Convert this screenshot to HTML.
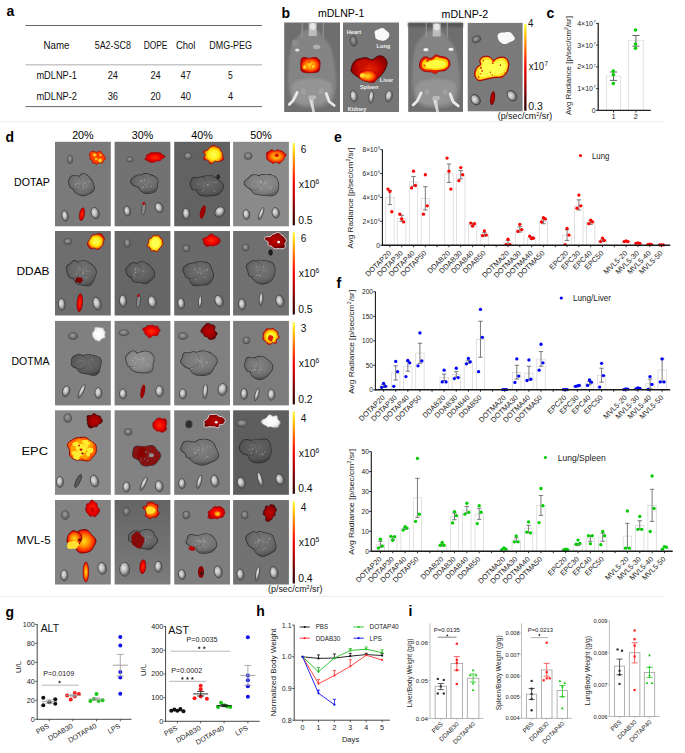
<!DOCTYPE html>
<html><head><meta charset="utf-8"><title>Figure</title>
<style>
html,body{margin:0;padding:0;background:#fff;}
body{width:685px;height:753px;overflow:hidden;}
svg{display:block;font-family:"Liberation Sans", sans-serif;}
</style></head><body>
<svg width="685" height="753" viewBox="0 0 685 753">
<defs>
<linearGradient id="cbar" x1="0" y1="1" x2="0" y2="0">
 <stop offset="0" stop-color="#2a0000"/>
 <stop offset="0.15" stop-color="#600000"/>
 <stop offset="0.35" stop-color="#b80000"/>
 <stop offset="0.5" stop-color="#f00000"/>
 <stop offset="0.62" stop-color="#ff3000"/>
 <stop offset="0.78" stop-color="#ff8c00"/>
 <stop offset="0.9" stop-color="#ffd000"/>
 <stop offset="1" stop-color="#ffff50"/>
</linearGradient>
<radialGradient id="gY"><stop offset="0" stop-color="#ffff60"/><stop offset="0.55" stop-color="#ffee10"/><stop offset="0.8" stop-color="#ff9a00"/><stop offset="1" stop-color="#d81000"/></radialGradient>
<radialGradient id="gO"><stop offset="0" stop-color="#ffe020"/><stop offset="0.45" stop-color="#ff9000"/><stop offset="0.8" stop-color="#ff3000"/><stop offset="1" stop-color="#c00000"/></radialGradient>
<radialGradient id="gR"><stop offset="0" stop-color="#ff3000"/><stop offset="0.6" stop-color="#f00000"/><stop offset="1" stop-color="#b00000"/></radialGradient>
<radialGradient id="gR2"><stop offset="0" stop-color="#e82800"/><stop offset="0.6" stop-color="#c40800"/><stop offset="1" stop-color="#900000"/></radialGradient>
<radialGradient id="gD"><stop offset="0" stop-color="#c00000"/><stop offset="0.7" stop-color="#9a0000"/><stop offset="1" stop-color="#6a0000"/></radialGradient>
<radialGradient id="gW"><stop offset="0" stop-color="#ffffff"/><stop offset="0.75" stop-color="#f4f4f4"/><stop offset="1" stop-color="#d0d0d0"/></radialGradient>
<radialGradient id="gK" cx="0.4" cy="0.4"><stop offset="0" stop-color="#e8e8e8"/><stop offset="0.6" stop-color="#b8b8b8"/><stop offset="1" stop-color="#707070"/></radialGradient>
<radialGradient id="gL" cx="0.5" cy="0.42"><stop offset="0" stop-color="#ffffff" stop-opacity="0.10"/><stop offset="0.55" stop-color="#000000" stop-opacity="0.04"/><stop offset="0.85" stop-color="#000000" stop-opacity="0.14"/><stop offset="1" stop-color="#000000" stop-opacity="0.32"/></radialGradient>
<radialGradient id="gH" cx="0.45" cy="0.4"><stop offset="0" stop-color="#a0a0a0"/><stop offset="1" stop-color="#606060"/></radialGradient>
</defs>
<defs><filter id="soft" x="-20%" y="-20%" width="140%" height="140%"><feGaussianBlur stdDeviation="1.3"/></filter><filter id="soft2" x="-20%" y="-20%" width="140%" height="140%"><feGaussianBlur stdDeviation="0.6"/></filter></defs>
<text x="6.50" y="16.20" font-size="14" font-weight="bold">a</text>
<line x1="25.50" y1="25.50" x2="262.00" y2="25.50" stroke="#555" stroke-width="0.9"/>
<line x1="25.50" y1="64.80" x2="262.00" y2="64.80" stroke="#c8c8c8" stroke-width="1.6"/>
<line x1="25.50" y1="106.60" x2="262.00" y2="106.60" stroke="#555" stroke-width="0.9"/>
<text x="43.50" y="49.10" font-size="10.2" fill="#111" textLength="26.0" lengthAdjust="spacingAndGlyphs">Name</text>
<text x="94.70" y="49.10" font-size="10.2" fill="#111" textLength="36.2" lengthAdjust="spacingAndGlyphs">5A2-SC8</text>
<text x="143.70" y="49.10" font-size="10.2" fill="#111" textLength="23.7" lengthAdjust="spacingAndGlyphs">DOPE</text>
<text x="176.00" y="49.10" font-size="10.2" fill="#111" textLength="19.4" lengthAdjust="spacingAndGlyphs">Chol</text>
<text x="209.30" y="49.10" font-size="10.2" fill="#111" textLength="42.7" lengthAdjust="spacingAndGlyphs">DMG-PEG</text>
<text x="36.40" y="79.20" font-size="10.2" fill="#111" textLength="40.6" lengthAdjust="spacingAndGlyphs">mDLNP-1</text>
<text x="107.70" y="79.20" font-size="10.2" fill="#111" textLength="10.3" lengthAdjust="spacingAndGlyphs">24</text>
<text x="150.40" y="79.20" font-size="10.2" fill="#111" textLength="10.3" lengthAdjust="spacingAndGlyphs">24</text>
<text x="180.50" y="79.20" font-size="10.2" fill="#111" textLength="10.4" lengthAdjust="spacingAndGlyphs">47</text>
<text x="228.10" y="79.20" font-size="10.2" fill="#111" textLength="4.7" lengthAdjust="spacingAndGlyphs">5</text>
<text x="36.40" y="99.80" font-size="10.2" fill="#111" textLength="40.6" lengthAdjust="spacingAndGlyphs">mDLNP-2</text>
<text x="107.70" y="99.80" font-size="10.2" fill="#111" textLength="10.3" lengthAdjust="spacingAndGlyphs">36</text>
<text x="150.40" y="99.80" font-size="10.2" fill="#111" textLength="10.3" lengthAdjust="spacingAndGlyphs">20</text>
<text x="180.50" y="99.80" font-size="10.2" fill="#111" textLength="10.4" lengthAdjust="spacingAndGlyphs">40</text>
<text x="227.90" y="99.80" font-size="10.2" fill="#111" textLength="5.1" lengthAdjust="spacingAndGlyphs">4</text>
<text x="281.50" y="18.30" font-size="14" font-weight="bold">b</text>
<text x="317.90" y="17.40" font-size="10.6" textLength="46.4" lengthAdjust="spacingAndGlyphs">mDLNP-1</text>
<text x="441.60" y="17.50" font-size="10.6" textLength="46.7" lengthAdjust="spacingAndGlyphs">mDLNP-2</text>
<rect x="284.20" y="22.50" width="55.80" height="89.50" fill="#6e6e6e"/>
<g filter="url(#soft)">
<path d="M304.2 30.5C301.0 31.5 300.2 34.2 298.2 36.5C296.2 38.8 293.7 41.2 292.2 44.5C290.7 47.8 289.9 52.2 289.2 56.5C288.5 60.8 288.4 65.8 288.2 70.5C288.0 75.2 287.9 80.2 288.2 84.5C288.5 88.8 288.9 93.2 290.2 96.5C291.5 99.8 293.5 102.7 296.2 104.5C298.9 106.3 302.5 107.0 306.2 107.5C309.9 108.0 314.5 108.0 318.2 107.5C321.9 107.0 325.5 106.3 328.2 104.5C330.9 102.7 332.9 99.8 334.2 96.5C335.5 93.2 336.0 88.8 336.2 84.5C336.4 80.2 335.7 75.2 335.2 70.5C334.7 65.8 334.2 60.8 333.2 56.5C332.2 52.2 331.0 47.8 329.2 44.5C327.4 41.2 324.2 38.8 322.2 36.5C320.2 34.2 320.2 31.5 317.2 30.5C314.2 29.5 307.4 29.5 304.2 30.5Z" fill="#848484"/>
<path d="M294.2 82.5C290.9 85.2 291.5 91.2 292.2 94.5C292.9 97.8 295.0 100.8 298.2 102.5C301.4 104.2 306.9 104.5 311.2 104.5C315.5 104.5 320.9 104.2 324.2 102.5C327.5 100.8 330.2 97.8 331.2 94.5C332.2 91.2 333.4 85.2 330.2 82.5C327.0 79.8 318.2 78.5 312.2 78.5C306.2 78.5 297.5 79.8 294.2 82.5Z" fill="#949494"/>
</g>
<g filter="url(#soft2)">
<line x1="302.20" y1="22.50" x2="302.20" y2="37.50" stroke="#9a9a9a" stroke-width="1.0"/>
<line x1="323.20" y1="22.50" x2="323.20" y2="37.50" stroke="#9a9a9a" stroke-width="1.0"/>
<rect x="308.70" y="23.00" width="8.00" height="13.00" fill="#bdbdbd"/>
<ellipse cx="312.70" cy="26.50" rx="3" ry="3.5" fill="#e6e6e6"/>
<path d="M310.2 98.5 L313.7 112.0" stroke="#e0e0e0" stroke-width="2.4" fill="none"/>
<ellipse cx="295.20" cy="43.00" rx="3.2" ry="3.6" fill="#8c8c8c"/>
<ellipse cx="297.20" cy="50.00" rx="2.2" ry="1.5" fill="#e0e0e0"/>
<ellipse cx="316.70" cy="47.00" rx="3.5" ry="2.2" fill="#b0b0b0"/>
<path d="M297.2 92.5 L293.2 100.5 L289.2 104.5" stroke="#e8e8e8" stroke-width="2.8" fill="none" stroke-linecap="round"/>
<path d="M326.2 93.5 L329.2 101.5 L334.2 105.5" stroke="#e8e8e8" stroke-width="2.8" fill="none" stroke-linecap="round"/>
<path d="M312.2 98.5 L313.7 111.5" stroke="#d0d0d0" stroke-width="1.8" fill="none"/>
<ellipse cx="312.20" cy="97.50" rx="4" ry="2.2" fill="#b8b8b8"/>
<ellipse cx="303.20" cy="91.50" rx="2.5" ry="3" fill="#a0a0a0"/>
<ellipse cx="321.20" cy="91.50" rx="2.5" ry="3" fill="#a0a0a0"/>
</g>
<path d="M301.5 58.5C302.2 57.2 303.8 57.5 305.0 57.5C306.2 57.5 307.7 58.5 309.0 58.5C310.3 58.5 311.7 57.6 313.0 57.5C314.3 57.4 315.9 57.4 317.0 58.0C318.1 58.6 319.3 59.5 319.8 61.0C320.3 62.5 320.0 65.2 319.8 67.0C319.6 68.8 319.6 70.6 318.5 71.5C317.4 72.4 315.1 72.4 313.0 72.6C310.9 72.8 307.9 72.9 306.0 72.6C304.1 72.3 302.4 72.3 301.5 71.0C300.6 69.7 300.8 67.1 300.8 65.0C300.8 62.9 300.8 59.8 301.5 58.5Z" fill="url(#gO)" stroke="#900000" stroke-width="0.8"/>
<ellipse cx="304.80" cy="67.00" rx="2.4" ry="2.6" fill="#ff9000"/>
<ellipse cx="304.80" cy="67.00" rx="1.1" ry="1.2" fill="#ffe040"/>
<ellipse cx="313.20" cy="66.40" rx="2.4" ry="2.6" fill="#ff9000"/>
<ellipse cx="313.20" cy="66.40" rx="1.1" ry="1.2" fill="#ffe040"/>
<ellipse cx="309.00" cy="61.50" rx="1.6" ry="1.4" fill="#ff5000"/>
<rect x="343.00" y="22.50" width="56.00" height="89.50" fill="#767676"/>
<ellipse cx="353.50" cy="41.00" rx="3.5" ry="5.2" fill="url(#gH)" stroke="#3c3c3c" stroke-width="0.6" transform="rotate(-10 353.50 41.00)"/>
<path d="M389.3 34.6C389.4 35.1 389.3 35.6 389.1 36.0C389.0 36.5 388.8 37.0 388.5 37.4C388.3 37.8 387.9 38.2 387.6 38.6C387.2 38.9 386.8 39.3 386.4 39.6C386.0 39.9 385.5 40.1 385.0 40.3C384.5 40.5 384.0 40.7 383.4 40.7C382.9 40.8 382.3 40.7 381.8 40.7C381.3 40.6 380.8 40.4 380.3 40.3C379.8 40.2 379.3 40.0 378.8 39.9C378.3 39.7 377.8 39.6 377.3 39.4C376.9 39.2 376.4 38.9 376.0 38.6C375.7 38.2 375.5 37.7 375.3 37.3C375.2 36.8 375.2 36.4 375.2 35.9C375.1 35.5 375.1 35.1 375.0 34.6C374.9 34.1 374.7 33.7 374.6 33.2C374.6 32.7 374.5 32.1 374.7 31.7C374.9 31.2 375.3 30.7 375.7 30.4C376.2 30.1 376.8 29.9 377.3 29.7C377.8 29.6 378.3 29.5 378.8 29.3C379.3 29.1 379.7 28.8 380.2 28.6C380.7 28.4 381.3 28.1 381.8 28.1C382.3 28.0 383.0 28.1 383.5 28.3C384.0 28.5 384.4 28.9 384.8 29.2C385.2 29.5 385.5 29.9 385.8 30.2C386.2 30.6 386.5 30.8 386.9 31.1C387.3 31.4 387.7 31.7 388.1 32.0C388.4 32.3 388.8 32.8 389.0 33.2C389.2 33.6 389.3 34.1 389.3 34.6Z" fill="#f8f8f8"/>
<path d="M351.2 69.0C351.4 67.3 352.4 64.1 353.5 62.5C354.6 60.9 355.5 60.1 357.6 59.3C359.7 58.5 363.6 57.6 366.0 57.7C368.4 57.8 369.9 60.1 372.0 59.8C374.1 59.5 376.3 56.3 378.4 55.9C380.5 55.5 383.1 56.3 384.5 57.5C385.9 58.7 387.0 60.9 387.1 62.9C387.2 64.9 385.9 67.6 385.0 69.5C384.1 71.4 383.3 72.6 381.9 74.3C380.5 76.0 378.0 78.2 376.5 79.5C375.0 80.8 375.0 82.0 373.1 82.2C371.2 82.5 367.3 81.7 365.0 81.0C362.7 80.3 361.2 79.2 359.1 77.8C357.0 76.4 353.4 74.1 352.1 72.6C350.8 71.1 351.0 70.7 351.2 69.0Z" fill="url(#gR2)" stroke="#400000" stroke-width="0.9"/>
<path d="M356.0 63.0C356.3 61.7 360.0 60.3 362.0 60.0C364.0 59.7 367.3 59.8 368.0 61.0C368.7 62.2 367.3 65.8 366.0 67.0C364.7 68.2 361.7 68.7 360.0 68.0C358.3 67.3 355.7 64.3 356.0 63.0Z" fill="#c81000" opacity="0.8"/>
<path d="M359.0 71.5C360.0 70.1 363.8 70.1 366.0 70.0C368.2 69.9 370.2 70.0 372.0 71.0C373.8 72.0 376.2 74.2 376.6 76.0C377.0 77.8 376.3 80.9 374.5 81.8C372.7 82.7 368.4 81.8 366.0 81.2C363.6 80.7 361.2 80.1 360.0 78.5C358.8 76.9 358.0 72.9 359.0 71.5Z" fill="url(#gO)" stroke="#c02000" stroke-width="0.5"/>
<ellipse cx="362.50" cy="75.50" rx="2.6" ry="2.2" fill="#ffe030"/>
<ellipse cx="353.80" cy="96.20" rx="3.4" ry="5.6" fill="url(#gK)" stroke="#3c3c3c" stroke-width="0.6" transform="rotate(-10 353.80 96.20)"/>
<ellipse cx="371.30" cy="97.10" rx="2.4" ry="6.2" fill="url(#gK)" stroke="#3c3c3c" stroke-width="0.6" transform="rotate(5 371.30 97.10)"/>
<ellipse cx="388.90" cy="96.20" rx="3.4" ry="5.6" fill="url(#gK)" stroke="#3c3c3c" stroke-width="0.6" transform="rotate(10 388.90 96.20)"/>
<text x="346.80" y="34.30" font-size="5.6" font-weight="bold" fill="#f0f0f0">Heart</text>
<text x="376.60" y="48.00" font-size="5.6" font-weight="bold" fill="#f0f0f0">Lung</text>
<text x="379.80" y="82.40" font-size="5.6" font-weight="bold" fill="#f0f0f0">Liver</text>
<text x="360.00" y="88.60" font-size="5.6" font-weight="bold" fill="#f0f0f0">Spleen</text>
<text x="347.70" y="111.30" font-size="5.6" font-weight="bold" fill="#f0f0f0">Kidney</text>
<rect x="408.20" y="22.90" width="54.80" height="89.00" fill="#6e6e6e"/>
<g filter="url(#soft)">
<rect x="408.20" y="22.90" width="54.80" height="4.00" fill="#555555"/>
<path d="M428.2 30.9C425.0 31.9 424.2 34.6 422.2 36.9C420.2 39.2 417.7 41.6 416.2 44.9C414.7 48.2 413.9 52.6 413.2 56.9C412.5 61.2 412.4 66.2 412.2 70.9C412.0 75.6 411.9 80.6 412.2 84.9C412.5 89.2 412.9 93.6 414.2 96.9C415.5 100.2 417.5 103.1 420.2 104.9C422.9 106.7 426.5 107.4 430.2 107.9C433.9 108.4 438.5 108.4 442.2 107.9C445.9 107.4 449.5 106.7 452.2 104.9C454.9 103.1 456.9 100.2 458.2 96.9C459.5 93.6 460.0 89.2 460.2 84.9C460.4 80.6 459.7 75.6 459.2 70.9C458.7 66.2 458.2 61.2 457.2 56.9C456.2 52.6 455.0 48.2 453.2 44.9C451.4 41.6 448.2 39.2 446.2 36.9C444.2 34.6 444.2 31.9 441.2 30.9C438.2 29.9 431.4 29.9 428.2 30.9Z" fill="#848484"/>
<path d="M418.2 82.9C414.9 85.6 415.5 91.6 416.2 94.9C416.9 98.2 419.0 101.2 422.2 102.9C425.4 104.6 430.9 104.9 435.2 104.9C439.5 104.9 444.9 104.6 448.2 102.9C451.5 101.2 454.2 98.2 455.2 94.9C456.2 91.6 457.4 85.6 454.2 82.9C451.0 80.2 442.2 78.9 436.2 78.9C430.2 78.9 421.5 80.2 418.2 82.9Z" fill="#949494"/>
</g>
<g filter="url(#soft2)">
<line x1="426.20" y1="22.90" x2="426.20" y2="37.90" stroke="#9a9a9a" stroke-width="1.0"/>
<line x1="447.20" y1="22.90" x2="447.20" y2="37.90" stroke="#9a9a9a" stroke-width="1.0"/>
<rect x="432.70" y="23.40" width="8.00" height="13.00" fill="#bdbdbd"/>
<ellipse cx="436.70" cy="26.90" rx="3" ry="3.5" fill="#e6e6e6"/>
<path d="M434.2 98.9 L437.7 112.4" stroke="#e0e0e0" stroke-width="2.4" fill="none"/>
<ellipse cx="425.90" cy="49.70" rx="2.6" ry="1.6" fill="#f0f0f0"/>
<ellipse cx="451.00" cy="49.30" rx="2.6" ry="1.6" fill="#f0f0f0"/>
<path d="M421.2 92.9 L417.2 100.9 L413.2 104.9" stroke="#e8e8e8" stroke-width="2.8" fill="none" stroke-linecap="round"/>
<path d="M450.2 93.9 L453.2 101.9 L458.2 105.9" stroke="#e8e8e8" stroke-width="2.8" fill="none" stroke-linecap="round"/>
<path d="M436.2 98.9 L437.7 111.9" stroke="#d0d0d0" stroke-width="1.8" fill="none"/>
<ellipse cx="436.20" cy="97.90" rx="4" ry="2.2" fill="#b8b8b8"/>
<ellipse cx="427.20" cy="91.90" rx="2.5" ry="3" fill="#a0a0a0"/>
<ellipse cx="445.20" cy="91.90" rx="2.5" ry="3" fill="#a0a0a0"/>
</g>
<path d="M420.5 61.0C421.1 59.9 421.9 58.2 423.0 57.5C424.1 56.8 425.8 56.8 427.0 57.0C428.2 57.2 429.0 58.5 430.0 58.5C431.0 58.5 432.0 57.6 433.0 57.0C434.0 56.4 435.0 55.0 436.0 54.8C437.0 54.6 438.0 55.7 439.0 56.0C440.0 56.3 440.8 56.2 442.0 56.5C443.2 56.8 444.8 56.8 446.0 57.5C447.2 58.2 448.9 59.5 449.5 61.0C450.1 62.5 450.1 64.9 449.3 66.5C448.6 68.1 446.7 69.7 445.0 70.5C443.3 71.3 440.6 70.7 439.0 71.2C437.4 71.7 436.8 73.5 435.5 73.6C434.2 73.7 433.4 72.4 431.5 72.0C429.6 71.6 425.9 71.9 424.0 71.2C422.1 70.5 420.7 69.2 420.0 68.0C419.3 66.8 419.5 65.2 419.6 64.0C419.7 62.8 419.9 62.1 420.5 61.0Z" fill="#e82000" stroke="#900000" stroke-width="0.8"/>
<path d="M422.5 62.0C423.1 60.6 424.8 59.5 426.0 59.2C427.2 59.0 428.7 60.5 430.0 60.5C431.3 60.5 432.9 59.6 434.0 59.0C435.1 58.4 435.3 57.1 436.5 57.0C437.7 56.9 439.4 57.9 441.0 58.3C442.6 58.7 444.8 58.8 446.0 59.5C447.2 60.2 447.8 61.3 448.0 62.5C448.2 63.7 448.3 65.4 447.5 66.5C446.7 67.6 444.9 68.7 443.0 69.3C441.1 69.9 438.5 70.0 436.0 70.0C433.5 70.0 430.2 70.0 428.0 69.6C425.8 69.2 423.4 68.8 422.5 67.5C421.6 66.2 421.9 63.4 422.5 62.0Z" fill="#ffd000"/>
<path d="M425.0 63.0C425.8 62.2 428.3 62.0 430.0 61.5C431.7 61.0 433.3 60.2 435.0 60.0C436.7 59.8 438.2 60.1 440.0 60.5C441.8 60.9 444.7 61.6 445.5 62.5C446.3 63.4 446.2 65.0 445.0 66.0C443.8 67.0 440.7 68.0 438.0 68.3C435.3 68.6 431.2 68.4 429.0 68.0C426.8 67.6 425.7 66.8 425.0 66.0C424.3 65.2 424.2 63.8 425.0 63.0Z" fill="#ffff40"/>
<ellipse cx="427.50" cy="60.80" rx="1.4" ry="1.1" fill="#e03000"/>
<ellipse cx="424.50" cy="65.50" rx="1.1" ry="1.0" fill="#f04000"/>
<rect x="467.70" y="22.90" width="54.90" height="88.40" fill="#7a7a7a"/>
<ellipse cx="476.30" cy="39.30" rx="4.5" ry="3.3" fill="url(#gH)" stroke="#3c3c3c" stroke-width="0.6" transform="rotate(-20 476.30 39.30)"/>
<path d="M514.7 37.7C514.8 38.1 514.9 38.7 514.8 39.1C514.6 39.5 514.2 40.0 513.8 40.3C513.4 40.7 512.7 40.9 512.2 41.2C511.7 41.4 511.1 41.6 510.6 41.8C510.1 42.0 509.7 42.2 509.2 42.5C508.7 42.7 508.2 43.1 507.7 43.3C507.1 43.6 506.5 43.8 505.8 43.9C505.1 44.0 504.4 44.0 503.7 43.9C503.1 43.8 502.5 43.5 501.9 43.2C501.4 42.9 500.9 42.6 500.5 42.3C500.1 41.9 499.7 41.6 499.4 41.2C499.0 40.8 498.8 40.5 498.6 40.1C498.3 39.7 498.2 39.3 498.1 38.9C497.9 38.5 497.9 38.1 497.8 37.7C497.7 37.3 497.6 36.9 497.6 36.4C497.6 36.0 497.5 35.5 497.7 35.0C497.8 34.6 498.1 34.1 498.5 33.7C498.9 33.4 499.6 33.1 500.2 32.9C500.8 32.7 501.5 32.6 502.2 32.6C502.8 32.5 503.4 32.5 504.0 32.5C504.6 32.4 505.2 32.3 505.8 32.2C506.4 32.2 507.1 32.0 507.7 32.0C508.3 32.0 509.1 32.1 509.7 32.2C510.2 32.4 510.8 32.7 511.2 33.0C511.7 33.4 512.0 33.8 512.3 34.2C512.6 34.6 512.8 34.9 513.0 35.3C513.3 35.7 513.6 36.0 513.9 36.4C514.2 36.8 514.6 37.3 514.7 37.7Z" fill="#f8f8f8"/>
<path d="M474.6 72.6C474.9 71.0 475.8 68.8 476.8 67.5C477.8 66.2 479.9 65.8 480.4 64.6C480.9 63.4 479.2 61.5 479.7 60.2C480.2 58.9 481.8 57.2 483.4 56.6C485.0 56.0 487.5 56.0 489.2 56.6C490.9 57.2 492.3 60.0 493.6 60.2C494.9 60.4 495.8 58.5 497.2 58.0C498.6 57.5 500.7 56.9 502.3 57.0C503.9 57.1 505.6 57.5 506.7 58.8C507.8 60.1 508.9 62.3 508.9 64.6C508.9 66.9 507.9 70.5 506.7 72.6C505.5 74.7 503.8 76.2 501.6 77.0C499.4 77.8 496.2 77.3 493.6 77.7C491.1 78.1 488.7 78.7 486.3 79.2C483.9 79.7 480.8 81.1 479.0 80.7C477.2 80.3 476.0 78.3 475.3 77.0C474.6 75.7 474.4 74.2 474.6 72.6Z" fill="#ff3000" stroke="#900000" stroke-width="0.9"/>
<path d="M475.8 72.5C476.1 71.0 476.9 69.1 477.8 67.8C478.7 66.5 480.8 66.0 481.3 64.8C481.8 63.6 480.3 61.6 480.7 60.4C481.1 59.2 482.5 58.1 483.9 57.6C485.3 57.1 487.4 57.0 489.0 57.6C490.6 58.2 492.1 61.0 493.5 61.2C494.9 61.4 495.9 59.5 497.3 59.0C498.8 58.5 500.8 57.9 502.2 58.0C503.6 58.1 505.1 58.5 506.0 59.6C506.9 60.7 507.9 62.7 507.9 64.8C507.9 66.9 507.0 70.3 505.9 72.2C504.8 74.1 503.2 75.3 501.2 76.1C499.1 76.9 496.1 76.4 493.6 76.8C491.1 77.2 488.6 77.8 486.2 78.3C483.8 78.8 481.0 79.8 479.3 79.6C477.6 79.3 476.8 78.0 476.2 76.8C475.6 75.6 475.5 74.0 475.8 72.5Z" fill="#ffe020"/>
<path d="M479.0 71.0C479.2 69.2 481.2 67.7 482.0 66.0C482.8 64.3 482.8 62.0 484.0 61.0C485.2 60.0 487.5 59.6 489.0 60.0C490.5 60.4 491.7 63.3 493.0 63.5C494.3 63.7 495.3 61.5 497.0 61.0C498.7 60.5 501.5 59.8 503.0 60.5C504.5 61.2 505.8 63.2 506.0 65.0C506.2 66.8 505.3 69.4 504.0 71.0C502.7 72.6 500.3 73.8 498.0 74.5C495.7 75.2 492.8 75.1 490.0 75.5C487.2 75.9 482.8 77.8 481.0 77.0C479.2 76.2 478.8 72.8 479.0 71.0Z" fill="#ffff50"/>
<ellipse cx="475.60" cy="99.70" rx="4.3" ry="5.6" fill="url(#gK)" stroke="#303030" stroke-width="0.7" transform="rotate(-35 475.60 99.70)"/>
<ellipse cx="492.60" cy="98.20" rx="2.4" ry="7.0" fill="url(#gD)" transform="rotate(8 492.60 98.20)"/>
<ellipse cx="512.00" cy="95.70" rx="4.3" ry="5.6" fill="url(#gK)" stroke="#303030" stroke-width="0.7" transform="rotate(-40 512.00 95.70)"/>
<rect x="524.20" y="24.00" width="2.30" height="86.80" fill="url(#cbar)"/>
<text x="528.00" y="26.80" font-size="10" fill="#111" textLength="5.4" lengthAdjust="spacingAndGlyphs">4</text>
<text x="528.70" y="70.20" font-size="10" fill="#111" textLength="19.2" lengthAdjust="spacingAndGlyphs">x10<tspan dx="0.3" dy="-4" font-size="6.4">7</tspan></text>
<text x="528.20" y="110.10" font-size="10" fill="#111" textLength="14.6" lengthAdjust="spacingAndGlyphs">0.3</text>
<text x="497.70" y="119.30" font-size="8.8" fill="#111" textLength="54.5" lengthAdjust="spacingAndGlyphs">(p/sec/cm<tspan dy="-3.2" font-size="5.4">2</tspan><tspan dy="3.2">/sr)</tspan></text>
<line x1="0.00" y1="121.70" x2="663.00" y2="121.70" stroke="#e6e6e6" stroke-width="0.8"/>
<line x1="0.00" y1="596.40" x2="663.00" y2="596.40" stroke="#e6e6e6" stroke-width="0.8"/>
<ellipse cx="500.38" cy="65.19" rx="0.6442961090496041" ry="0.9112779346840907" fill="#e02000"/>
<ellipse cx="481.22" cy="68.05" rx="0.8347368374453423" ry="0.8056665332533811" fill="#e02000"/>
<ellipse cx="482.07" cy="70.98" rx="0.8003718659390189" ry="0.9255594174561667" fill="#e02000"/>
<ellipse cx="478.79" cy="77.19" rx="0.6036079084535176" ry="0.9066776305110407" fill="#e02000"/>
<ellipse cx="492.20" cy="74.88" rx="0.6097244158304739" ry="0.660741135915027" fill="#e02000"/>
<ellipse cx="480.44" cy="73.80" rx="0.8203809595242034" ry="0.6024881386220393" fill="#e02000"/>
<ellipse cx="483.37" cy="60.54" rx="0.6200791792447735" ry="0.7800520915580975" fill="#e02000"/>
<ellipse cx="490.25" cy="72.38" rx="0.5457792867713178" ry="0.9197434328548777" fill="#e02000"/>
<ellipse cx="505.50" cy="73.05" rx="0.9458801597157545" ry="0.9248721528342578" fill="#e02000"/>
<ellipse cx="480.66" cy="67.76" rx="0.5475986775019508" ry="0.8907841324217147" fill="#e02000"/>
<ellipse cx="493.06" cy="61.02" rx="0.7668549669998994" ry="0.8884208907176903" fill="#e02000"/>
<ellipse cx="493.46" cy="61.31" rx="1.0621116944986109" ry="0.5281968669153282" fill="#e02000"/>
<ellipse cx="501.61" cy="77.51" rx="0.9506349127703173" ry="0.9729334436565342" fill="#e02000"/>
<ellipse cx="492.87" cy="63.16" rx="0.7833733278631148" ry="0.8690747400311489" fill="#e02000"/>
<text x="546.50" y="17.50" font-size="14" font-weight="bold">c</text>
<line x1="596.00" y1="110.40" x2="598.20" y2="110.40" stroke="#222" stroke-width="0.9"/>
<text x="595.60" y="112.90" font-size="7.0" text-anchor="end" fill="#222">0</text>
<line x1="596.00" y1="88.65" x2="598.20" y2="88.65" stroke="#222" stroke-width="0.9"/>
<text x="595.80" y="91.15" font-size="7.0" text-anchor="end" fill="#222">1×10<tspan dx="0.5" dy="-2.8" font-size="4.2">7</tspan></text>
<line x1="596.00" y1="66.90" x2="598.20" y2="66.90" stroke="#222" stroke-width="0.9"/>
<text x="595.80" y="69.40" font-size="7.0" text-anchor="end" fill="#222">2×10<tspan dx="0.5" dy="-2.8" font-size="4.2">7</tspan></text>
<line x1="596.00" y1="45.15" x2="598.20" y2="45.15" stroke="#222" stroke-width="0.9"/>
<text x="595.80" y="47.65" font-size="7.0" text-anchor="end" fill="#222">3×10<tspan dx="0.5" dy="-2.8" font-size="4.2">7</tspan></text>
<line x1="596.00" y1="23.40" x2="598.20" y2="23.40" stroke="#222" stroke-width="0.9"/>
<text x="595.80" y="25.90" font-size="7.0" text-anchor="end" fill="#222">4×10<tspan dx="0.5" dy="-2.8" font-size="4.2">7</tspan></text>
<line x1="613.50" y1="110.40" x2="613.50" y2="112.60" stroke="#222" stroke-width="0.9"/>
<line x1="635.90" y1="110.40" x2="635.90" y2="112.60" stroke="#222" stroke-width="0.9"/>
<text x="613.50" y="119.30" font-size="7.4" text-anchor="middle" fill="#222">1</text>
<text x="635.90" y="119.30" font-size="7.4" text-anchor="middle" fill="#222">2</text>
<rect x="606.40" y="76.10" width="14.20" height="34.30" fill="#fff" stroke="#d8d8d8" stroke-width="0.7"/>
<rect x="628.60" y="40.20" width="14.60" height="70.20" fill="#fff" stroke="#d8d8d8" stroke-width="0.7"/>
<line x1="613.50" y1="80.40" x2="613.50" y2="72.00" stroke="#555" stroke-width="0.9"/>
<line x1="609.90" y1="80.40" x2="617.10" y2="80.40" stroke="#555" stroke-width="0.9"/>
<line x1="609.90" y1="72.00" x2="617.10" y2="72.00" stroke="#555" stroke-width="0.9"/>
<line x1="635.90" y1="46.20" x2="635.90" y2="35.50" stroke="#555" stroke-width="0.9"/>
<line x1="632.30" y1="46.20" x2="639.50" y2="46.20" stroke="#555" stroke-width="0.9"/>
<line x1="632.30" y1="35.50" x2="639.50" y2="35.50" stroke="#555" stroke-width="0.9"/>
<circle cx="613.30" cy="71.00" r="1.75" fill="#00d000"/>
<circle cx="613.30" cy="74.70" r="1.75" fill="#00d000"/>
<circle cx="613.30" cy="83.40" r="1.75" fill="#00d000"/>
<circle cx="635.50" cy="30.00" r="1.75" fill="#00d000"/>
<circle cx="635.50" cy="43.90" r="1.75" fill="#00d000"/>
<circle cx="635.50" cy="48.20" r="1.75" fill="#00d000"/>
<line x1="598.20" y1="23.00" x2="598.20" y2="111.00" stroke="#222" stroke-width="1.3"/>
<line x1="597.60" y1="110.40" x2="650.80" y2="110.40" stroke="#222" stroke-width="1.3"/>
<text x="570.80" y="65.60" font-size="8.0" text-anchor="middle" fill="#222" textLength="99" lengthAdjust="spacingAndGlyphs" transform="rotate(-90 570.80 65.60)">Avg Radiance [p/sec/cm<tspan dy="-3" font-size="5.2">2</tspan><tspan dy="3">/sr]</tspan></text>
<text x="5.50" y="141.60" font-size="14" font-weight="bold">d</text>
<text x="82.90" y="138.70" font-size="10.4" text-anchor="middle" textLength="21.5" lengthAdjust="spacingAndGlyphs">20%</text>
<text x="142.50" y="138.70" font-size="10.4" text-anchor="middle" textLength="21.5" lengthAdjust="spacingAndGlyphs">30%</text>
<text x="202.10" y="138.70" font-size="10.4" text-anchor="middle" textLength="21.5" lengthAdjust="spacingAndGlyphs">40%</text>
<text x="261.00" y="138.70" font-size="10.4" text-anchor="middle" textLength="21.5" lengthAdjust="spacingAndGlyphs">50%</text>
<text x="14.00" y="186.10" font-size="10.4" textLength="35.8" lengthAdjust="spacingAndGlyphs">DOTAP</text>
<rect x="55.00" y="141.80" width="55.80" height="84.50" fill="#7a7a7a"/>
<ellipse cx="70.00" cy="159.40" rx="2.6" ry="4.4" fill="url(#gH)" stroke="#404040" stroke-width="0.5"/>
<defs><path id="a311" d="M93.8 185.4C93.9 186.2 94.1 187.2 94.1 188.0C94.0 188.9 93.7 189.8 93.3 190.6C92.9 191.3 92.1 191.9 91.5 192.4C90.8 192.9 90.0 193.1 89.3 193.5C88.6 193.8 88.0 194.1 87.3 194.4C86.7 194.7 86.1 195.1 85.4 195.3C84.7 195.5 84.0 195.7 83.3 195.7C82.6 195.7 81.9 195.5 81.2 195.3C80.5 195.1 79.9 194.8 79.2 194.5C78.6 194.2 77.9 193.9 77.3 193.5C76.6 193.2 75.9 192.8 75.4 192.2C74.8 191.7 74.2 191.0 73.8 190.3C73.4 189.6 73.1 188.8 72.8 188.0C72.6 187.1 72.4 186.2 72.4 185.4C72.4 184.5 72.5 183.6 72.7 182.8C73.0 182.0 73.5 181.2 74.0 180.6C74.6 180.0 75.4 179.5 76.0 179.1C76.7 178.7 77.3 178.5 77.9 178.1C78.5 177.6 78.9 177.2 79.4 176.6C79.9 176.1 80.4 175.3 81.1 174.9C81.7 174.4 82.5 174.0 83.3 173.9C84.1 173.8 84.9 174.0 85.6 174.3C86.4 174.6 87.0 175.2 87.6 175.7C88.2 176.2 88.7 176.8 89.2 177.4C89.8 177.9 90.2 178.4 90.7 179.0C91.1 179.6 91.6 180.2 91.9 180.9C92.3 181.6 92.6 182.3 92.9 183.0C93.2 183.8 93.6 184.5 93.8 185.4Z"/><path id="b311" d="M81.7 182.5C81.7 183.0 81.7 183.5 81.6 184.1C81.5 184.6 81.3 185.1 81.1 185.6C81.0 186.1 80.7 186.6 80.4 187.0C80.2 187.5 79.9 187.9 79.5 188.3C79.1 188.6 78.6 188.9 78.2 189.1C77.7 189.3 77.2 189.3 76.7 189.3C76.2 189.3 75.7 189.2 75.2 189.2C74.8 189.1 74.3 189.0 73.9 188.9C73.5 188.8 73.0 188.7 72.6 188.5C72.2 188.3 71.7 188.1 71.3 187.8C70.9 187.6 70.6 187.2 70.3 186.8C70.0 186.4 69.7 186.0 69.5 185.5C69.3 185.0 69.1 184.5 69.0 184.0C68.8 183.5 68.8 183.0 68.8 182.5C68.8 181.9 68.9 181.4 69.0 180.9C69.1 180.4 69.2 179.9 69.4 179.4C69.6 178.9 69.8 178.4 70.1 178.0C70.4 177.5 70.7 177.1 71.1 176.7C71.5 176.4 71.9 176.1 72.4 175.9C72.8 175.7 73.3 175.7 73.8 175.6C74.3 175.6 74.8 175.6 75.2 175.6C75.7 175.6 76.2 175.7 76.6 175.8C77.1 175.9 77.6 176.0 78.0 176.2C78.4 176.4 78.8 176.7 79.2 177.1C79.5 177.4 79.8 177.8 80.1 178.3C80.3 178.7 80.5 179.1 80.8 179.5C81.0 180.0 81.2 180.4 81.4 180.9C81.5 181.4 81.7 181.9 81.7 182.5Z"/><clipPath id="lv311"><use href="#a311"/><use href="#b311"/></clipPath></defs>
<g fill="none" stroke="#2a2a2a" stroke-width="1.3"><use href="#a311"/><use href="#b311"/></g>
<g fill="#7a7a7a"><use href="#a311"/><use href="#b311"/></g>
<rect x="66.92" y="171.93" width="29.44" height="25.74" fill="url(#gL)" clip-path="url(#lv311)"/>
<use href="#b311" fill="none" stroke="#000" stroke-opacity="0.18" stroke-width="0.8" clip-path="url(#lv311)"/>
<circle cx="86.15" cy="182.83" r="0.45" fill="#dadada"/>
<circle cx="75.60" cy="184.71" r="0.45" fill="#dadada"/>
<circle cx="88.27" cy="181.75" r="0.45" fill="#dadada"/>
<circle cx="82.38" cy="185.73" r="0.45" fill="#dadada"/>
<circle cx="77.79" cy="183.51" r="0.45" fill="#dadada"/>
<circle cx="78.94" cy="187.94" r="0.45" fill="#dadada"/>
<circle cx="83.30" cy="187.81" r="0.45" fill="#dadada"/>
<circle cx="84.42" cy="183.16" r="0.45" fill="#dadada"/>
<circle cx="86.59" cy="186.16" r="0.45" fill="#dadada"/>
<path d="M105.1 157.4C105.3 157.8 105.5 158.2 105.5 158.6C105.4 159.0 105.1 159.4 104.8 159.7C104.5 160.0 103.8 160.2 103.5 160.4C103.2 160.7 103.1 161.0 103.0 161.4C102.9 161.7 103.0 162.4 102.8 162.7C102.5 163.0 102.1 163.2 101.6 163.2C101.2 163.2 100.4 162.7 100.0 162.6C99.5 162.5 99.2 162.3 98.9 162.4C98.6 162.6 98.4 163.2 98.1 163.5C97.8 163.8 97.5 164.3 97.1 164.3C96.7 164.4 96.3 164.0 96.0 163.8C95.7 163.6 95.4 163.3 95.1 163.2C94.7 163.1 94.3 163.3 93.9 163.3C93.5 163.2 93.0 163.2 92.7 163.0C92.5 162.7 92.5 162.2 92.4 161.8C92.3 161.4 92.5 160.9 92.4 160.6C92.2 160.3 91.8 160.2 91.5 160.1C91.2 159.9 90.5 159.7 90.3 159.5C90.0 159.2 90.0 158.8 90.0 158.4C90.0 158.1 90.3 157.7 90.3 157.4C90.3 157.1 90.2 156.7 90.0 156.4C89.9 156.0 89.5 155.5 89.4 155.1C89.3 154.6 89.3 154.2 89.4 153.8C89.5 153.4 89.8 153.0 90.1 152.7C90.4 152.4 90.7 152.0 91.1 151.8C91.4 151.6 91.8 151.3 92.3 151.3C92.8 151.2 93.3 151.3 93.8 151.4C94.3 151.5 94.8 151.8 95.2 152.0C95.6 152.1 95.9 152.3 96.2 152.3C96.5 152.4 96.8 152.3 97.1 152.2C97.4 152.1 97.7 152.0 98.0 151.8C98.4 151.7 98.8 151.4 99.2 151.4C99.6 151.3 100.1 151.2 100.4 151.3C100.8 151.4 101.0 151.8 101.2 152.1C101.4 152.4 101.5 152.9 101.6 153.2C101.8 153.5 102.0 153.7 102.2 153.9C102.5 154.2 102.9 154.3 103.2 154.5C103.5 154.7 103.8 155.0 104.0 155.3C104.2 155.6 104.3 156.0 104.4 156.3C104.6 156.7 104.9 157.0 105.1 157.4Z" fill="#ff4000" stroke="#b00000" stroke-width="0.8"/>
<ellipse cx="94.60" cy="154.90" rx="2.0" ry="1.8" fill="#ffa000"/>
<ellipse cx="94.60" cy="154.90" rx="1.1" ry="1.0" fill="#ffe040"/>
<ellipse cx="100.10" cy="160.40" rx="2.4" ry="2.16" fill="#ffa000"/>
<ellipse cx="100.10" cy="160.40" rx="1.32" ry="1.2" fill="#ffe040"/>
<ellipse cx="96.10" cy="158.90" rx="1.5" ry="1.35" fill="#ffa000"/>
<ellipse cx="96.10" cy="158.90" rx="0.8250000000000001" ry="0.75" fill="#ffe040"/>
<ellipse cx="100.60" cy="154.90" rx="1.3" ry="1.1700000000000002" fill="#ffa000"/>
<ellipse cx="100.60" cy="154.90" rx="0.7150000000000001" ry="0.65" fill="#ffe040"/>
<ellipse cx="65.10" cy="215.90" rx="3.1" ry="5.4" fill="url(#gK)" stroke="#303030" stroke-width="0.6" transform="rotate(-10 65.10 215.90)"/>
<ellipse cx="95.10" cy="213.10" rx="4.0" ry="5.8" fill="url(#gK)" stroke="#303030" stroke-width="0.6" transform="rotate(-15 95.10 213.10)"/>
<ellipse cx="82.00" cy="214.20" rx="2.5" ry="6.5" fill="url(#gR)" stroke="#800000" stroke-width="0.5" transform="rotate(10 82.00 214.20)"/>
<rect x="114.60" y="141.80" width="55.80" height="84.50" fill="#727272"/>
<ellipse cx="129.90" cy="159.40" rx="3.5" ry="2.5" fill="url(#gH)" stroke="#404040" stroke-width="0.5"/>
<defs><path id="a322" d="M157.5 183.6C157.4 184.2 157.3 184.8 157.2 185.5C157.2 186.1 157.2 186.8 157.0 187.5C156.9 188.1 156.7 188.9 156.3 189.5C155.9 190.1 155.3 190.7 154.7 191.2C154.1 191.7 153.3 192.1 152.5 192.4C151.8 192.7 150.9 192.9 150.1 193.1C149.2 193.2 148.4 193.3 147.5 193.3C146.7 193.3 145.8 193.2 145.0 193.0C144.2 192.8 143.4 192.4 142.7 192.0C142.0 191.6 141.4 191.1 140.9 190.6C140.3 190.1 139.9 189.6 139.5 189.0C139.0 188.5 138.6 187.9 138.3 187.3C137.9 186.8 137.5 186.2 137.3 185.6C137.1 184.9 136.8 184.3 136.8 183.6C136.8 182.9 136.9 182.2 137.1 181.6C137.3 181.0 137.7 180.3 138.0 179.7C138.4 179.1 138.8 178.6 139.2 178.0C139.6 177.4 140.0 176.8 140.6 176.3C141.1 175.7 141.7 175.1 142.4 174.7C143.1 174.2 144.0 173.9 144.8 173.7C145.7 173.6 146.7 173.7 147.5 173.8C148.4 174.0 149.2 174.4 149.9 174.7C150.7 175.0 151.3 175.4 152.1 175.7C152.8 176.0 153.5 176.2 154.2 176.6C154.9 176.9 155.6 177.3 156.2 177.8C156.8 178.3 157.2 178.9 157.5 179.6C157.8 180.2 157.8 181.0 157.8 181.6C157.8 182.3 157.6 183.0 157.5 183.6Z"/><path id="b322" d="M146.2 181.1C146.2 181.6 146.1 182.1 145.9 182.5C145.7 183.0 145.4 183.4 145.1 183.7C144.8 184.1 144.4 184.4 144.0 184.7C143.7 185.1 143.3 185.3 142.9 185.6C142.5 185.9 142.1 186.1 141.6 186.3C141.2 186.5 140.7 186.7 140.2 186.8C139.7 186.9 139.2 186.9 138.7 186.9C138.2 186.9 137.7 186.8 137.2 186.6C136.7 186.5 136.3 186.4 135.8 186.2C135.4 186.0 134.9 185.9 134.5 185.6C134.0 185.4 133.6 185.2 133.1 184.9C132.7 184.6 132.3 184.3 131.9 183.9C131.6 183.5 131.3 183.0 131.1 182.6C131.0 182.1 130.9 181.6 131.0 181.1C131.0 180.6 131.2 180.1 131.5 179.7C131.7 179.3 132.1 178.9 132.5 178.5C132.8 178.2 133.2 177.9 133.6 177.6C134.0 177.3 134.3 177.1 134.7 176.8C135.1 176.5 135.4 176.3 135.8 176.0C136.3 175.8 136.7 175.5 137.2 175.4C137.7 175.2 138.2 175.1 138.7 175.1C139.2 175.1 139.8 175.1 140.3 175.2C140.8 175.4 141.2 175.6 141.7 175.8C142.1 176.0 142.6 176.2 143.0 176.5C143.4 176.8 143.8 177.1 144.1 177.4C144.5 177.7 144.9 178.0 145.2 178.4C145.5 178.8 145.8 179.2 146.0 179.7C146.1 180.1 146.3 180.6 146.2 181.1Z"/><clipPath id="lv322"><use href="#a322"/><use href="#b322"/></clipPath></defs>
<g fill="none" stroke="#2a2a2a" stroke-width="1.3"><use href="#a322"/><use href="#b322"/></g>
<g fill="#727272"><use href="#a322"/><use href="#b322"/></g>
<rect x="129.60" y="172.10" width="32.20" height="22.00" fill="url(#gL)" clip-path="url(#lv322)"/>
<use href="#b322" fill="none" stroke="#000" stroke-opacity="0.18" stroke-width="0.8" clip-path="url(#lv322)"/>
<circle cx="151.45" cy="186.43" r="0.45" fill="#dadada"/>
<circle cx="144.47" cy="179.68" r="0.45" fill="#dadada"/>
<circle cx="142.35" cy="188.02" r="0.45" fill="#dadada"/>
<circle cx="140.39" cy="180.78" r="0.45" fill="#dadada"/>
<circle cx="146.41" cy="186.37" r="0.45" fill="#dadada"/>
<circle cx="141.47" cy="181.19" r="0.45" fill="#dadada"/>
<circle cx="141.15" cy="186.61" r="0.45" fill="#dadada"/>
<circle cx="143.51" cy="186.74" r="0.45" fill="#dadada"/>
<circle cx="145.27" cy="184.81" r="0.45" fill="#dadada"/>
<path d="M164.5 157.2C164.3 157.5 163.7 157.7 163.4 157.9C163.0 158.2 162.6 158.4 162.3 158.6C162.0 158.8 161.8 158.9 161.6 159.1C161.4 159.3 161.3 159.5 161.1 159.8C160.9 160.0 160.8 160.2 160.5 160.4C160.2 160.6 159.9 160.7 159.4 160.8C159.0 160.9 158.5 160.9 158.0 160.9C157.6 160.9 157.1 160.8 156.8 160.9C156.4 161.0 156.1 161.1 155.7 161.3C155.4 161.5 155.0 161.8 154.5 162.0C154.0 162.2 153.5 162.3 153.0 162.4C152.4 162.4 151.9 162.4 151.4 162.3C150.9 162.3 150.3 162.2 149.9 162.0C149.4 161.9 149.0 161.7 148.6 161.5C148.2 161.3 148.0 161.1 147.7 160.8C147.4 160.6 147.1 160.4 146.7 160.2C146.3 160.0 145.7 159.9 145.4 159.7C145.1 159.5 144.7 159.2 144.7 158.9C144.7 158.6 145.2 158.2 145.5 158.0C145.9 157.7 146.6 157.4 146.8 157.2C147.0 157.0 146.9 156.8 146.8 156.6C146.7 156.3 146.2 156.0 146.2 155.8C146.1 155.5 146.3 155.2 146.6 155.0C146.9 154.9 147.5 154.8 147.9 154.6C148.3 154.5 148.6 154.4 148.8 154.2C149.1 154.0 149.1 153.7 149.4 153.4C149.6 153.2 149.9 152.9 150.3 152.8C150.7 152.7 151.3 152.7 151.8 152.7C152.2 152.7 152.7 152.7 153.2 152.7C153.6 152.7 154.0 152.6 154.5 152.6C155.0 152.6 155.4 152.6 155.9 152.6C156.3 152.6 156.8 152.6 157.3 152.7C157.8 152.7 158.3 152.6 158.8 152.7C159.3 152.7 160.0 152.7 160.4 152.9C160.8 153.0 161.1 153.3 161.3 153.5C161.6 153.8 161.5 154.1 161.7 154.4C161.9 154.6 162.2 154.8 162.6 155.0C162.9 155.2 163.6 155.3 164.0 155.5C164.4 155.8 164.9 156.0 165.0 156.3C165.1 156.6 164.8 156.9 164.5 157.2Z" fill="url(#gR)" stroke="#a00000" stroke-width="0.7"/>
<ellipse cx="127.30" cy="211.10" rx="3.2" ry="5" fill="url(#gK)" stroke="#303030" stroke-width="0.6" transform="rotate(-10 127.30 211.10)"/>
<ellipse cx="159.20" cy="207.60" rx="3.8" ry="5.2" fill="url(#gK)" stroke="#303030" stroke-width="0.6" transform="rotate(-25 159.20 207.60)"/>
<ellipse cx="143.70" cy="208.50" rx="1.8" ry="6.5" fill="#8c8c8c" stroke="#2a2a2a" stroke-width="0.5" transform="rotate(8 143.70 208.50)"/>
<ellipse cx="143.70" cy="203.50" rx="1.2" ry="1.6" fill="#c00000"/>
<rect x="174.20" y="141.80" width="55.80" height="84.50" fill="#626262"/>
<ellipse cx="188.10" cy="156.00" rx="4" ry="3.5" fill="url(#gH)" stroke="#404040" stroke-width="0.5"/>
<defs><path id="a333" d="M223.3 186.4C223.3 187.1 223.0 187.9 222.7 188.7C222.4 189.4 221.9 190.1 221.4 190.8C221.0 191.5 220.5 192.2 219.8 192.8C219.2 193.4 218.5 194.0 217.7 194.4C216.9 194.8 215.9 195.1 214.9 195.3C214.0 195.5 212.9 195.4 212.0 195.5C211.0 195.5 210.2 195.5 209.3 195.5C208.3 195.6 207.4 195.8 206.4 195.8C205.4 195.9 204.3 196.0 203.3 195.8C202.3 195.7 201.2 195.3 200.3 194.9C199.5 194.4 198.8 193.7 198.2 193.1C197.7 192.4 197.3 191.6 197.0 190.9C196.6 190.1 196.4 189.4 196.3 188.6C196.1 187.9 196.1 187.1 196.2 186.4C196.2 185.6 196.5 184.9 196.8 184.2C197.1 183.5 197.5 182.8 198.0 182.2C198.4 181.6 198.9 180.9 199.4 180.3C199.9 179.7 200.4 179.1 201.1 178.5C201.8 178.0 202.5 177.4 203.4 177.0C204.2 176.6 205.2 176.2 206.2 176.0C207.1 175.7 208.2 175.6 209.3 175.6C210.3 175.7 211.4 175.8 212.3 176.1C213.3 176.4 214.1 176.9 214.9 177.4C215.7 177.9 216.3 178.5 217.0 179.0C217.6 179.5 218.2 180.0 218.8 180.5C219.4 181.1 220.2 181.5 220.8 182.1C221.5 182.7 222.2 183.3 222.6 184.0C223.0 184.7 223.3 185.6 223.3 186.4Z"/><path id="b333" d="M207.1 183.6C207.1 184.1 206.9 184.6 206.7 185.0C206.5 185.5 206.1 185.9 205.8 186.3C205.6 186.8 205.4 187.2 205.1 187.6C204.8 188.1 204.6 188.7 204.1 189.0C203.7 189.4 203.1 189.7 202.4 189.9C201.8 190.0 201.0 189.9 200.4 189.9C199.7 189.9 199.2 189.7 198.5 189.7C197.9 189.7 197.4 189.8 196.7 189.8C196.1 189.8 195.3 190.0 194.7 189.9C194.0 189.8 193.3 189.5 192.8 189.2C192.3 188.9 191.9 188.3 191.7 187.9C191.4 187.4 191.2 186.9 191.0 186.4C190.8 185.9 190.6 185.5 190.5 185.0C190.4 184.6 190.2 184.1 190.3 183.6C190.3 183.1 190.5 182.7 190.6 182.2C190.8 181.7 191.0 181.3 191.2 180.8C191.4 180.4 191.5 179.9 191.8 179.4C192.1 178.9 192.4 178.4 192.9 178.1C193.4 177.8 194.1 177.6 194.8 177.5C195.4 177.4 196.2 177.6 196.8 177.6C197.4 177.6 197.9 177.7 198.5 177.6C199.2 177.5 199.8 177.3 200.4 177.2C201.1 177.1 202.0 176.9 202.6 177.0C203.3 177.2 203.9 177.5 204.4 177.9C204.8 178.3 205.0 179.0 205.2 179.5C205.5 180.0 205.6 180.4 205.8 180.9C206.0 181.3 206.4 181.7 206.6 182.2C206.8 182.6 207.1 183.1 207.1 183.6Z"/><clipPath id="lv333"><use href="#a333"/><use href="#b333"/></clipPath></defs>
<g fill="none" stroke="#2a2a2a" stroke-width="1.3"><use href="#a333"/><use href="#b333"/></g>
<g fill="#626262"><use href="#a333"/><use href="#b333"/></g>
<rect x="187.50" y="173.70" width="39.10" height="24.20" fill="url(#gL)" clip-path="url(#lv333)"/>
<use href="#b333" fill="none" stroke="#000" stroke-opacity="0.18" stroke-width="0.8" clip-path="url(#lv333)"/>
<circle cx="208.08" cy="184.90" r="0.45" fill="#dadada"/>
<circle cx="216.08" cy="182.21" r="0.45" fill="#dadada"/>
<circle cx="207.76" cy="184.78" r="0.45" fill="#dadada"/>
<circle cx="202.42" cy="190.90" r="0.45" fill="#dadada"/>
<circle cx="203.88" cy="189.28" r="0.45" fill="#dadada"/>
<circle cx="214.20" cy="182.32" r="0.45" fill="#dadada"/>
<circle cx="198.63" cy="183.96" r="0.45" fill="#dadada"/>
<circle cx="204.92" cy="186.17" r="0.45" fill="#dadada"/>
<circle cx="214.57" cy="191.01" r="0.45" fill="#dadada"/>
<path d="M222.3 154.7C222.3 155.1 222.3 155.5 222.5 155.9C222.7 156.4 223.3 156.9 223.5 157.5C223.7 158.0 223.9 158.7 223.7 159.1C223.5 159.6 222.9 159.9 222.4 160.2C221.9 160.5 221.2 160.6 220.7 160.8C220.2 161.0 219.8 161.3 219.3 161.5C218.8 161.6 218.3 161.8 217.8 161.8C217.3 161.8 216.6 161.5 216.1 161.4C215.6 161.2 215.2 160.9 214.8 161.0C214.3 161.2 214.1 161.6 213.6 162.0C213.1 162.5 212.5 163.3 212.0 163.5C211.4 163.8 210.7 163.9 210.2 163.7C209.8 163.5 209.4 162.7 209.2 162.2C208.9 161.7 208.9 161.0 208.6 160.7C208.3 160.3 207.9 160.2 207.4 160.1C206.8 160.0 205.9 160.1 205.3 159.9C204.7 159.7 203.9 159.5 203.7 159.1C203.4 158.7 203.5 158.0 203.7 157.5C204.0 156.9 204.7 156.3 204.9 155.9C205.2 155.4 205.4 155.1 205.3 154.7C205.2 154.3 204.5 153.9 204.2 153.4C203.9 152.9 203.4 152.3 203.5 151.9C203.6 151.4 204.1 151.0 204.6 150.7C205.1 150.5 206.1 150.5 206.6 150.3C207.2 150.2 207.6 150.1 208.0 149.8C208.3 149.6 208.4 149.1 208.6 148.8C208.9 148.4 209.1 148.0 209.4 147.6C209.8 147.3 210.2 147.1 210.6 146.8C211.0 146.5 211.5 146.2 212.0 145.9C212.5 145.7 213.1 145.5 213.6 145.4C214.1 145.4 214.7 145.6 215.2 145.9C215.7 146.1 216.1 146.5 216.6 146.7C217.1 147.0 217.5 147.1 218.0 147.3C218.5 147.4 219.1 147.5 219.4 147.8C219.8 148.0 220.1 148.5 220.3 148.9C220.5 149.3 220.4 150.0 220.5 150.4C220.6 150.8 220.8 151.1 221.1 151.4C221.4 151.7 221.9 152.0 222.2 152.3C222.4 152.6 222.6 153.1 222.6 153.5C222.7 153.9 222.3 154.3 222.3 154.7Z" fill="url(#gY)" stroke="#a00000" stroke-width="0.8"/>
<ellipse cx="186.30" cy="213.70" rx="3.5" ry="5.5" fill="url(#gK)" stroke="#303030" stroke-width="0.6" transform="rotate(-5 186.30 213.70)"/>
<ellipse cx="219.60" cy="212.00" rx="4.5" ry="5.5" fill="url(#gK)" stroke="#303030" stroke-width="0.6" transform="rotate(35 219.60 212.00)"/>
<ellipse cx="202.70" cy="212.00" rx="2.5" ry="7" fill="#9a0000" transform="rotate(15 202.70 212.00)"/>
<rect x="233.10" y="141.80" width="55.80" height="84.50" fill="#8a8a8a"/>
<ellipse cx="248.20" cy="156.00" rx="4" ry="3.5" fill="url(#gH)" stroke="#404040" stroke-width="0.5"/>
<defs><path id="a344" d="M278.5 185.4C278.5 186.1 278.5 186.9 278.4 187.6C278.3 188.4 278.1 189.2 277.9 190.0C277.6 190.8 277.3 191.6 276.8 192.3C276.3 193.1 275.6 193.9 274.8 194.4C274.0 194.9 272.9 195.4 271.8 195.6C270.7 195.8 269.5 195.7 268.4 195.6C267.3 195.6 266.3 195.3 265.3 195.2C264.4 195.0 263.5 194.9 262.5 194.8C261.5 194.8 260.5 194.9 259.4 194.7C258.3 194.6 257.1 194.5 256.1 194.2C255.1 193.8 254.1 193.3 253.4 192.6C252.6 192.0 252.1 191.2 251.8 190.3C251.4 189.5 251.4 188.6 251.4 187.8C251.3 187.0 251.5 186.2 251.7 185.4C251.9 184.6 252.1 183.9 252.4 183.1C252.7 182.4 253.0 181.7 253.4 181.0C253.8 180.3 254.2 179.6 254.8 179.0C255.3 178.3 255.9 177.7 256.7 177.1C257.4 176.6 258.3 176.1 259.2 175.7C260.1 175.4 261.2 175.1 262.2 174.9C263.2 174.8 264.3 174.7 265.3 174.6C266.4 174.6 267.5 174.6 268.6 174.7C269.6 174.8 270.8 174.9 271.8 175.3C272.8 175.6 273.8 176.0 274.6 176.6C275.4 177.1 276.0 177.9 276.6 178.6C277.1 179.3 277.4 180.1 277.7 180.9C278.0 181.6 278.1 182.4 278.3 183.1C278.4 183.9 278.5 184.6 278.5 185.4Z"/><path id="b344" d="M263.0 182.5C262.9 183.0 262.6 183.5 262.4 184.0C262.1 184.4 261.7 184.8 261.4 185.2C261.0 185.6 260.7 186.0 260.3 186.4C260.0 186.8 259.6 187.2 259.2 187.5C258.8 187.9 258.4 188.4 257.9 188.7C257.4 189.1 256.8 189.5 256.1 189.7C255.5 189.9 254.7 190.1 254.0 190.1C253.3 190.1 252.5 189.9 251.9 189.7C251.2 189.5 250.6 189.1 250.1 188.8C249.5 188.5 249.0 188.1 248.5 187.8C248.0 187.4 247.5 187.1 247.0 186.8C246.5 186.4 246.0 186.1 245.6 185.6C245.2 185.2 244.8 184.7 244.6 184.1C244.4 183.6 244.3 183.0 244.5 182.5C244.6 181.9 244.9 181.4 245.3 180.9C245.6 180.5 246.2 180.1 246.6 179.7C247.1 179.4 247.5 179.1 248.0 178.7C248.4 178.4 248.7 178.1 249.1 177.7C249.5 177.3 249.8 176.9 250.3 176.5C250.7 176.1 251.3 175.7 251.9 175.4C252.5 175.1 253.3 174.9 254.0 174.8C254.7 174.8 255.5 174.9 256.2 175.1C256.9 175.3 257.5 175.6 258.1 175.9C258.7 176.2 259.2 176.6 259.7 176.9C260.2 177.3 260.7 177.7 261.1 178.1C261.6 178.5 262.0 178.9 262.3 179.4C262.6 179.8 262.9 180.4 263.0 180.9C263.1 181.4 263.1 182.0 263.0 182.5Z"/><clipPath id="lv344"><use href="#a344"/><use href="#b344"/></clipPath></defs>
<g fill="none" stroke="#2a2a2a" stroke-width="1.3"><use href="#a344"/><use href="#b344"/></g>
<g fill="#8a8a8a"><use href="#a344"/><use href="#b344"/></g>
<rect x="242.30" y="172.04" width="41.40" height="25.52" fill="url(#gL)" clip-path="url(#lv344)"/>
<use href="#b344" fill="none" stroke="#000" stroke-opacity="0.18" stroke-width="0.8" clip-path="url(#lv344)"/>
<circle cx="260.55" cy="181.23" r="0.45" fill="#dadada"/>
<circle cx="270.72" cy="189.61" r="0.45" fill="#dadada"/>
<circle cx="271.38" cy="187.26" r="0.45" fill="#dadada"/>
<circle cx="265.12" cy="183.58" r="0.45" fill="#dadada"/>
<circle cx="261.12" cy="187.12" r="0.45" fill="#dadada"/>
<circle cx="258.28" cy="186.10" r="0.45" fill="#dadada"/>
<circle cx="261.28" cy="182.56" r="0.45" fill="#dadada"/>
<circle cx="260.37" cy="187.99" r="0.45" fill="#dadada"/>
<circle cx="268.11" cy="186.87" r="0.45" fill="#dadada"/>
<path d="M285.4 156.4C285.1 156.8 284.5 157.2 284.2 157.5C283.9 157.9 283.9 158.2 283.8 158.6C283.7 159.0 283.8 159.5 283.6 159.8C283.5 160.2 283.1 160.5 282.7 160.7C282.4 161.0 281.9 161.1 281.5 161.4C281.2 161.6 281.1 162.0 280.8 162.3C280.5 162.7 280.3 163.2 279.9 163.3C279.4 163.5 278.8 163.4 278.3 163.2C277.8 163.0 277.2 162.5 276.8 162.3C276.4 162.1 276.1 162.0 275.7 162.1C275.3 162.2 274.9 162.7 274.5 162.9C274.1 163.1 273.5 163.3 273.1 163.3C272.6 163.3 272.2 163.0 271.9 162.8C271.5 162.6 271.2 162.2 270.9 162.0C270.6 161.8 270.2 161.6 269.8 161.4C269.5 161.2 269.1 161.0 268.7 160.7C268.3 160.5 268.0 160.2 267.6 159.9C267.3 159.6 267.0 159.2 266.8 158.9C266.6 158.5 266.5 158.0 266.5 157.6C266.5 157.2 266.6 156.8 266.6 156.4C266.7 156.0 266.6 155.6 266.6 155.2C266.5 154.7 266.2 154.2 266.3 153.8C266.3 153.4 266.4 152.9 266.8 152.5C267.1 152.2 267.8 152.0 268.3 151.8C268.8 151.6 269.3 151.5 269.6 151.3C270.0 151.0 270.1 150.6 270.5 150.3C270.8 150.0 271.2 149.7 271.7 149.7C272.1 149.7 272.8 150.0 273.4 150.3C273.9 150.5 274.3 151.1 274.7 151.2C275.1 151.3 275.3 151.1 275.7 150.9C276.1 150.7 276.5 150.2 276.9 150.0C277.3 149.9 277.8 149.8 278.2 149.9C278.6 149.9 278.9 150.2 279.3 150.4C279.7 150.5 280.1 150.6 280.6 150.7C281.0 150.8 281.6 150.9 282.0 151.1C282.4 151.3 282.7 151.6 283.0 151.9C283.3 152.2 283.6 152.5 284.0 152.8C284.3 153.1 284.9 153.4 285.3 153.8C285.6 154.1 286.1 154.6 286.1 155.0C286.1 155.4 285.8 156.0 285.4 156.4Z" fill="url(#gO)" stroke="#a00000" stroke-width="0.7"/>
<ellipse cx="276.70" cy="155.40" rx="2.2" ry="1.8" fill="#e01000"/>
<ellipse cx="246.40" cy="214.50" rx="3.3" ry="5" fill="url(#gK)" stroke="#303030" stroke-width="0.6" transform="rotate(-5 246.40 214.50)"/>
<ellipse cx="275.70" cy="212.80" rx="3.6" ry="5.3" fill="url(#gK)" stroke="#303030" stroke-width="0.6" transform="rotate(-10 275.70 212.80)"/>
<ellipse cx="261.10" cy="213.70" rx="1.8" ry="6.5" fill="url(#gK)" stroke="#333" stroke-width="0.5" transform="rotate(20 261.10 213.70)"/>
<rect x="292.70" y="143.00" width="2.20" height="82.30" fill="url(#cbar)"/>
<text x="300.80" y="153.10" font-size="10.6" fill="#111" textLength="5.6" lengthAdjust="spacingAndGlyphs">6</text>
<text x="298.80" y="188.10" font-size="10.2" fill="#111" textLength="20.6" lengthAdjust="spacingAndGlyphs">x10<tspan dy="-4" font-size="6.6">6</tspan></text>
<text x="298.20" y="223.90" font-size="10.6" fill="#111" textLength="14.4" lengthAdjust="spacingAndGlyphs">0.5</text>
<text x="16.50" y="275.30" font-size="10.4" textLength="33.0" lengthAdjust="spacingAndGlyphs">DDAB</text>
<rect x="55.00" y="231.00" width="55.80" height="84.50" fill="#6e6e6e"/>
<ellipse cx="67.80" cy="241.50" rx="4" ry="3" fill="url(#gH)" stroke="#404040" stroke-width="0.5"/>
<defs><path id="a355" d="M95.9 273.2C95.8 274.2 95.4 275.1 95.1 276.0C94.8 276.9 94.4 277.7 94.1 278.6C93.7 279.5 93.5 280.4 93.0 281.3C92.6 282.1 92.1 283.1 91.5 283.8C90.8 284.5 90.0 285.1 89.1 285.4C88.2 285.7 87.2 285.6 86.3 285.6C85.4 285.6 84.5 285.3 83.7 285.1C82.9 285.0 82.1 284.8 81.3 284.7C80.5 284.5 79.6 284.5 78.8 284.2C78.0 283.9 77.2 283.5 76.5 283.0C75.9 282.4 75.3 281.6 74.8 280.9C74.4 280.1 74.1 279.2 73.7 278.4C73.3 277.6 73.0 276.8 72.6 275.9C72.2 275.1 71.8 274.2 71.6 273.2C71.3 272.2 71.1 271.1 71.3 270.1C71.4 269.1 71.7 268.0 72.2 267.2C72.6 266.3 73.4 265.5 74.1 264.9C74.8 264.2 75.6 263.7 76.4 263.2C77.1 262.7 77.9 262.3 78.7 262.0C79.5 261.6 80.3 261.3 81.2 261.1C82.0 260.9 82.9 260.8 83.7 260.8C84.5 260.9 85.4 261.1 86.2 261.3C87.0 261.6 87.7 262.0 88.5 262.5C89.2 262.9 89.8 263.4 90.5 263.9C91.2 264.4 91.9 264.9 92.6 265.5C93.3 266.1 94.0 266.7 94.5 267.5C95.1 268.3 95.6 269.2 95.8 270.2C96.1 271.1 96.1 272.2 95.9 273.2Z"/><path id="b355" d="M81.8 269.7C81.7 270.4 81.4 270.9 81.2 271.5C81.0 272.1 80.8 272.6 80.6 273.1C80.4 273.6 80.1 274.2 79.8 274.6C79.5 275.1 79.1 275.5 78.7 275.9C78.3 276.3 77.8 276.6 77.3 276.8C76.9 277.1 76.4 277.3 75.9 277.5C75.3 277.7 74.8 277.9 74.2 278.1C73.7 278.2 73.1 278.3 72.5 278.3C71.9 278.3 71.2 278.2 70.7 277.9C70.2 277.6 69.6 277.2 69.2 276.7C68.8 276.2 68.5 275.6 68.3 275.0C68.0 274.4 67.9 273.8 67.7 273.2C67.6 272.6 67.4 272.1 67.3 271.5C67.1 270.9 66.9 270.4 66.8 269.7C66.6 269.1 66.5 268.4 66.6 267.8C66.7 267.2 67.0 266.5 67.3 266.0C67.7 265.6 68.2 265.2 68.7 264.9C69.2 264.5 69.7 264.4 70.1 264.0C70.6 263.7 70.9 263.3 71.3 262.9C71.7 262.5 72.1 261.9 72.6 261.5C73.0 261.2 73.7 260.8 74.2 260.7C74.8 260.7 75.5 260.9 76.0 261.2C76.6 261.4 77.0 262.0 77.5 262.4C77.9 262.7 78.3 263.1 78.8 263.5C79.2 263.8 79.8 264.1 80.2 264.5C80.7 264.9 81.2 265.3 81.5 265.9C81.8 266.4 82.1 267.1 82.1 267.8C82.2 268.4 82.0 269.1 81.8 269.7Z"/><clipPath id="lv355"><use href="#a355"/><use href="#b355"/></clipPath></defs>
<g fill="none" stroke="#2a2a2a" stroke-width="1.3"><use href="#a355"/><use href="#b355"/></g>
<g fill="#6e6e6e"><use href="#a355"/><use href="#b355"/></g>
<rect x="64.50" y="257.32" width="34.50" height="30.36" fill="url(#gL)" clip-path="url(#lv355)"/>
<use href="#b355" fill="none" stroke="#000" stroke-opacity="0.18" stroke-width="0.8" clip-path="url(#lv355)"/>
<circle cx="76.13" cy="274.63" r="0.45" fill="#dadada"/>
<circle cx="79.07" cy="267.61" r="0.45" fill="#dadada"/>
<circle cx="82.70" cy="273.62" r="0.45" fill="#dadada"/>
<circle cx="75.22" cy="278.85" r="0.45" fill="#dadada"/>
<circle cx="79.94" cy="275.84" r="0.45" fill="#dadada"/>
<circle cx="83.25" cy="273.07" r="0.45" fill="#dadada"/>
<circle cx="86.42" cy="277.76" r="0.45" fill="#dadada"/>
<circle cx="86.79" cy="270.97" r="0.45" fill="#dadada"/>
<circle cx="89.63" cy="271.39" r="0.45" fill="#dadada"/>
<path d="M82.7 280.1C82.7 280.3 82.7 280.6 82.6 280.8C82.6 281.0 82.4 281.2 82.2 281.4C82.1 281.6 81.8 281.7 81.6 281.9C81.5 282.1 81.3 282.2 81.2 282.4C81.0 282.6 80.8 282.8 80.6 283.0C80.4 283.1 80.1 283.2 79.8 283.2C79.6 283.2 79.2 283.0 79.0 282.9C78.8 282.7 78.6 282.5 78.4 282.4C78.2 282.3 78.0 282.3 77.8 282.3C77.5 282.3 77.2 282.4 76.8 282.4C76.5 282.4 76.1 282.4 75.9 282.2C75.6 282.1 75.5 281.8 75.4 281.6C75.3 281.3 75.4 281.0 75.4 280.8C75.4 280.5 75.5 280.3 75.5 280.1C75.6 279.9 75.5 279.6 75.6 279.4C75.6 279.2 75.6 278.9 75.7 278.7C75.8 278.5 76.0 278.3 76.1 278.1C76.3 278.0 76.6 277.8 76.8 277.7C77.0 277.6 77.3 277.5 77.5 277.5C77.8 277.4 78.0 277.4 78.3 277.4C78.5 277.3 78.8 277.4 79.0 277.4C79.2 277.4 79.5 277.4 79.7 277.4C80.0 277.5 80.2 277.4 80.5 277.5C80.7 277.5 81.0 277.6 81.3 277.7C81.5 277.8 81.7 277.9 81.9 278.1C82.0 278.3 82.1 278.5 82.2 278.8C82.3 279.0 82.4 279.2 82.5 279.4C82.5 279.6 82.7 279.9 82.7 280.1Z" fill="#7a0000"/>
<path d="M103.3 241.6C103.1 242.0 103.0 242.3 103.0 242.7C103.0 243.1 103.2 243.5 103.2 243.9C103.2 244.3 103.1 244.7 102.9 245.0C102.8 245.4 102.4 245.6 102.1 245.9C101.8 246.1 101.5 246.3 101.2 246.6C100.9 246.9 100.7 247.2 100.5 247.5C100.2 247.8 100.0 248.2 99.7 248.4C99.4 248.7 99.0 249.0 98.6 249.1C98.3 249.3 97.8 249.4 97.4 249.4C97.0 249.4 96.6 249.2 96.2 249.0C95.8 248.9 95.5 248.5 95.1 248.3C94.8 248.1 94.5 248.0 94.1 248.0C93.7 248.0 93.3 248.3 92.7 248.4C92.2 248.5 91.6 248.7 91.0 248.7C90.5 248.7 90.0 248.4 89.7 248.1C89.3 247.8 89.1 247.3 88.9 246.9C88.6 246.5 88.4 246.1 88.2 245.7C87.9 245.3 87.6 244.9 87.5 244.4C87.4 244.0 87.4 243.4 87.5 243.0C87.6 242.5 87.9 242.0 88.2 241.6C88.4 241.2 88.7 240.8 89.0 240.5C89.2 240.1 89.4 239.8 89.6 239.5C89.9 239.2 90.1 238.9 90.3 238.6C90.5 238.3 90.7 238.0 90.8 237.7C91.0 237.4 91.0 237.0 91.2 236.6C91.4 236.3 91.5 235.8 91.8 235.6C92.1 235.3 92.5 235.1 92.8 235.0C93.2 234.9 93.7 235.0 94.0 234.9C94.4 234.9 94.8 234.8 95.1 234.7C95.5 234.6 95.8 234.4 96.2 234.3C96.6 234.2 97.0 234.1 97.4 234.0C97.8 233.9 98.3 233.9 98.7 233.8C99.2 233.8 99.7 233.7 100.2 233.8C100.7 233.8 101.2 233.9 101.6 234.2C102.0 234.4 102.3 234.8 102.6 235.2C102.9 235.6 103.0 236.1 103.2 236.5C103.4 236.9 103.7 237.3 103.9 237.7C104.1 238.1 104.3 238.5 104.4 238.9C104.4 239.4 104.3 239.9 104.1 240.4C103.9 240.8 103.5 241.2 103.3 241.6Z" fill="url(#gY)" stroke="#a00000" stroke-width="0.8"/>
<ellipse cx="61.80" cy="304.40" rx="3.5" ry="6" fill="url(#gK)" stroke="#303030" stroke-width="0.6" transform="rotate(-5 61.80 304.40)"/>
<ellipse cx="97.10" cy="303.50" rx="4" ry="6.5" fill="url(#gK)" stroke="#303030" stroke-width="0.6" transform="rotate(-15 97.10 303.50)"/>
<ellipse cx="79.80" cy="302.70" rx="2.8" ry="9" fill="url(#gR)" stroke="#800000" stroke-width="0.5" transform="rotate(5 79.80 302.70)"/>
<rect x="114.60" y="231.00" width="55.80" height="84.50" fill="#666666"/>
<ellipse cx="127.30" cy="243.20" rx="3" ry="4.5" fill="url(#gH)" stroke="#404040" stroke-width="0.5"/>
<defs><path id="a366" d="M154.4 273.1C154.6 274.0 154.6 275.0 154.3 275.9C154.0 276.7 153.4 277.5 152.9 278.2C152.3 278.9 151.5 279.4 150.9 280.0C150.2 280.6 149.6 281.1 149.0 281.6C148.3 282.0 147.7 282.6 147.0 283.0C146.3 283.3 145.5 283.6 144.7 283.6C143.9 283.6 143.1 283.3 142.3 283.0C141.6 282.8 141.0 282.4 140.3 282.2C139.5 282.1 138.9 282.1 138.1 282.1C137.2 282.0 136.2 282.1 135.4 281.9C134.5 281.7 133.6 281.3 132.9 280.7C132.3 280.1 131.9 279.1 131.6 278.3C131.4 277.5 131.4 276.5 131.2 275.7C131.1 274.8 131.1 274.0 131.0 273.1C131.0 272.2 130.9 271.3 131.1 270.5C131.3 269.7 131.6 268.8 132.1 268.1C132.6 267.4 133.4 266.9 134.0 266.4C134.6 265.9 135.3 265.5 135.9 265.0C136.6 264.5 137.1 264.0 137.7 263.5C138.4 263.0 139.1 262.4 139.8 262.1C140.6 261.9 141.5 261.7 142.3 261.8C143.1 261.9 144.0 262.2 144.7 262.6C145.4 262.9 146.1 263.4 146.7 263.8C147.4 264.2 148.0 264.7 148.6 265.1C149.2 265.6 149.8 266.1 150.4 266.6C150.9 267.2 151.5 267.7 152.0 268.4C152.5 269.0 153.0 269.8 153.4 270.5C153.8 271.3 154.3 272.2 154.4 273.1Z"/><path id="b366" d="M141.1 270.1C141.3 270.7 141.4 271.4 141.2 271.9C141.1 272.5 140.7 273.1 140.3 273.5C139.9 273.9 139.2 274.1 138.7 274.3C138.2 274.6 137.6 274.7 137.2 274.9C136.8 275.1 136.4 275.3 136.1 275.6C135.7 275.8 135.3 276.2 134.9 276.4C134.5 276.7 134.0 276.9 133.5 277.0C133.0 277.1 132.5 277.2 131.9 277.1C131.4 277.1 130.9 277.0 130.3 276.8C129.8 276.7 129.3 276.4 128.8 276.1C128.4 275.8 127.9 275.4 127.6 274.9C127.3 274.5 127.0 273.9 126.8 273.4C126.6 272.9 126.4 272.4 126.3 271.8C126.2 271.2 126.0 270.7 126.1 270.1C126.1 269.5 126.2 268.9 126.4 268.4C126.6 267.9 127.0 267.5 127.4 267.1C127.7 266.7 128.2 266.4 128.6 266.0C128.9 265.7 129.2 265.4 129.6 265.1C129.9 264.7 130.2 264.3 130.6 264.0C131.0 263.7 131.5 263.4 132.0 263.2C132.4 263.0 133.0 263.0 133.5 263.0C134.0 263.0 134.5 263.1 135.0 263.2C135.5 263.3 136.1 263.4 136.6 263.6C137.1 263.8 137.6 263.9 138.0 264.3C138.5 264.6 138.9 265.0 139.2 265.4C139.5 265.9 139.7 266.4 139.9 266.9C140.1 267.4 140.3 267.9 140.5 268.5C140.7 269.0 141.0 269.5 141.1 270.1Z"/><clipPath id="lv366"><use href="#a366"/><use href="#b366"/></clipPath></defs>
<g fill="none" stroke="#2a2a2a" stroke-width="1.3"><use href="#a366"/><use href="#b366"/></g>
<g fill="#666666"><use href="#a366"/><use href="#b366"/></g>
<rect x="124.40" y="259.30" width="32.20" height="26.40" fill="url(#gL)" clip-path="url(#lv366)"/>
<use href="#b366" fill="none" stroke="#000" stroke-opacity="0.18" stroke-width="0.8" clip-path="url(#lv366)"/>
<circle cx="133.86" cy="275.51" r="0.45" fill="#dadada"/>
<circle cx="134.66" cy="273.38" r="0.45" fill="#dadada"/>
<circle cx="143.34" cy="271.38" r="0.45" fill="#dadada"/>
<circle cx="135.26" cy="276.58" r="0.45" fill="#dadada"/>
<circle cx="135.15" cy="272.56" r="0.45" fill="#dadada"/>
<circle cx="133.90" cy="277.92" r="0.45" fill="#dadada"/>
<circle cx="135.25" cy="270.46" r="0.45" fill="#dadada"/>
<circle cx="134.97" cy="268.64" r="0.45" fill="#dadada"/>
<circle cx="135.90" cy="268.54" r="0.45" fill="#dadada"/>
<path d="M162.9 243.3C162.9 243.7 163.1 244.2 163.0 244.6C162.8 245.0 162.5 245.4 162.2 245.7C161.8 246.0 161.3 246.2 161.0 246.4C160.7 246.7 160.5 246.9 160.3 247.2C160.1 247.4 160.0 247.8 159.8 248.1C159.6 248.4 159.4 248.7 159.2 249.0C159.0 249.4 158.8 249.7 158.6 250.1C158.3 250.5 158.1 251.1 157.8 251.4C157.4 251.7 157.0 251.9 156.6 251.8C156.2 251.8 155.7 251.4 155.3 251.1C154.9 250.9 154.6 250.6 154.2 250.5C153.9 250.4 153.5 250.7 153.0 250.8C152.6 250.9 152.0 251.1 151.6 251.0C151.3 250.9 150.9 250.4 150.7 250.0C150.5 249.6 150.6 248.9 150.4 248.5C150.3 248.1 150.1 247.8 149.7 247.6C149.4 247.4 148.7 247.4 148.3 247.1C147.9 246.9 147.4 246.5 147.2 246.1C147.1 245.7 147.2 245.1 147.4 244.6C147.5 244.2 148.0 243.7 148.2 243.3C148.4 242.9 148.6 242.6 148.7 242.2C148.8 241.8 148.6 241.4 148.6 241.0C148.6 240.6 148.5 240.1 148.7 239.7C148.8 239.3 149.1 238.9 149.4 238.7C149.8 238.5 150.3 238.5 150.7 238.4C151.1 238.3 151.5 238.3 151.8 238.1C152.0 237.9 152.1 237.5 152.3 237.1C152.5 236.7 152.7 236.0 153.0 235.7C153.3 235.4 153.7 235.3 154.1 235.2C154.5 235.2 154.9 235.6 155.3 235.6C155.7 235.7 156.0 235.8 156.4 235.7C156.8 235.6 157.3 235.2 157.8 235.2C158.2 235.2 158.7 235.2 159.0 235.5C159.4 235.7 159.6 236.3 159.8 236.7C160.0 237.1 160.1 237.6 160.3 237.9C160.6 238.3 161.0 238.4 161.3 238.6C161.7 238.9 162.1 239.1 162.3 239.5C162.5 239.8 162.5 240.3 162.6 240.8C162.6 241.2 162.5 241.7 162.5 242.1C162.6 242.5 162.8 242.9 162.9 243.3Z" fill="#ff9000" stroke="#a00000" stroke-width="0.8"/>
<path d="M161.3 243.3C161.3 243.6 161.3 244.0 161.2 244.3C161.1 244.7 161.0 245.0 160.9 245.3C160.8 245.6 160.6 245.9 160.5 246.2C160.3 246.5 160.1 246.7 159.9 247.0C159.8 247.3 159.6 247.5 159.4 247.8C159.2 248.0 158.9 248.2 158.7 248.4C158.5 248.7 158.2 248.9 158.0 249.1C157.7 249.2 157.4 249.4 157.2 249.5C156.9 249.7 156.6 249.8 156.3 249.9C155.9 249.9 155.6 250.0 155.3 250.0C155.0 250.0 154.7 250.0 154.3 249.9C154.0 249.8 153.7 249.7 153.4 249.6C153.1 249.5 152.8 249.3 152.6 249.2C152.3 249.0 152.0 248.8 151.8 248.6C151.5 248.4 151.3 248.2 151.1 247.9C150.8 247.7 150.6 247.4 150.4 247.2C150.2 246.9 150.0 246.6 149.9 246.3C149.7 246.0 149.6 245.7 149.5 245.4C149.4 245.0 149.3 244.7 149.2 244.4C149.2 244.0 149.2 243.6 149.2 243.3C149.2 243.0 149.3 242.6 149.3 242.3C149.4 241.9 149.5 241.6 149.7 241.3C149.8 241.0 149.9 240.7 150.1 240.4C150.3 240.1 150.5 239.9 150.6 239.6C150.8 239.3 151.0 239.1 151.2 238.9C151.5 238.6 151.7 238.4 151.9 238.2C152.1 238.0 152.4 237.8 152.7 237.6C152.9 237.4 153.2 237.3 153.5 237.1C153.8 237.0 154.1 236.9 154.4 236.8C154.7 236.7 155.0 236.7 155.3 236.7C155.6 236.6 155.9 236.7 156.3 236.7C156.6 236.8 156.9 236.8 157.2 237.0C157.5 237.1 157.8 237.2 158.1 237.4C158.3 237.5 158.6 237.7 158.9 237.9C159.1 238.1 159.4 238.4 159.6 238.6C159.8 238.8 160.0 239.1 160.2 239.4C160.4 239.7 160.6 240.0 160.7 240.3C160.9 240.6 161.0 240.9 161.1 241.2C161.2 241.6 161.3 241.9 161.3 242.3C161.4 242.6 161.4 243.0 161.3 243.3Z" fill="#ffee20"/>
<path d="M159.6 243.3C159.6 243.6 159.5 244.0 159.4 244.3C159.3 244.6 159.2 244.9 159.1 245.3C159.0 245.6 158.9 245.9 158.7 246.2C158.6 246.5 158.4 246.9 158.1 247.1C157.9 247.4 157.6 247.6 157.3 247.7C157.0 247.8 156.6 247.9 156.3 248.0C156.0 248.0 155.6 248.1 155.3 248.0C155.0 248.0 154.6 248.0 154.3 247.8C154.0 247.7 153.7 247.6 153.5 247.4C153.2 247.2 152.9 247.0 152.7 246.8C152.4 246.6 152.1 246.4 151.9 246.2C151.7 246.0 151.4 245.7 151.3 245.4C151.1 245.1 151.0 244.7 150.9 244.4C150.9 244.0 150.9 243.6 151.0 243.3C151.0 243.0 151.0 242.6 151.1 242.3C151.1 241.9 151.1 241.5 151.3 241.2C151.4 240.9 151.5 240.5 151.8 240.3C152.0 240.1 152.4 239.9 152.7 239.8C153.0 239.6 153.3 239.6 153.6 239.5C153.9 239.4 154.1 239.2 154.4 239.1C154.7 238.9 155.0 238.6 155.3 238.4C155.6 238.3 156.1 238.1 156.4 238.1C156.8 238.2 157.1 238.4 157.4 238.7C157.7 238.9 157.8 239.3 158.0 239.7C158.2 240.0 158.3 240.3 158.5 240.6C158.7 240.9 158.9 241.1 159.1 241.4C159.3 241.6 159.5 241.9 159.6 242.3C159.7 242.6 159.7 243.0 159.6 243.3Z" fill="#ffff50"/>
<ellipse cx="123.00" cy="301.00" rx="3.5" ry="6" fill="url(#gK)" stroke="#303030" stroke-width="0.6" transform="rotate(-5 123.00 301.00)"/>
<ellipse cx="152.30" cy="301.80" rx="4" ry="6" fill="url(#gK)" stroke="#303030" stroke-width="0.6" transform="rotate(-15 152.30 301.80)"/>
<ellipse cx="138.50" cy="301.00" rx="1.8" ry="7" fill="#8c8c8c" stroke="#2a2a2a" stroke-width="0.5" transform="rotate(5 138.50 301.00)"/>
<ellipse cx="138.50" cy="295.50" rx="1.2" ry="1.6" fill="#c00000"/>
<rect x="174.20" y="231.00" width="55.80" height="84.50" fill="#6a6a6a"/>
<ellipse cx="186.30" cy="248.40" rx="3.5" ry="3.5" fill="url(#gH)" stroke="#404040" stroke-width="0.5"/>
<defs><path id="a377" d="M213.2 274.0C213.3 274.9 213.4 275.9 213.2 276.8C213.0 277.6 212.6 278.5 212.2 279.3C211.8 280.1 211.3 280.9 210.7 281.5C210.1 282.2 209.5 283.0 208.8 283.5C208.1 284.0 207.2 284.4 206.4 284.7C205.5 284.9 204.6 284.9 203.7 284.9C202.8 284.9 202.0 284.8 201.2 284.9C200.3 285.0 199.5 285.3 198.6 285.4C197.6 285.5 196.5 285.8 195.5 285.7C194.5 285.6 193.4 285.3 192.6 284.7C191.8 284.2 191.1 283.2 190.7 282.3C190.3 281.4 190.1 280.4 189.9 279.4C189.8 278.5 189.7 277.5 189.7 276.6C189.7 275.8 189.7 274.9 189.8 274.0C189.9 273.2 190.2 272.4 190.5 271.6C190.8 270.9 191.1 270.2 191.5 269.4C191.8 268.7 192.0 267.9 192.4 267.1C192.7 266.3 193.0 265.3 193.5 264.6C194.1 263.8 194.8 263.0 195.6 262.6C196.4 262.1 197.4 261.9 198.4 261.8C199.3 261.7 200.3 261.9 201.2 262.0C202.1 262.0 203.0 262.1 203.9 262.2C204.8 262.4 205.8 262.4 206.7 262.7C207.6 263.1 208.4 263.6 209.1 264.2C209.8 264.9 210.2 265.8 210.6 266.6C211.0 267.4 211.2 268.3 211.5 269.1C211.8 270.0 212.1 270.7 212.4 271.5C212.7 272.3 213.1 273.2 213.2 274.0Z"/><path id="b377" d="M198.9 270.8C199.1 271.4 199.4 272.0 199.4 272.6C199.4 273.2 199.1 273.9 198.8 274.4C198.5 274.9 198.0 275.3 197.5 275.7C197.1 276.1 196.6 276.4 196.1 276.7C195.7 277.1 195.2 277.4 194.7 277.7C194.2 278.0 193.7 278.2 193.1 278.3C192.6 278.4 192.0 278.4 191.4 278.4C190.9 278.4 190.3 278.3 189.7 278.2C189.2 278.1 188.6 278.1 188.0 277.9C187.5 277.7 186.9 277.5 186.4 277.1C186.0 276.7 185.6 276.2 185.3 275.7C185.1 275.2 184.9 274.6 184.7 274.1C184.5 273.5 184.2 273.1 184.0 272.5C183.7 272.0 183.3 271.4 183.2 270.8C183.0 270.2 183.0 269.5 183.1 268.9C183.3 268.3 183.7 267.7 184.1 267.2C184.5 266.8 185.1 266.4 185.6 266.1C186.0 265.7 186.5 265.5 187.0 265.2C187.4 264.9 187.8 264.5 188.3 264.3C188.8 264.1 189.3 263.9 189.8 263.7C190.3 263.6 190.9 263.6 191.4 263.5C192.0 263.4 192.5 263.2 193.2 263.2C193.8 263.1 194.5 263.0 195.1 263.1C195.8 263.2 196.5 263.4 196.9 263.9C197.4 264.3 197.7 265.0 197.8 265.6C198.0 266.3 197.9 267.0 198.0 267.6C198.0 268.2 198.0 268.7 198.2 269.2C198.4 269.8 198.7 270.2 198.9 270.8Z"/><clipPath id="lv377"><use href="#a377"/><use href="#b377"/></clipPath></defs>
<g fill="none" stroke="#2a2a2a" stroke-width="1.3"><use href="#a377"/><use href="#b377"/></g>
<g fill="#6a6a6a"><use href="#a377"/><use href="#b377"/></g>
<rect x="181.35" y="259.10" width="35.65" height="28.60" fill="url(#gL)" clip-path="url(#lv377)"/>
<use href="#b377" fill="none" stroke="#000" stroke-opacity="0.18" stroke-width="0.8" clip-path="url(#lv377)"/>
<circle cx="194.75" cy="269.30" r="0.45" fill="#dadada"/>
<circle cx="207.10" cy="269.14" r="0.45" fill="#dadada"/>
<circle cx="204.87" cy="277.02" r="0.45" fill="#dadada"/>
<circle cx="198.83" cy="272.17" r="0.45" fill="#dadada"/>
<circle cx="205.00" cy="270.26" r="0.45" fill="#dadada"/>
<circle cx="199.81" cy="268.64" r="0.45" fill="#dadada"/>
<circle cx="195.52" cy="279.84" r="0.45" fill="#dadada"/>
<circle cx="207.55" cy="269.97" r="0.45" fill="#dadada"/>
<circle cx="200.45" cy="273.67" r="0.45" fill="#dadada"/>
<path d="M220.2 240.7C220.2 241.0 220.2 241.4 220.0 241.8C219.9 242.1 219.7 242.4 219.5 242.7C219.3 243.0 219.0 243.3 218.7 243.6C218.5 243.8 218.2 244.1 217.9 244.3C217.5 244.5 217.2 244.7 216.8 244.9C216.5 245.0 216.1 245.1 215.7 245.3C215.3 245.4 215.0 245.4 214.6 245.5C214.2 245.6 213.9 245.7 213.6 245.8C213.2 245.9 212.8 246.0 212.5 245.9C212.1 245.9 211.7 245.8 211.4 245.7C211.1 245.7 210.8 245.6 210.4 245.6C210.0 245.6 209.6 245.8 209.2 245.9C208.7 246.1 208.1 246.3 207.6 246.4C207.1 246.4 206.6 246.3 206.2 246.2C205.8 246.0 205.6 245.7 205.3 245.4C205.1 245.1 204.9 244.8 204.6 244.5C204.4 244.2 204.1 243.9 203.9 243.6C203.8 243.3 203.6 243.0 203.5 242.7C203.5 242.3 203.5 242.0 203.5 241.7C203.4 241.3 203.3 241.0 203.2 240.7C203.0 240.4 202.7 240.0 202.7 239.6C202.6 239.3 202.7 238.9 203.0 238.6C203.3 238.3 203.9 238.1 204.4 238.0C204.9 237.8 205.5 237.8 205.9 237.6C206.3 237.5 206.6 237.4 206.8 237.2C207.1 237.0 207.2 236.7 207.4 236.5C207.7 236.3 207.9 236.1 208.2 235.9C208.5 235.7 208.8 235.5 209.1 235.3C209.4 235.0 209.7 234.7 210.1 234.5C210.5 234.3 211.0 234.1 211.4 234.0C211.8 234.0 212.3 234.2 212.7 234.4C213.1 234.6 213.4 235.0 213.7 235.2C214.0 235.5 214.3 235.7 214.6 235.9C214.9 236.1 215.3 236.1 215.6 236.3C215.9 236.4 216.3 236.5 216.6 236.7C217.0 236.8 217.3 237.0 217.6 237.3C217.9 237.5 218.2 237.7 218.5 237.9C218.7 238.2 219.1 238.4 219.3 238.7C219.6 239.0 219.8 239.3 220.0 239.7C220.1 240.0 220.2 240.4 220.2 240.7Z" fill="url(#gR)" stroke="#a00000" stroke-width="0.7"/>
<ellipse cx="181.20" cy="303.50" rx="3.3" ry="5.5" fill="url(#gK)" stroke="#303030" stroke-width="0.6" transform="rotate(-5 181.20 303.50)"/>
<ellipse cx="219.10" cy="301.00" rx="4" ry="6" fill="url(#gK)" stroke="#303030" stroke-width="0.6" transform="rotate(-20 219.10 301.00)"/>
<ellipse cx="200.10" cy="301.80" rx="1.6" ry="6" fill="url(#gK)" stroke="#333" stroke-width="0.5" transform="rotate(5 200.10 301.80)"/>
<rect x="233.10" y="231.00" width="55.80" height="84.50" fill="#707070"/>
<ellipse cx="245.60" cy="247.50" rx="3.5" ry="3.5" fill="url(#gH)" stroke="#404040" stroke-width="0.5"/>
<defs><path id="a388" d="M274.7 272.0C274.6 272.9 274.5 273.8 274.2 274.7C274.0 275.6 273.7 276.4 273.3 277.2C272.9 278.0 272.4 278.8 271.9 279.4C271.3 280.1 270.7 280.7 270.0 281.2C269.4 281.7 268.6 282.1 267.9 282.5C267.2 282.9 266.4 283.1 265.6 283.3C264.8 283.6 264.0 283.7 263.2 283.8C262.4 283.9 261.5 283.9 260.7 283.7C259.9 283.6 259.1 283.4 258.3 283.0C257.5 282.7 256.7 282.2 256.0 281.7C255.3 281.2 254.6 280.6 254.0 279.9C253.4 279.2 252.8 278.5 252.4 277.6C251.9 276.8 251.6 275.8 251.5 274.9C251.3 273.9 251.4 272.9 251.6 272.0C251.8 271.0 252.2 270.2 252.5 269.3C252.9 268.5 253.3 267.8 253.6 267.0C253.9 266.2 254.2 265.3 254.6 264.5C255.0 263.7 255.4 262.8 256.0 262.2C256.6 261.5 257.3 260.9 258.1 260.6C258.9 260.3 259.9 260.2 260.7 260.3C261.6 260.3 262.4 260.6 263.2 260.7C264.0 260.9 264.7 261.0 265.5 261.1C266.3 261.2 267.1 261.2 267.9 261.4C268.8 261.5 269.7 261.6 270.5 262.0C271.3 262.4 272.2 263.0 272.8 263.7C273.4 264.4 273.9 265.3 274.2 266.2C274.6 267.1 274.7 268.1 274.8 269.1C274.9 270.1 274.8 271.0 274.7 272.0Z"/><path id="b388" d="M261.2 268.6C261.1 269.2 261.0 269.8 260.9 270.3C260.7 270.9 260.6 271.5 260.3 272.0C260.1 272.5 259.8 273.0 259.5 273.4C259.1 273.8 258.8 274.2 258.4 274.6C258.0 274.9 257.5 275.3 257.1 275.6C256.7 275.9 256.2 276.2 255.7 276.4C255.2 276.6 254.6 276.8 254.1 276.9C253.5 276.9 252.9 277.0 252.4 276.9C251.8 276.9 251.2 276.7 250.7 276.5C250.1 276.2 249.6 275.8 249.2 275.3C248.9 274.8 248.6 274.2 248.5 273.6C248.3 273.0 248.3 272.3 248.2 271.8C248.1 271.2 248.0 270.7 247.8 270.2C247.6 269.7 247.2 269.2 247.0 268.6C246.7 268.1 246.4 267.3 246.4 266.7C246.4 266.1 246.7 265.4 247.0 264.9C247.3 264.4 247.9 264.0 248.4 263.6C248.8 263.3 249.4 263.1 249.8 262.7C250.3 262.4 250.6 262.1 251.1 261.8C251.5 261.4 252.0 261.0 252.5 260.8C253.0 260.6 253.5 260.6 254.1 260.6C254.6 260.7 255.1 261.0 255.6 261.2C256.1 261.4 256.6 261.6 257.1 261.8C257.6 262.0 258.1 262.1 258.7 262.3C259.2 262.6 259.8 262.8 260.2 263.2C260.7 263.7 261.0 264.3 261.2 264.8C261.4 265.4 261.4 266.2 261.4 266.8C261.4 267.4 261.3 268.0 261.2 268.6Z"/><clipPath id="lv388"><use href="#a388"/><use href="#b388"/></clipPath></defs>
<g fill="none" stroke="#2a2a2a" stroke-width="1.3"><use href="#a388"/><use href="#b388"/></g>
<g fill="#707070"><use href="#a388"/><use href="#b388"/></g>
<rect x="244.65" y="256.67" width="33.35" height="29.26" fill="url(#gL)" clip-path="url(#lv388)"/>
<use href="#b388" fill="none" stroke="#000" stroke-opacity="0.18" stroke-width="0.8" clip-path="url(#lv388)"/>
<circle cx="266.16" cy="270.39" r="0.45" fill="#dadada"/>
<circle cx="259.15" cy="275.77" r="0.45" fill="#dadada"/>
<circle cx="256.22" cy="266.97" r="0.45" fill="#dadada"/>
<circle cx="257.13" cy="270.38" r="0.45" fill="#dadada"/>
<circle cx="260.14" cy="275.10" r="0.45" fill="#dadada"/>
<circle cx="263.48" cy="266.84" r="0.45" fill="#dadada"/>
<circle cx="256.47" cy="275.56" r="0.45" fill="#dadada"/>
<circle cx="258.24" cy="274.68" r="0.45" fill="#dadada"/>
<circle cx="254.80" cy="277.37" r="0.45" fill="#dadada"/>
<path d="M286.4 241.1C286.3 241.5 285.8 241.9 285.6 242.3C285.3 242.7 284.9 243.0 284.9 243.4C284.8 243.8 285.0 244.2 285.0 244.7C285.1 245.2 285.4 245.9 285.4 246.5C285.3 247.0 285.1 247.6 284.7 247.9C284.3 248.3 283.7 248.5 283.1 248.7C282.5 248.8 281.8 248.8 281.3 248.8C280.7 248.8 280.1 248.7 279.5 248.7C279.0 248.7 278.5 248.6 278.0 248.6C277.5 248.6 277.1 248.7 276.6 248.7C276.1 248.7 275.6 248.8 275.2 248.8C274.7 248.7 274.2 248.6 273.8 248.4C273.4 248.2 273.1 247.7 272.8 247.4C272.5 247.1 272.4 246.6 272.0 246.4C271.7 246.2 271.3 246.1 270.8 246.0C270.3 245.9 269.6 245.9 269.1 245.7C268.7 245.5 268.2 245.1 268.1 244.8C267.9 244.4 268.2 243.8 268.2 243.4C268.2 243.0 268.4 242.6 268.2 242.2C267.9 241.8 267.3 241.6 266.7 241.1C266.1 240.6 265.0 240.1 264.7 239.5C264.3 239.0 264.1 238.2 264.5 237.8C264.8 237.3 265.8 237.0 266.6 236.8C267.3 236.6 268.5 236.7 269.2 236.6C269.9 236.5 270.4 236.4 270.8 236.2C271.1 236.0 271.3 235.5 271.6 235.3C271.9 235.0 272.2 234.6 272.6 234.4C272.9 234.2 273.4 234.2 273.9 234.0C274.3 233.9 274.7 233.8 275.2 233.6C275.6 233.4 276.1 233.0 276.6 232.8C277.1 232.6 277.7 232.4 278.2 232.4C278.7 232.5 279.3 232.8 279.7 233.1C280.1 233.5 280.3 234.0 280.7 234.3C281.0 234.7 281.3 234.9 281.7 235.2C282.1 235.4 282.6 235.5 283.0 235.7C283.4 236.0 283.7 236.3 284.0 236.6C284.2 236.9 284.3 237.3 284.6 237.7C284.8 238.0 285.0 238.4 285.3 238.7C285.6 239.1 286.0 239.4 286.2 239.8C286.4 240.2 286.5 240.7 286.4 241.1Z" fill="url(#gD)" stroke="#e8e8e8" stroke-width="0.9"/>
<ellipse cx="278.60" cy="242.10" rx="1.5" ry="1.3" fill="#f0f0f0"/>
<ellipse cx="242.10" cy="304.40" rx="3.5" ry="5.5" fill="url(#gK)" stroke="#303030" stroke-width="0.6" transform="rotate(-5 242.10 304.40)"/>
<ellipse cx="280.00" cy="301.00" rx="4" ry="6" fill="url(#gK)" stroke="#303030" stroke-width="0.6" transform="rotate(-15 280.00 301.00)"/>
<ellipse cx="261.10" cy="299.20" rx="1.8" ry="6.5" fill="url(#gK)" stroke="#333" stroke-width="0.5" transform="rotate(5 261.10 299.20)"/>
<rect x="292.70" y="232.20" width="2.20" height="82.30" fill="url(#cbar)"/>
<text x="300.80" y="242.30" font-size="10.6" fill="#111" textLength="5.6" lengthAdjust="spacingAndGlyphs">6</text>
<text x="298.80" y="277.30" font-size="10.2" fill="#111" textLength="20.6" lengthAdjust="spacingAndGlyphs">x10<tspan dy="-4" font-size="6.6">6</tspan></text>
<text x="298.20" y="313.10" font-size="10.6" fill="#111" textLength="14.4" lengthAdjust="spacingAndGlyphs">0.5</text>
<text x="11.50" y="365.20" font-size="10.4" textLength="37.9" lengthAdjust="spacingAndGlyphs">DOTMA</text>
<rect x="55.00" y="320.90" width="55.80" height="84.50" fill="#808080"/>
<ellipse cx="73.00" cy="336.10" rx="4.5" ry="3.5" fill="url(#gH)" stroke="#404040" stroke-width="0.5"/>
<defs><path id="a399" d="M100.6 364.7C100.4 365.5 100.1 366.2 100.0 366.9C99.8 367.7 99.7 368.4 99.5 369.2C99.4 370.1 99.3 371.0 98.9 371.8C98.5 372.6 98.0 373.5 97.2 374.0C96.5 374.6 95.5 375.0 94.5 375.2C93.5 375.3 92.4 375.1 91.4 374.9C90.5 374.7 89.6 374.3 88.8 374.0C88.0 373.8 87.3 373.6 86.5 373.5C85.7 373.3 84.9 373.4 84.1 373.3C83.3 373.1 82.3 373.0 81.5 372.7C80.7 372.4 80.0 371.9 79.3 371.3C78.7 370.8 78.1 370.1 77.6 369.4C77.1 368.7 76.6 368.0 76.2 367.2C75.8 366.4 75.4 365.6 75.2 364.7C75.1 363.8 75.1 362.8 75.4 362.0C75.7 361.2 76.4 360.3 77.1 359.7C77.7 359.1 78.7 358.6 79.5 358.1C80.3 357.7 81.0 357.3 81.8 356.9C82.5 356.5 83.1 356.0 83.9 355.7C84.6 355.3 85.4 354.9 86.2 354.8C87.0 354.6 87.9 354.6 88.8 354.6C89.6 354.7 90.5 354.9 91.3 355.1C92.1 355.2 92.9 355.4 93.7 355.7C94.6 355.9 95.5 356.0 96.3 356.3C97.2 356.6 98.2 357.0 98.9 357.6C99.6 358.1 100.3 358.9 100.7 359.6C101.0 360.4 101.1 361.4 101.1 362.2C101.1 363.0 100.8 363.9 100.6 364.7Z"/><path id="b399" d="M86.6 361.8C86.5 362.3 86.1 362.7 85.9 363.2C85.7 363.7 85.6 364.1 85.5 364.6C85.4 365.1 85.3 365.6 85.1 366.2C84.9 366.7 84.7 367.3 84.3 367.7C83.9 368.1 83.3 368.5 82.7 368.7C82.1 368.9 81.4 368.9 80.8 368.9C80.2 368.9 79.6 368.7 79.0 368.5C78.5 368.4 78.0 368.2 77.4 368.0C76.9 367.9 76.4 367.7 75.9 367.6C75.4 367.5 74.8 367.4 74.3 367.1C73.7 366.9 73.1 366.7 72.7 366.3C72.3 366.0 71.9 365.5 71.7 365.0C71.5 364.5 71.4 363.9 71.4 363.3C71.4 362.8 71.6 362.3 71.6 361.8C71.7 361.3 71.7 360.8 71.8 360.3C71.8 359.8 71.8 359.2 72.0 358.7C72.2 358.2 72.4 357.7 72.8 357.3C73.2 356.9 73.7 356.6 74.2 356.3C74.6 356.0 75.2 355.8 75.7 355.6C76.2 355.3 76.7 355.1 77.3 354.9C77.8 354.7 78.4 354.5 79.0 354.5C79.6 354.5 80.3 354.6 80.8 354.8C81.3 355.0 81.8 355.4 82.3 355.7C82.7 356.1 83.1 356.4 83.5 356.7C84.0 357.0 84.5 357.2 85.0 357.5C85.5 357.8 86.0 358.2 86.4 358.6C86.7 359.0 87.0 359.6 87.0 360.1C87.0 360.7 86.8 361.3 86.6 361.8Z"/><clipPath id="lv399"><use href="#a399"/><use href="#b399"/></clipPath></defs>
<g fill="none" stroke="#2a2a2a" stroke-width="1.3"><use href="#a399"/><use href="#b399"/></g>
<g fill="#808080"><use href="#a399"/><use href="#b399"/></g>
<rect x="68.95" y="351.34" width="35.65" height="25.52" fill="url(#gL)" clip-path="url(#lv399)"/>
<use href="#b399" fill="none" stroke="#000" stroke-opacity="0.18" stroke-width="0.8" clip-path="url(#lv399)"/>
<circle cx="78.85" cy="366.89" r="0.45" fill="#dadada"/>
<circle cx="78.52" cy="361.89" r="0.45" fill="#dadada"/>
<circle cx="80.92" cy="360.40" r="0.45" fill="#dadada"/>
<circle cx="79.20" cy="359.92" r="0.45" fill="#dadada"/>
<circle cx="84.78" cy="365.04" r="0.45" fill="#dadada"/>
<circle cx="92.71" cy="359.97" r="0.45" fill="#dadada"/>
<circle cx="81.18" cy="366.39" r="0.45" fill="#dadada"/>
<circle cx="90.21" cy="366.35" r="0.45" fill="#dadada"/>
<circle cx="91.40" cy="359.64" r="0.45" fill="#dadada"/>
<rect x="67.40" y="350.18" width="37.20" height="27.84" fill="#000" fill-opacity="0.22" clip-path="url(#lv399)"/>
<path d="M105.0 333.9C104.9 334.2 104.8 334.5 104.8 334.8C104.8 335.1 105.0 335.4 105.1 335.8C105.3 336.2 105.5 336.7 105.4 337.0C105.4 337.4 105.2 337.8 104.9 338.0C104.6 338.2 104.0 338.3 103.6 338.3C103.2 338.4 102.7 338.3 102.3 338.4C102.0 338.5 101.8 338.6 101.5 338.9C101.3 339.2 101.2 339.7 100.9 340.0C100.7 340.4 100.4 340.9 100.0 341.1C99.7 341.3 99.2 341.4 98.8 341.4C98.4 341.4 98.0 341.1 97.6 341.0C97.2 340.9 96.8 340.7 96.4 340.6C96.1 340.5 95.7 340.4 95.3 340.2C95.0 340.0 94.7 339.7 94.5 339.4C94.2 339.2 94.1 338.7 93.9 338.4C93.7 338.1 93.6 337.8 93.4 337.6C93.1 337.3 92.8 337.1 92.6 336.8C92.5 336.5 92.3 336.2 92.2 335.9C92.2 335.6 92.2 335.2 92.2 334.9C92.2 334.5 92.2 334.2 92.2 333.9C92.2 333.6 92.0 333.2 92.1 332.9C92.2 332.6 92.3 332.3 92.5 332.0C92.8 331.8 93.2 331.6 93.5 331.4C93.8 331.2 94.1 331.1 94.2 330.8C94.3 330.5 94.3 330.1 94.3 329.7C94.3 329.3 94.2 328.6 94.4 328.2C94.5 327.8 94.8 327.4 95.1 327.2C95.4 327.0 95.9 326.9 96.3 326.9C96.8 326.9 97.2 327.0 97.6 327.0C98.0 327.1 98.4 327.2 98.8 327.3C99.2 327.4 99.5 327.5 99.9 327.5C100.3 327.6 100.6 327.5 101.0 327.5C101.4 327.5 101.9 327.4 102.3 327.5C102.7 327.6 103.1 327.8 103.4 328.1C103.6 328.4 103.7 328.9 103.8 329.2C103.9 329.6 103.9 330.0 104.1 330.3C104.2 330.7 104.5 330.8 104.7 331.1C104.9 331.4 105.3 331.6 105.5 331.9C105.6 332.2 105.6 332.6 105.6 332.9C105.5 333.2 105.2 333.6 105.0 333.9Z" fill="url(#gW)" stroke="#9a9a9a" stroke-width="0.5"/>
<ellipse cx="66.10" cy="391.30" rx="3.5" ry="5.5" fill="url(#gK)" stroke="#303030" stroke-width="0.6" transform="rotate(15 66.10 391.30)"/>
<ellipse cx="98.40" cy="393.00" rx="3.5" ry="5.5" fill="url(#gK)" stroke="#303030" stroke-width="0.6"/>
<ellipse cx="81.60" cy="391.30" rx="2.0" ry="7.5" fill="url(#gK)" stroke="#333" stroke-width="0.5" transform="rotate(25 81.60 391.30)"/>
<rect x="114.60" y="320.90" width="55.80" height="84.50" fill="#7c7c7c"/>
<ellipse cx="123.90" cy="332.70" rx="5" ry="3" fill="url(#gH)" stroke="#404040" stroke-width="0.5"/>
<defs><path id="a410" d="M153.0 362.5C152.8 363.3 152.7 363.9 152.6 364.7C152.6 365.5 152.8 366.3 152.7 367.1C152.6 368.0 152.6 369.1 152.2 369.8C151.9 370.6 151.1 371.4 150.4 371.8C149.6 372.3 148.5 372.4 147.6 372.5C146.7 372.7 145.8 372.6 144.9 372.6C144.1 372.6 143.3 372.6 142.5 372.6C141.7 372.6 140.9 372.7 140.1 372.6C139.2 372.5 138.4 372.3 137.6 372.1C136.8 371.9 135.9 371.6 135.1 371.3C134.2 370.9 133.3 370.6 132.5 370.0C131.8 369.5 130.9 368.8 130.5 368.0C130.0 367.2 129.8 366.1 129.8 365.2C129.9 364.3 130.3 363.3 130.6 362.5C130.9 361.7 131.4 360.9 131.8 360.2C132.1 359.4 132.3 358.7 132.7 358.0C133.0 357.3 133.2 356.5 133.7 355.9C134.2 355.3 134.9 354.7 135.5 354.3C136.2 353.8 137.1 353.6 137.8 353.3C138.6 353.0 139.3 352.8 140.1 352.6C140.9 352.3 141.6 351.9 142.5 351.7C143.4 351.5 144.3 351.3 145.2 351.3C146.1 351.3 147.1 351.5 148.0 351.8C148.8 352.1 149.7 352.6 150.4 353.1C151.2 353.7 151.9 354.3 152.5 355.0C153.0 355.7 153.5 356.5 153.7 357.4C154.0 358.2 153.9 359.2 153.8 360.1C153.7 360.9 153.2 361.7 153.0 362.5Z"/><path id="b410" d="M140.2 359.5C140.2 360.0 140.0 360.5 139.9 361.0C139.8 361.5 139.7 362.0 139.6 362.5C139.5 363.1 139.4 363.6 139.1 364.2C138.9 364.7 138.6 365.2 138.1 365.6C137.7 366.0 137.1 366.3 136.5 366.5C136.0 366.6 135.3 366.6 134.8 366.7C134.2 366.7 133.6 366.7 133.0 366.7C132.5 366.7 131.9 366.8 131.3 366.7C130.8 366.7 130.1 366.6 129.6 366.4C129.0 366.2 128.5 365.9 128.1 365.5C127.7 365.0 127.5 364.4 127.3 363.9C127.1 363.4 127.0 362.8 126.9 362.3C126.8 361.9 126.6 361.4 126.5 360.9C126.3 360.5 126.1 360.0 126.0 359.5C125.9 359.0 125.8 358.4 125.9 357.9C126.0 357.4 126.2 356.9 126.4 356.4C126.7 356.0 127.1 355.6 127.4 355.2C127.8 354.8 128.1 354.4 128.5 354.0C128.9 353.6 129.2 353.2 129.7 352.7C130.1 352.3 130.6 351.8 131.2 351.6C131.7 351.3 132.4 351.1 133.0 351.1C133.7 351.2 134.4 351.4 134.9 351.7C135.4 352.0 135.9 352.6 136.3 353.0C136.7 353.4 137.0 353.9 137.3 354.3C137.7 354.7 138.0 355.1 138.3 355.4C138.7 355.8 139.1 356.2 139.4 356.6C139.7 357.0 139.9 357.5 140.1 358.0C140.2 358.4 140.2 359.0 140.2 359.5Z"/><clipPath id="lv410"><use href="#a410"/><use href="#b410"/></clipPath></defs>
<g fill="none" stroke="#2a2a2a" stroke-width="1.3"><use href="#a410"/><use href="#b410"/></g>
<g fill="#7c7c7c"><use href="#a410"/><use href="#b410"/></g>
<rect x="123.30" y="348.70" width="34.50" height="26.40" fill="url(#gL)" clip-path="url(#lv410)"/>
<use href="#b410" fill="none" stroke="#000" stroke-opacity="0.18" stroke-width="0.8" clip-path="url(#lv410)"/>
<circle cx="134.73" cy="367.43" r="0.45" fill="#dadada"/>
<circle cx="132.59" cy="360.65" r="0.45" fill="#dadada"/>
<circle cx="148.62" cy="364.35" r="0.45" fill="#dadada"/>
<circle cx="139.94" cy="359.21" r="0.45" fill="#dadada"/>
<circle cx="134.94" cy="357.64" r="0.45" fill="#dadada"/>
<circle cx="146.97" cy="366.08" r="0.45" fill="#dadada"/>
<circle cx="143.54" cy="358.19" r="0.45" fill="#dadada"/>
<circle cx="134.87" cy="363.16" r="0.45" fill="#dadada"/>
<circle cx="139.95" cy="364.84" r="0.45" fill="#dadada"/>
<rect x="121.80" y="347.50" width="36.00" height="28.80" fill="#fff" fill-opacity="0.16" clip-path="url(#lv410)"/>
<path d="M160.1 330.9C159.9 331.2 159.4 331.5 159.1 331.8C158.9 332.1 158.6 332.4 158.5 332.7C158.4 333.0 158.5 333.3 158.5 333.7C158.4 334.0 158.4 334.4 158.1 334.7C157.9 334.9 157.6 335.2 157.2 335.3C156.8 335.5 156.4 335.6 156.0 335.7C155.5 335.7 155.1 335.7 154.7 335.7C154.2 335.7 153.8 335.5 153.4 335.5C153.1 335.5 152.8 335.5 152.5 335.6C152.1 335.8 151.9 336.3 151.5 336.7C151.1 337.0 150.6 337.6 150.1 337.7C149.6 337.9 149.1 337.9 148.7 337.7C148.3 337.5 148.0 336.9 147.8 336.6C147.6 336.2 147.5 335.8 147.2 335.5C147.0 335.2 146.6 335.1 146.3 334.9C146.0 334.7 145.6 334.6 145.4 334.4C145.1 334.1 145.0 333.8 144.9 333.5C144.8 333.2 144.9 332.9 144.8 332.6C144.8 332.3 144.7 332.0 144.5 331.8C144.3 331.5 143.9 331.2 143.6 330.9C143.4 330.6 142.9 330.2 142.8 329.8C142.6 329.5 142.5 329.0 142.7 328.7C142.9 328.3 143.4 328.1 143.8 327.9C144.3 327.7 145.0 327.6 145.4 327.4C145.8 327.3 146.1 327.1 146.4 326.9C146.6 326.7 146.7 326.3 147.0 326.0C147.2 325.8 147.6 325.5 147.9 325.5C148.3 325.4 148.8 325.5 149.3 325.5C149.7 325.5 150.0 325.6 150.4 325.5C150.8 325.5 151.1 325.2 151.5 325.2C151.9 325.1 152.3 325.0 152.7 325.1C153.0 325.2 153.3 325.6 153.6 325.8C153.9 326.0 154.1 326.3 154.5 326.3C154.9 326.4 155.4 326.2 155.9 326.2C156.4 326.2 157.1 326.1 157.5 326.2C157.9 326.4 158.1 326.8 158.3 327.1C158.4 327.4 158.3 327.8 158.4 328.2C158.6 328.5 158.8 328.7 159.1 329.0C159.4 329.3 159.9 329.5 160.1 329.8C160.2 330.2 160.2 330.6 160.1 330.9Z" fill="url(#gR)" stroke="#a00000" stroke-width="0.7"/>
<ellipse cx="123.00" cy="393.90" rx="3.5" ry="5" fill="url(#gK)" stroke="#303030" stroke-width="0.6"/>
<ellipse cx="159.50" cy="391.30" rx="3.8" ry="5.5" fill="url(#gK)" stroke="#303030" stroke-width="0.6"/>
<ellipse cx="142.80" cy="391.30" rx="2.2" ry="7" fill="#9a0000" transform="rotate(10 142.80 391.30)"/>
<rect x="174.20" y="320.90" width="55.80" height="84.50" fill="#808080"/>
<ellipse cx="182.90" cy="336.10" rx="5" ry="3.5" fill="url(#gH)" stroke="#404040" stroke-width="0.5"/>
<defs><path id="a421" d="M216.5 363.0C216.2 363.9 215.5 364.7 215.0 365.5C214.5 366.3 214.0 366.9 213.6 367.7C213.2 368.4 213.0 369.2 212.6 370.0C212.2 370.8 211.7 371.7 211.0 372.4C210.4 373.1 209.5 373.8 208.5 374.2C207.6 374.6 206.4 374.9 205.3 375.0C204.3 375.2 203.1 375.3 202.0 375.3C200.9 375.3 199.8 375.3 198.7 375.2C197.6 375.0 196.4 374.8 195.4 374.4C194.4 374.0 193.5 373.4 192.7 372.7C192.0 372.1 191.4 371.2 190.9 370.4C190.5 369.6 190.2 368.7 189.8 367.9C189.5 367.1 189.2 366.4 188.9 365.5C188.5 364.7 188.1 363.9 187.9 363.0C187.7 362.2 187.5 361.2 187.6 360.3C187.7 359.4 188.0 358.4 188.4 357.6C188.9 356.8 189.7 356.0 190.4 355.4C191.2 354.8 192.2 354.3 193.1 353.8C194.1 353.4 195.1 353.0 196.0 352.7C197.0 352.4 197.9 352.0 198.9 351.8C199.9 351.5 201.0 351.3 202.0 351.2C203.1 351.1 204.2 351.1 205.3 351.3C206.3 351.4 207.4 351.8 208.3 352.2C209.3 352.6 210.2 353.1 211.1 353.6C212.0 354.2 212.8 354.7 213.6 355.4C214.4 356.0 215.3 356.7 215.9 357.5C216.4 358.3 216.9 359.3 217.0 360.2C217.1 361.1 216.8 362.2 216.5 363.0Z"/><path id="b421" d="M199.4 359.8C199.3 360.4 199.1 360.9 199.0 361.5C198.8 362.0 198.7 362.6 198.5 363.1C198.2 363.6 198.0 364.2 197.6 364.6C197.2 365.1 196.6 365.5 196.1 365.8C195.5 366.1 194.8 366.3 194.2 366.5C193.5 366.6 193.0 366.8 192.3 367.0C191.7 367.2 191.1 367.5 190.4 367.7C189.7 367.9 188.9 368.1 188.2 368.0C187.4 367.9 186.7 367.7 186.1 367.3C185.5 367.0 185.0 366.4 184.5 366.0C184.0 365.5 183.6 365.1 183.1 364.7C182.7 364.2 182.0 363.9 181.6 363.4C181.2 362.8 180.8 362.2 180.8 361.6C180.7 361.1 181.0 360.4 181.3 359.8C181.6 359.2 182.2 358.8 182.4 358.3C182.7 357.8 182.8 357.3 182.9 356.8C183.0 356.2 182.9 355.5 183.1 354.9C183.3 354.3 183.6 353.6 184.1 353.2C184.7 352.8 185.6 352.7 186.3 352.6C187.0 352.6 187.8 352.8 188.5 352.8C189.2 352.8 189.7 352.8 190.4 352.7C191.0 352.6 191.7 352.2 192.5 352.1C193.2 352.0 194.1 351.9 194.8 352.1C195.5 352.2 196.2 352.7 196.7 353.1C197.2 353.5 197.6 354.2 197.9 354.7C198.2 355.3 198.5 355.8 198.7 356.4C199.0 357.0 199.2 357.5 199.3 358.1C199.4 358.6 199.4 359.2 199.4 359.8Z"/><clipPath id="lv421"><use href="#a421"/><use href="#b421"/></clipPath></defs>
<g fill="none" stroke="#2a2a2a" stroke-width="1.3"><use href="#a421"/><use href="#b421"/></g>
<g fill="#808080"><use href="#a421"/><use href="#b421"/></g>
<rect x="178.35" y="348.10" width="42.55" height="28.60" fill="url(#gL)" clip-path="url(#lv421)"/>
<use href="#b421" fill="none" stroke="#000" stroke-opacity="0.18" stroke-width="0.8" clip-path="url(#lv421)"/>
<circle cx="202.77" cy="364.35" r="0.45" fill="#dadada"/>
<circle cx="207.07" cy="362.98" r="0.45" fill="#dadada"/>
<circle cx="199.39" cy="361.00" r="0.45" fill="#dadada"/>
<circle cx="206.79" cy="362.45" r="0.45" fill="#dadada"/>
<circle cx="201.61" cy="361.61" r="0.45" fill="#dadada"/>
<circle cx="191.98" cy="368.21" r="0.45" fill="#dadada"/>
<circle cx="189.98" cy="366.31" r="0.45" fill="#dadada"/>
<circle cx="202.22" cy="366.49" r="0.45" fill="#dadada"/>
<circle cx="200.17" cy="362.40" r="0.45" fill="#dadada"/>
<path d="M215.5 331.4C215.9 331.7 216.5 332.2 216.8 332.6C217.1 333.0 217.2 333.5 217.2 333.9C217.1 334.3 216.7 334.7 216.5 335.0C216.3 335.4 216.0 335.7 215.8 336.1C215.6 336.4 215.5 337.0 215.3 337.4C215.1 337.8 214.9 338.3 214.6 338.6C214.2 338.9 213.7 339.0 213.3 339.1C212.8 339.2 212.3 339.2 211.8 339.2C211.4 339.3 210.9 339.4 210.5 339.4C210.1 339.4 209.6 339.4 209.2 339.2C208.8 339.1 208.4 338.6 208.1 338.3C207.8 337.9 207.6 337.4 207.3 337.1C207.0 336.8 206.8 336.7 206.4 336.7C206.1 336.6 205.6 336.8 205.3 336.7C204.9 336.6 204.5 336.4 204.3 336.2C204.1 335.9 204.1 335.4 204.0 335.1C203.9 334.8 203.9 334.4 203.7 334.1C203.4 333.9 203.0 333.7 202.6 333.5C202.3 333.2 201.7 333.0 201.4 332.6C201.1 332.3 200.9 331.8 200.8 331.4C200.8 331.0 201.0 330.5 201.2 330.2C201.3 329.8 201.6 329.4 201.8 329.1C202.0 328.7 202.2 328.4 202.4 328.0C202.6 327.7 202.9 327.4 203.1 327.1C203.3 326.8 203.6 326.5 203.9 326.2C204.1 325.9 204.4 325.7 204.7 325.4C205.0 325.1 205.2 324.7 205.5 324.4C205.9 324.1 206.2 323.8 206.6 323.6C207.0 323.5 207.5 323.4 207.9 323.4C208.3 323.4 208.8 323.6 209.2 323.7C209.6 323.9 210.0 324.1 210.4 324.3C210.7 324.5 211.1 324.6 211.4 324.7C211.8 324.8 212.2 324.8 212.6 324.9C213.0 325.0 213.4 325.1 213.8 325.2C214.1 325.4 214.5 325.7 214.7 326.0C214.9 326.4 215.1 326.8 215.1 327.2C215.1 327.7 215.0 328.2 214.8 328.6C214.7 329.0 214.4 329.5 214.3 329.8C214.2 330.1 214.2 330.3 214.3 330.6C214.5 330.9 215.0 331.1 215.5 331.4Z" fill="url(#gD)" stroke="#400000" stroke-width="0.7"/>
<ellipse cx="182.90" cy="393.90" rx="3.5" ry="5" fill="url(#gK)" stroke="#303030" stroke-width="0.6"/>
<ellipse cx="222.50" cy="389.50" rx="4.5" ry="6" fill="url(#gK)" stroke="#303030" stroke-width="0.6" transform="rotate(10 222.50 389.50)"/>
<ellipse cx="205.30" cy="391.30" rx="2.2" ry="7.5" fill="url(#gK)" stroke="#333" stroke-width="0.5" transform="rotate(5 205.30 391.30)"/>
<rect x="233.10" y="320.90" width="55.80" height="84.50" fill="#7c7c7c"/>
<ellipse cx="246.40" cy="340.40" rx="3.5" ry="3.5" fill="url(#gH)" stroke="#404040" stroke-width="0.5"/>
<defs><path id="a432" d="M272.5 367.7C272.4 368.6 272.1 369.4 271.7 370.2C271.3 371.0 270.8 371.7 270.3 372.3C269.8 373.0 269.2 373.5 268.7 374.1C268.2 374.7 267.6 375.2 267.1 375.7C266.5 376.3 266.0 376.8 265.3 377.3C264.6 377.8 263.9 378.3 263.2 378.6C262.4 378.9 261.5 379.1 260.7 379.2C259.8 379.3 258.9 379.2 258.1 379.0C257.2 378.8 256.4 378.5 255.6 378.1C254.9 377.7 254.1 377.2 253.5 376.7C252.8 376.2 252.2 375.5 251.7 374.8C251.3 374.1 251.0 373.2 250.8 372.4C250.6 371.6 250.7 370.8 250.6 370.0C250.6 369.2 250.6 368.5 250.6 367.7C250.5 366.9 250.4 366.2 250.3 365.3C250.3 364.5 250.2 363.6 250.4 362.8C250.6 362.0 251.0 361.1 251.5 360.4C252.0 359.7 252.8 359.2 253.5 358.8C254.2 358.3 255.1 358.0 255.8 357.7C256.6 357.4 257.4 357.1 258.2 356.9C259.0 356.7 259.8 356.4 260.7 356.4C261.5 356.4 262.4 356.5 263.2 356.8C263.9 357.1 264.6 357.6 265.3 358.1C266.0 358.5 266.5 359.1 267.1 359.6C267.7 360.1 268.3 360.6 268.9 361.1C269.6 361.6 270.3 362.1 270.9 362.8C271.4 363.5 272.0 364.2 272.3 365.1C272.5 365.9 272.6 366.8 272.5 367.7Z"/><path id="b432" d="M259.0 364.7C259.0 365.2 258.7 365.8 258.4 366.3C258.2 366.7 257.9 367.1 257.6 367.6C257.4 368.0 257.2 368.5 257.0 369.0C256.8 369.5 256.6 370.1 256.3 370.5C255.9 370.9 255.5 371.3 255.0 371.5C254.5 371.8 253.8 371.8 253.3 371.8C252.8 371.8 252.2 371.8 251.7 371.8C251.2 371.8 250.7 371.8 250.1 371.8C249.6 371.8 249.0 371.7 248.5 371.5C248.0 371.3 247.5 370.9 247.1 370.5C246.8 370.1 246.5 369.6 246.3 369.1C246.0 368.6 245.8 368.2 245.6 367.7C245.3 367.2 245.0 366.8 244.9 366.3C244.8 365.8 244.7 365.2 244.7 364.7C244.8 364.2 245.0 363.7 245.2 363.2C245.4 362.7 245.6 362.3 245.7 361.8C245.9 361.3 245.9 360.7 246.1 360.1C246.2 359.6 246.4 358.9 246.8 358.4C247.1 358.0 247.7 357.6 248.3 357.5C248.8 357.4 249.5 357.5 250.1 357.6C250.7 357.7 251.2 358.0 251.7 358.1C252.2 358.2 252.7 358.1 253.2 358.1C253.7 358.2 254.3 358.1 254.8 358.2C255.3 358.3 255.8 358.6 256.2 359.0C256.6 359.3 256.9 359.8 257.3 360.2C257.6 360.7 257.8 361.1 258.1 361.6C258.4 362.1 258.7 362.5 258.9 363.0C259.0 363.6 259.1 364.2 259.0 364.7Z"/><clipPath id="lv432"><use href="#a432"/><use href="#b432"/></clipPath></defs>
<g fill="none" stroke="#2a2a2a" stroke-width="1.3"><use href="#a432"/><use href="#b432"/></g>
<g fill="#7c7c7c"><use href="#a432"/><use href="#b432"/></g>
<rect x="242.48" y="353.90" width="32.66" height="26.40" fill="url(#gL)" clip-path="url(#lv432)"/>
<use href="#b432" fill="none" stroke="#000" stroke-opacity="0.18" stroke-width="0.8" clip-path="url(#lv432)"/>
<circle cx="260.11" cy="369.47" r="0.45" fill="#dadada"/>
<circle cx="252.00" cy="371.00" r="0.45" fill="#dadada"/>
<circle cx="257.04" cy="369.92" r="0.45" fill="#dadada"/>
<circle cx="253.85" cy="370.93" r="0.45" fill="#dadada"/>
<circle cx="260.92" cy="369.54" r="0.45" fill="#dadada"/>
<circle cx="259.00" cy="372.17" r="0.45" fill="#dadada"/>
<circle cx="254.37" cy="365.96" r="0.45" fill="#dadada"/>
<circle cx="255.48" cy="370.03" r="0.45" fill="#dadada"/>
<circle cx="254.56" cy="369.46" r="0.45" fill="#dadada"/>
<path d="M278.8 336.2C279.0 336.6 279.4 337.2 279.3 337.6C279.1 338.0 278.5 338.4 278.0 338.6C277.5 338.9 276.7 338.9 276.4 339.2C276.1 339.5 276.1 339.8 276.2 340.3C276.2 340.8 276.6 341.7 276.5 342.2C276.5 342.7 276.2 343.3 275.8 343.4C275.4 343.6 274.6 343.2 274.1 343.1C273.5 342.9 273.0 342.5 272.6 342.6C272.2 342.6 272.0 342.9 271.7 343.2C271.4 343.5 271.0 344.0 270.6 344.3C270.2 344.5 269.7 344.5 269.3 344.5C268.9 344.4 268.5 344.2 268.1 344.0C267.7 343.8 267.4 343.5 267.0 343.3C266.7 343.0 266.4 342.7 266.1 342.4C265.9 342.1 265.7 341.8 265.4 341.5C265.1 341.2 264.9 340.9 264.6 340.6C264.3 340.4 263.8 340.2 263.5 339.9C263.2 339.5 262.9 339.2 262.9 338.8C262.8 338.3 262.9 337.8 263.0 337.4C263.1 337.0 263.3 336.6 263.3 336.2C263.4 335.8 263.3 335.4 263.3 335.0C263.2 334.6 263.1 334.2 263.2 333.7C263.2 333.3 263.4 332.9 263.6 332.6C263.9 332.3 264.2 332.0 264.5 331.7C264.8 331.4 265.0 331.1 265.2 330.7C265.4 330.4 265.6 329.9 265.8 329.6C266.1 329.2 266.4 328.9 266.8 328.7C267.2 328.6 267.7 328.6 268.2 328.7C268.6 328.7 269.1 329.0 269.5 329.0C269.9 329.1 270.2 329.1 270.6 329.0C271.0 329.0 271.4 328.7 271.8 328.6C272.2 328.4 272.7 328.3 273.1 328.4C273.5 328.5 273.8 328.9 274.1 329.2C274.4 329.5 274.6 330.0 274.8 330.3C275.1 330.6 275.5 330.7 275.8 330.9C276.2 331.1 276.8 331.1 277.2 331.4C277.5 331.6 277.8 332.0 277.9 332.4C278.0 332.9 277.7 333.4 277.7 333.9C277.7 334.3 277.6 334.7 277.8 335.0C278.0 335.4 278.6 335.8 278.8 336.2Z" fill="url(#gY)" stroke="#a00000" stroke-width="0.8"/>
<path d="M273.4 338.2C273.3 338.4 273.1 338.6 273.0 338.8C272.9 339.0 272.7 339.2 272.6 339.3C272.5 339.5 272.5 339.7 272.5 339.9C272.4 340.2 272.5 340.5 272.4 340.8C272.3 341.0 272.1 341.3 272.0 341.5C271.8 341.6 271.5 341.7 271.3 341.6C271.1 341.6 270.8 341.4 270.6 341.3C270.4 341.2 270.2 341.1 270.0 341.0C269.9 340.9 269.7 340.9 269.5 340.8C269.3 340.7 269.1 340.7 269.0 340.6C268.8 340.5 268.6 340.3 268.5 340.1C268.4 340.0 268.3 339.8 268.2 339.6C268.1 339.4 268.0 339.1 267.9 338.9C267.8 338.7 267.8 338.4 267.8 338.2C267.8 338.0 267.9 337.7 268.0 337.5C268.1 337.3 268.2 337.1 268.3 336.9C268.4 336.7 268.5 336.5 268.6 336.3C268.7 336.1 268.7 335.9 268.9 335.7C269.0 335.5 269.2 335.3 269.3 335.2C269.5 335.1 269.8 335.0 270.0 335.0C270.2 335.1 270.4 335.2 270.6 335.2C270.8 335.3 271.0 335.3 271.2 335.4C271.3 335.4 271.5 335.4 271.7 335.5C271.9 335.6 272.1 335.6 272.3 335.7C272.5 335.8 272.6 336.0 272.8 336.2C272.9 336.4 273.1 336.6 273.2 336.8C273.3 337.0 273.4 337.2 273.4 337.5C273.5 337.7 273.4 338.0 273.4 338.2Z" fill="#e02000"/>
<ellipse cx="244.10" cy="393.90" rx="3.3" ry="5.5" fill="url(#gK)" stroke="#303030" stroke-width="0.6"/>
<ellipse cx="271.40" cy="394.70" rx="3.5" ry="5.5" fill="url(#gK)" stroke="#303030" stroke-width="0.6"/>
<ellipse cx="256.80" cy="394.70" rx="1.8" ry="6.5" fill="url(#gK)" stroke="#333" stroke-width="0.5" transform="rotate(15 256.80 394.70)"/>
<rect x="292.70" y="322.10" width="2.20" height="82.30" fill="url(#cbar)"/>
<text x="300.80" y="332.20" font-size="10.6" fill="#111" textLength="5.6" lengthAdjust="spacingAndGlyphs">3</text>
<text x="298.80" y="367.20" font-size="10.2" fill="#111" textLength="20.6" lengthAdjust="spacingAndGlyphs">x10<tspan dy="-4" font-size="6.6">6</tspan></text>
<text x="298.20" y="403.00" font-size="10.6" fill="#111" textLength="14.4" lengthAdjust="spacingAndGlyphs">0.2</text>
<text x="21.50" y="454.60" font-size="10.4" textLength="26.5" lengthAdjust="spacingAndGlyphs">EPC</text>
<rect x="55.00" y="410.30" width="55.80" height="84.50" fill="#888888"/>
<ellipse cx="67.80" cy="418.10" rx="4" ry="4.5" fill="url(#gH)" stroke="#404040" stroke-width="0.5"/>
<path d="M96.3 449.1C96.3 449.8 96.4 450.5 96.3 451.2C96.2 451.9 96.1 452.7 95.7 453.3C95.4 454.0 94.9 454.6 94.4 455.2C93.9 455.7 93.4 456.2 92.9 456.8C92.4 457.4 92.1 458.1 91.5 458.7C91.0 459.3 90.4 460.0 89.7 460.4C89.0 460.8 88.0 461.0 87.1 461.0C86.3 461.1 85.3 460.7 84.4 460.6C83.5 460.4 82.8 460.2 82.0 460.1C81.2 460.0 80.5 460.1 79.7 460.1C78.9 460.2 78.0 460.3 77.2 460.2C76.4 460.1 75.6 459.9 74.8 459.6C74.0 459.4 73.3 458.9 72.7 458.5C72.0 458.1 71.3 457.6 70.8 457.0C70.3 456.5 69.9 455.8 69.6 455.1C69.4 454.5 69.4 453.7 69.4 453.0C69.4 452.3 69.6 451.6 69.6 450.9C69.5 450.3 69.4 449.8 69.1 449.1C68.8 448.4 68.2 447.7 67.9 447.0C67.6 446.3 67.3 445.4 67.4 444.6C67.5 443.9 68.0 443.1 68.5 442.5C69.0 441.9 69.8 441.4 70.5 440.9C71.2 440.5 71.9 440.0 72.6 439.6C73.3 439.2 73.9 438.7 74.7 438.4C75.4 438.1 76.3 437.8 77.1 437.7C77.9 437.5 78.7 437.5 79.6 437.5C80.4 437.4 81.2 437.3 82.0 437.3C82.8 437.3 83.7 437.1 84.5 437.2C85.3 437.3 86.1 437.5 86.9 437.8C87.6 438.2 88.1 438.8 88.7 439.3C89.3 439.8 89.7 440.4 90.2 440.8C90.8 441.2 91.5 441.5 92.1 441.9C92.8 442.3 93.6 442.6 94.2 443.1C94.8 443.6 95.4 444.2 95.7 444.9C96.0 445.5 96.1 446.3 96.2 447.0C96.3 447.7 96.2 448.4 96.3 449.1Z" fill="#ff5a00" stroke="#800000" stroke-width="0.9"/>
<path d="M93.4 449.1C93.5 449.7 93.9 450.3 93.8 450.9C93.8 451.4 93.5 452.0 93.1 452.5C92.7 453.0 91.9 453.3 91.4 453.7C90.8 454.0 90.3 454.3 90.0 454.7C89.6 455.2 89.5 455.8 89.2 456.3C88.9 456.9 88.7 457.7 88.2 458.1C87.7 458.5 86.9 458.9 86.2 458.9C85.5 459.0 84.7 458.8 84.0 458.6C83.3 458.5 82.6 458.2 82.0 458.1C81.4 458.1 80.8 458.2 80.1 458.3C79.4 458.3 78.7 458.6 77.9 458.5C77.2 458.5 76.4 458.4 75.8 458.2C75.1 458.0 74.5 457.6 74.0 457.2C73.5 456.8 73.0 456.3 72.6 455.8C72.2 455.3 71.8 454.7 71.5 454.2C71.3 453.7 71.0 453.1 70.9 452.5C70.7 452.0 70.6 451.4 70.6 450.8C70.5 450.2 70.5 449.7 70.5 449.1C70.5 448.5 70.6 448.0 70.7 447.4C70.9 446.9 71.1 446.3 71.4 445.8C71.7 445.3 72.1 444.9 72.5 444.5C72.9 444.0 73.3 443.6 73.6 443.2C74.0 442.7 74.3 442.2 74.7 441.7C75.1 441.3 75.5 440.7 76.0 440.4C76.6 440.0 77.2 439.7 77.9 439.5C78.5 439.3 79.3 439.3 80.0 439.4C80.7 439.4 81.3 439.5 82.0 439.6C82.7 439.7 83.3 439.8 83.9 439.9C84.6 440.0 85.2 440.1 85.8 440.2C86.5 440.3 87.2 440.3 87.9 440.4C88.6 440.6 89.4 440.7 90.1 440.9C90.8 441.2 91.5 441.5 92.0 442.0C92.5 442.5 92.7 443.2 92.9 443.8C93.0 444.4 92.8 445.2 92.8 445.8C92.8 446.4 92.6 446.9 92.7 447.5C92.8 448.1 93.2 448.5 93.4 449.1Z" fill="#ffa000"/>
<ellipse cx="81.75" cy="450.18" rx="2.1998196085380304" ry="1.502854851693234" fill="#ffee30"/>
<ellipse cx="78.69" cy="447.48" rx="3.2402887266976084" ry="1.6760075259797655" fill="#ffee30"/>
<ellipse cx="75.72" cy="444.07" rx="3.338707446038642" ry="2.020824968583998" fill="#ffee30"/>
<ellipse cx="81.19" cy="446.01" rx="3.3225914252424333" ry="2.2042371321877408" fill="#ffee30"/>
<ellipse cx="79.89" cy="453.95" rx="3.3499471650050503" ry="2.11274486936372" fill="#ffee30"/>
<ellipse cx="75.86" cy="456.79" rx="2.6052676645627106" ry="2.4107183860365615" fill="#ffee30"/>
<ellipse cx="86.87" cy="443.61" rx="3.3567091989290536" ry="1.5088479737018186" fill="#ffee30"/>
<ellipse cx="80.72" cy="450.52" rx="3.054598039300654" ry="2.526750164269861" fill="#ffee30"/>
<ellipse cx="89.75" cy="449.45" rx="3.195822683414568" ry="1.7651515237899758" fill="#ffee30"/>
<ellipse cx="83.43" cy="448.41" rx="3.369117745089852" ry="2.4539963054680993" fill="#ffee30"/>
<ellipse cx="74.96" cy="453.00" rx="3.3487146635710494" ry="2.0407821996188913" fill="#ffee30"/>
<ellipse cx="82.15" cy="449.12" rx="2.5901311058757948" ry="2.0841199093688094" fill="#ffee30"/>
<ellipse cx="90.19" cy="450.44" rx="2.842066461047997" ry="2.4237282630077113" fill="#ffee30"/>
<ellipse cx="82.42" cy="446.90" rx="1.7703888209732495" ry="2.340312182433078" fill="#ffee30"/>
<ellipse cx="82.77" cy="450.86" rx="3.3265098125407193" ry="2.586769826937831" fill="#ffee30"/>
<ellipse cx="79.31" cy="449.06" rx="2.744047554302518" ry="2.973318163732465" fill="#ffee30"/>
<ellipse cx="86.30" cy="446.22" rx="1.9977656936352213" ry="1.688806496977442" fill="#ffee30"/>
<ellipse cx="77.53" cy="457.10" rx="2.1555205167867273" ry="2.905333873752655" fill="#ffee30"/>
<ellipse cx="88.19" cy="453.85" rx="2.0033240294727293" ry="2.703542855584085" fill="#ffee30"/>
<ellipse cx="81.73" cy="448.98" rx="1.7941852288988565" ry="2.116084855815766" fill="#ffee30"/>
<ellipse cx="80.72" cy="449.13" rx="1.9495310235656405" ry="1.7947457615350695" fill="#ffee30"/>
<ellipse cx="77.83" cy="447.91" rx="2.0307811546749375" ry="2.4610693503766994" fill="#ffee30"/>
<ellipse cx="81.63" cy="453.44" rx="1.875290418361712" ry="2.126441875637197" fill="#ffee30"/>
<ellipse cx="85.28" cy="441.61" rx="3.3305701449201344" ry="1.9154585862810878" fill="#ffee30"/>
<ellipse cx="81.00" cy="449.60" rx="1.4" ry="1.2" fill="#c00000"/>
<ellipse cx="82.50" cy="453.60" rx="1.2" ry="1.0" fill="#a00000"/>
<ellipse cx="79.00" cy="445.60" rx="1.0" ry="0.9" fill="#d01000"/>
<path d="M102.4 420.7C102.4 421.0 102.3 421.3 102.2 421.7C102.1 422.0 101.9 422.3 101.7 422.5C101.5 422.8 101.2 423.1 100.9 423.3C100.6 423.5 100.1 423.6 99.7 423.7C99.4 423.9 98.9 423.9 98.7 424.1C98.4 424.3 98.3 424.5 98.1 424.8C97.9 425.1 97.9 425.6 97.6 425.9C97.4 426.2 97.0 426.5 96.6 426.7C96.3 426.8 95.7 426.7 95.3 426.7C94.9 426.8 94.5 426.7 94.0 426.8C93.5 426.9 93.1 427.2 92.5 427.4C92.0 427.6 91.3 428.0 90.7 428.0C90.2 428.1 89.6 427.9 89.2 427.6C88.8 427.4 88.6 426.8 88.4 426.4C88.2 426.0 88.1 425.5 88.0 425.1C87.8 424.7 87.6 424.5 87.5 424.1C87.4 423.8 87.3 423.5 87.3 423.2C87.3 422.9 87.5 422.5 87.5 422.2C87.6 422.0 87.6 421.7 87.5 421.4C87.5 421.2 87.3 421.0 87.2 420.7C87.1 420.4 87.0 420.2 87.0 419.9C87.1 419.6 87.2 419.4 87.2 419.1C87.3 418.8 87.2 418.5 87.2 418.2C87.1 417.8 86.9 417.3 86.9 416.9C86.9 416.5 87.0 416.0 87.3 415.8C87.6 415.6 88.3 415.5 88.8 415.5C89.4 415.5 90.0 415.7 90.5 415.6C90.9 415.6 91.2 415.5 91.6 415.2C91.9 415.0 92.2 414.4 92.6 414.2C93.0 413.9 93.5 413.6 94.0 413.6C94.5 413.6 95.0 413.9 95.4 414.2C95.8 414.4 96.1 414.9 96.5 415.1C96.8 415.4 97.1 415.5 97.5 415.6C97.9 415.7 98.5 415.6 98.9 415.7C99.3 415.9 99.8 416.0 100.1 416.2C100.4 416.5 100.5 416.9 100.6 417.2C100.8 417.5 100.8 417.8 100.9 418.1C101.1 418.4 101.3 418.6 101.5 418.9C101.7 419.2 102.0 419.5 102.2 419.8C102.3 420.0 102.4 420.4 102.4 420.7Z" fill="url(#gD)" stroke="#400000" stroke-width="0.7"/>
<ellipse cx="60.00" cy="481.90" rx="3.5" ry="5.5" fill="url(#gK)" stroke="#303030" stroke-width="0.6"/>
<ellipse cx="94.50" cy="481.00" rx="4" ry="6" fill="url(#gK)" stroke="#303030" stroke-width="0.6" transform="rotate(-15 94.50 481.00)"/>
<ellipse cx="78.10" cy="481.00" rx="2" ry="7" fill="#5a5a5a" stroke="#202020" stroke-width="0.6" transform="rotate(25 78.10 481.00)"/>
<rect x="114.60" y="410.30" width="55.80" height="84.50" fill="#828282"/>
<ellipse cx="128.20" cy="431.90" rx="4" ry="3.5" fill="url(#gH)" stroke="#404040" stroke-width="0.5"/>
<defs><path id="a454" d="M160.6 455.8C160.6 456.6 160.1 457.4 159.7 458.2C159.3 458.9 158.7 459.5 158.2 460.2C157.7 460.8 157.3 461.4 156.8 462.0C156.3 462.6 155.8 463.3 155.2 463.8C154.6 464.2 153.8 464.6 153.1 464.8C152.3 465.1 151.5 465.1 150.7 465.2C149.9 465.3 149.2 465.4 148.4 465.5C147.6 465.7 146.7 465.9 145.9 465.9C145.0 465.9 144.1 465.9 143.3 465.5C142.5 465.2 141.9 464.6 141.3 464.0C140.8 463.4 140.4 462.6 140.0 462.0C139.6 461.3 139.2 460.7 138.7 460.1C138.3 459.4 137.7 458.8 137.4 458.1C137.1 457.4 136.9 456.5 136.8 455.8C136.8 455.0 137.0 454.2 137.3 453.4C137.5 452.7 137.9 451.9 138.2 451.2C138.6 450.5 138.9 449.8 139.4 449.1C139.9 448.5 140.5 447.8 141.2 447.4C141.9 447.0 142.8 446.8 143.6 446.6C144.4 446.5 145.3 446.6 146.1 446.5C146.9 446.4 147.6 446.3 148.4 446.1C149.1 446.0 150.0 445.7 150.8 445.7C151.7 445.7 152.6 445.8 153.3 446.1C154.1 446.5 154.7 447.2 155.2 447.8C155.7 448.4 156.0 449.1 156.5 449.7C157.0 450.3 157.5 450.8 158.1 451.4C158.6 452.0 159.4 452.6 159.8 453.3C160.3 454.0 160.6 455.0 160.6 455.8Z"/><path id="b454" d="M146.0 453.0C145.9 453.4 145.9 453.9 145.8 454.3C145.7 454.8 145.6 455.3 145.5 455.7C145.3 456.2 145.1 456.7 144.9 457.1C144.7 457.6 144.4 458.1 144.0 458.4C143.7 458.8 143.2 459.2 142.7 459.5C142.2 459.8 141.7 459.9 141.1 460.0C140.5 460.0 139.9 459.9 139.4 459.8C138.9 459.7 138.4 459.5 137.9 459.3C137.4 459.2 136.9 459.0 136.4 458.9C135.9 458.7 135.4 458.6 134.9 458.3C134.4 458.0 134.0 457.7 133.6 457.3C133.3 456.9 133.0 456.4 132.9 455.9C132.7 455.5 132.7 454.9 132.7 454.4C132.7 453.9 132.8 453.4 132.9 453.0C133.0 452.5 133.0 452.1 133.1 451.6C133.2 451.1 133.2 450.7 133.3 450.2C133.4 449.7 133.5 449.2 133.7 448.7C134.0 448.2 134.3 447.7 134.7 447.3C135.1 447.0 135.6 446.6 136.1 446.5C136.6 446.3 137.2 446.2 137.8 446.2C138.3 446.2 138.9 446.3 139.4 446.4C139.9 446.5 140.4 446.5 140.9 446.6C141.4 446.7 142.0 446.8 142.5 446.9C143.0 447.0 143.6 447.2 144.0 447.5C144.5 447.7 145.0 448.1 145.3 448.5C145.6 449.0 145.8 449.5 145.9 450.0C146.0 450.5 146.0 451.0 146.1 451.5C146.1 452.0 146.0 452.5 146.0 453.0Z"/><clipPath id="lv454"><use href="#a454"/><use href="#b454"/></clipPath></defs>
<g fill="none" stroke="#2a2a2a" stroke-width="1.3"><use href="#a454"/><use href="#b454"/></g>
<g fill="#828282"><use href="#a454"/><use href="#b454"/></g>
<rect x="130.18" y="442.88" width="32.66" height="24.64" fill="url(#gL)" clip-path="url(#lv454)"/>
<use href="#b454" fill="none" stroke="#000" stroke-opacity="0.18" stroke-width="0.8" clip-path="url(#lv454)"/>
<circle cx="143.44" cy="458.25" r="0.45" fill="#dadada"/>
<circle cx="148.88" cy="454.01" r="0.45" fill="#dadada"/>
<circle cx="142.81" cy="456.21" r="0.45" fill="#dadada"/>
<circle cx="148.87" cy="453.30" r="0.45" fill="#dadada"/>
<circle cx="153.92" cy="454.03" r="0.45" fill="#dadada"/>
<circle cx="139.42" cy="454.06" r="0.45" fill="#dadada"/>
<circle cx="153.47" cy="457.04" r="0.45" fill="#dadada"/>
<circle cx="153.03" cy="460.70" r="0.45" fill="#dadada"/>
<circle cx="152.54" cy="456.50" r="0.45" fill="#dadada"/>
<path d="M160.6 455.8C160.6 456.6 160.1 457.4 159.7 458.2C159.3 458.9 158.7 459.5 158.2 460.2C157.7 460.8 157.3 461.4 156.8 462.0C156.3 462.6 155.8 463.3 155.2 463.8C154.6 464.2 153.8 464.6 153.1 464.8C152.3 465.1 151.5 465.1 150.7 465.2C149.9 465.3 149.2 465.4 148.4 465.5C147.6 465.7 146.7 465.9 145.9 465.9C145.0 465.9 144.1 465.9 143.3 465.5C142.5 465.2 141.9 464.6 141.3 464.0C140.8 463.4 140.4 462.6 140.0 462.0C139.6 461.3 139.2 460.7 138.7 460.1C138.3 459.4 137.7 458.8 137.4 458.1C137.1 457.4 136.9 456.5 136.8 455.8C136.8 455.0 137.0 454.2 137.3 453.4C137.5 452.7 137.9 451.9 138.2 451.2C138.6 450.5 138.9 449.8 139.4 449.1C139.9 448.5 140.5 447.8 141.2 447.4C141.9 447.0 142.8 446.8 143.6 446.6C144.4 446.5 145.3 446.6 146.1 446.5C146.9 446.4 147.6 446.3 148.4 446.1C149.1 446.0 150.0 445.7 150.8 445.7C151.7 445.7 152.6 445.8 153.3 446.1C154.1 446.5 154.7 447.2 155.2 447.8C155.7 448.4 156.0 449.1 156.5 449.7C157.0 450.3 157.5 450.8 158.1 451.4C158.6 452.0 159.4 452.6 159.8 453.3C160.3 454.0 160.6 455.0 160.6 455.8Z" fill="#8a0000" opacity="0.85"/>
<path d="M146.0 453.0C145.9 453.4 145.9 453.9 145.8 454.3C145.7 454.8 145.6 455.3 145.5 455.7C145.3 456.2 145.1 456.7 144.9 457.1C144.7 457.6 144.4 458.1 144.0 458.4C143.7 458.8 143.2 459.2 142.7 459.5C142.2 459.8 141.7 459.9 141.1 460.0C140.5 460.0 139.9 459.9 139.4 459.8C138.9 459.7 138.4 459.5 137.9 459.3C137.4 459.2 136.9 459.0 136.4 458.9C135.9 458.7 135.4 458.6 134.9 458.3C134.4 458.0 134.0 457.7 133.6 457.3C133.3 456.9 133.0 456.4 132.9 455.9C132.7 455.5 132.7 454.9 132.7 454.4C132.7 453.9 132.8 453.4 132.9 453.0C133.0 452.5 133.0 452.1 133.1 451.6C133.2 451.1 133.2 450.7 133.3 450.2C133.4 449.7 133.5 449.2 133.7 448.7C134.0 448.2 134.3 447.7 134.7 447.3C135.1 447.0 135.6 446.6 136.1 446.5C136.6 446.3 137.2 446.2 137.8 446.2C138.3 446.2 138.9 446.3 139.4 446.4C139.9 446.5 140.4 446.5 140.9 446.6C141.4 446.7 142.0 446.8 142.5 446.9C143.0 447.0 143.6 447.2 144.0 447.5C144.5 447.7 145.0 448.1 145.3 448.5C145.6 449.0 145.8 449.5 145.9 450.0C146.0 450.5 146.0 451.0 146.1 451.5C146.1 452.0 146.0 452.5 146.0 453.0Z" fill="#8a0000" opacity="0.85"/>
<circle cx="140.90" cy="460.43" r="0.7" fill="#707070"/>
<circle cx="145.55" cy="452.30" r="0.7" fill="#707070"/>
<circle cx="145.96" cy="451.80" r="0.7" fill="#707070"/>
<circle cx="147.55" cy="460.47" r="0.7" fill="#707070"/>
<circle cx="144.45" cy="458.49" r="0.7" fill="#707070"/>
<circle cx="148.82" cy="456.78" r="0.7" fill="#707070"/>
<circle cx="140.99" cy="458.31" r="0.7" fill="#707070"/>
<circle cx="149.46" cy="452.93" r="0.7" fill="#707070"/>
<ellipse cx="151.48" cy="455.20" rx="2.5" ry="2" fill="#909090"/>
<path d="M166.2 425.0C166.1 425.3 165.9 425.6 165.8 425.9C165.8 426.2 165.9 426.5 166.0 426.9C166.1 427.3 166.4 427.8 166.5 428.3C166.6 428.7 166.6 429.3 166.5 429.6C166.3 430.0 165.9 430.3 165.6 430.5C165.3 430.8 164.9 430.9 164.5 431.1C164.2 431.3 163.9 431.6 163.6 431.8C163.2 432.0 162.8 432.2 162.5 432.3C162.1 432.3 161.6 432.2 161.2 432.0C160.8 431.9 160.4 431.5 160.1 431.3C159.8 431.2 159.5 431.1 159.1 431.0C158.8 431.0 158.4 431.2 158.1 431.2C157.7 431.2 157.3 431.2 157.0 431.1C156.7 431.0 156.4 430.7 156.1 430.5C155.8 430.3 155.6 430.0 155.4 429.7C155.1 429.5 154.8 429.3 154.5 429.1C154.2 428.8 153.8 428.6 153.6 428.3C153.4 428.0 153.2 427.6 153.1 427.3C153.0 426.9 153.1 426.5 153.0 426.1C153.0 425.7 152.9 425.4 152.9 425.0C152.8 424.6 152.7 424.2 152.8 423.8C152.8 423.5 152.9 423.1 153.1 422.7C153.3 422.4 153.6 422.1 153.9 421.8C154.2 421.6 154.5 421.4 154.7 421.1C155.0 420.8 155.2 420.6 155.4 420.3C155.6 420.0 155.8 419.7 156.1 419.4C156.3 419.2 156.6 419.0 156.9 418.8C157.2 418.6 157.6 418.4 157.9 418.3C158.3 418.2 158.6 418.0 159.0 418.0C159.4 418.0 159.7 418.0 160.1 418.1C160.5 418.2 160.8 418.4 161.1 418.5C161.5 418.7 161.7 418.8 162.1 418.9C162.4 419.0 162.8 418.9 163.2 418.9C163.6 418.8 164.2 418.7 164.6 418.8C165.0 418.9 165.5 419.1 165.8 419.3C166.0 419.6 166.2 420.1 166.3 420.5C166.4 420.9 166.4 421.4 166.4 421.8C166.5 422.2 166.6 422.5 166.6 422.9C166.7 423.2 166.7 423.6 166.6 424.0C166.6 424.3 166.4 424.7 166.2 425.0Z" fill="url(#gR)" stroke="#a00000" stroke-width="0.7"/>
<ellipse cx="126.50" cy="487.00" rx="3.5" ry="5" fill="url(#gK)" stroke="#303030" stroke-width="0.6"/>
<ellipse cx="159.20" cy="486.20" rx="3.8" ry="5.5" fill="url(#gK)" stroke="#303030" stroke-width="0.6" transform="rotate(-10 159.20 486.20)"/>
<ellipse cx="143.70" cy="483.60" rx="2" ry="7.5" fill="url(#gK)" stroke="#333" stroke-width="0.5" transform="rotate(25 143.70 483.60)"/>
<rect x="174.20" y="410.30" width="55.80" height="84.50" fill="#7c7c7c"/>
<ellipse cx="188.90" cy="424.20" rx="3.5" ry="4" fill="url(#gH)" stroke="#404040" stroke-width="0.5"/>
<defs><path id="a465" d="M217.7 452.3C218.0 453.2 218.5 454.2 218.4 455.1C218.4 456.0 218.2 457.0 217.6 457.8C217.1 458.7 216.1 459.4 215.3 460.0C214.4 460.5 213.3 460.9 212.3 461.4C211.3 461.8 210.4 462.2 209.5 462.6C208.5 463.1 207.6 463.6 206.5 464.0C205.5 464.3 204.3 464.7 203.2 464.8C202.0 464.9 200.8 464.9 199.6 464.6C198.5 464.4 197.4 464.0 196.4 463.5C195.4 463.1 194.4 462.5 193.5 461.9C192.7 461.3 191.8 460.7 191.1 459.9C190.5 459.2 189.9 458.4 189.5 457.6C189.1 456.7 188.8 455.8 188.7 455.0C188.6 454.1 188.7 453.2 188.8 452.3C188.9 451.5 189.1 450.7 189.4 449.9C189.6 449.0 190.0 448.2 190.4 447.5C190.8 446.7 191.3 446.0 191.9 445.2C192.5 444.5 193.2 443.8 193.9 443.2C194.7 442.5 195.6 441.9 196.5 441.4C197.5 440.8 198.5 440.3 199.6 440.0C200.7 439.7 202.0 439.4 203.2 439.4C204.4 439.3 205.7 439.4 206.8 439.7C208.0 439.9 209.2 440.4 210.2 440.9C211.2 441.4 212.1 442.1 212.8 442.8C213.5 443.6 214.0 444.4 214.5 445.2C214.9 446.0 215.1 446.9 215.5 447.7C215.8 448.5 216.1 449.2 216.5 450.0C216.9 450.7 217.4 451.5 217.7 452.3Z"/><path id="b465" d="M200.6 449.1C200.6 449.7 200.5 450.3 200.3 450.8C200.2 451.4 200.0 452.0 199.7 452.5C199.5 453.0 199.1 453.6 198.7 454.1C198.3 454.5 197.7 454.9 197.1 455.3C196.5 455.6 195.8 455.8 195.2 456.1C194.5 456.4 193.9 456.6 193.2 456.9C192.5 457.2 191.8 457.6 191.0 457.8C190.2 457.9 189.2 458.1 188.5 457.9C187.7 457.7 187.0 457.1 186.5 456.6C186.0 456.0 185.9 455.1 185.6 454.5C185.4 453.9 185.4 453.3 185.1 452.9C184.8 452.4 184.3 452.3 183.7 451.9C183.2 451.6 182.3 451.2 181.8 450.8C181.4 450.3 181.0 449.7 180.9 449.1C180.8 448.5 181.1 447.9 181.3 447.3C181.4 446.7 181.8 446.2 182.0 445.6C182.2 445.0 182.4 444.4 182.7 443.8C183.0 443.2 183.4 442.5 184.0 442.1C184.6 441.7 185.5 441.4 186.3 441.3C187.1 441.2 188.0 441.4 188.8 441.5C189.6 441.6 190.3 441.9 191.0 442.0C191.7 442.1 192.3 442.1 192.9 442.1C193.6 442.2 194.4 442.2 195.0 442.3C195.7 442.5 196.4 442.8 196.9 443.1C197.5 443.4 198.0 443.9 198.4 444.3C198.8 444.8 199.2 445.3 199.5 445.8C199.9 446.3 200.2 446.8 200.4 447.4C200.5 447.9 200.6 448.5 200.6 449.1Z"/><clipPath id="lv465"><use href="#a465"/><use href="#b465"/></clipPath></defs>
<g fill="none" stroke="#2a2a2a" stroke-width="1.3"><use href="#a465"/><use href="#b465"/></g>
<g fill="#7c7c7c"><use href="#a465"/><use href="#b465"/></g>
<rect x="178.36" y="437.40" width="44.62" height="28.60" fill="url(#gL)" clip-path="url(#lv465)"/>
<use href="#b465" fill="none" stroke="#000" stroke-opacity="0.18" stroke-width="0.8" clip-path="url(#lv465)"/>
<circle cx="194.09" cy="449.09" r="0.45" fill="#dadada"/>
<circle cx="207.77" cy="446.82" r="0.45" fill="#dadada"/>
<circle cx="194.85" cy="452.97" r="0.45" fill="#dadada"/>
<circle cx="205.25" cy="457.89" r="0.45" fill="#dadada"/>
<circle cx="198.40" cy="450.36" r="0.45" fill="#dadada"/>
<circle cx="207.79" cy="456.57" r="0.45" fill="#dadada"/>
<circle cx="195.19" cy="452.53" r="0.45" fill="#dadada"/>
<circle cx="199.25" cy="453.83" r="0.45" fill="#dadada"/>
<circle cx="210.26" cy="447.09" r="0.45" fill="#dadada"/>
<path d="M225.2 421.2C225.1 421.6 224.7 421.9 224.5 422.3C224.3 422.6 224.3 423.0 224.1 423.3C223.9 423.6 223.7 424.0 223.2 424.2C222.8 424.4 221.9 424.4 221.3 424.5C220.7 424.6 219.9 424.5 219.6 424.7C219.3 424.9 219.4 425.3 219.3 425.8C219.2 426.2 219.3 427.0 219.0 427.3C218.7 427.6 218.1 427.8 217.6 427.8C217.0 427.8 216.3 427.4 215.7 427.2C215.2 427.0 214.8 426.9 214.3 426.8C213.8 426.8 213.4 426.9 212.9 426.9C212.5 426.9 212.0 426.8 211.5 426.8C211.1 426.7 210.7 426.6 210.1 426.6C209.5 426.7 208.7 426.9 207.9 427.0C207.0 427.1 205.9 427.3 205.2 427.2C204.5 427.0 204.0 426.6 203.9 426.2C203.7 425.7 204.2 425.0 204.3 424.5C204.4 424.1 204.6 423.7 204.5 423.3C204.5 422.9 204.0 422.6 203.9 422.3C203.8 421.9 203.7 421.5 203.9 421.2C204.1 420.9 204.8 420.5 205.2 420.3C205.6 420.0 206.2 419.8 206.5 419.5C206.9 419.3 207.1 419.1 207.3 418.9C207.5 418.6 207.7 418.4 207.9 418.1C208.0 417.9 208.2 417.6 208.3 417.3C208.4 416.9 208.4 416.4 208.6 416.0C208.8 415.6 209.0 415.1 209.4 414.9C209.8 414.6 210.4 414.5 211.0 414.5C211.5 414.4 212.2 414.6 212.7 414.6C213.3 414.6 213.8 414.5 214.3 414.4C214.8 414.3 215.5 414.2 216.0 414.2C216.5 414.3 217.0 414.6 217.4 414.9C217.8 415.2 218.0 415.7 218.4 416.0C218.7 416.2 219.1 416.3 219.6 416.4C220.1 416.5 220.8 416.5 221.3 416.6C221.8 416.7 222.3 417.0 222.7 417.2C223.0 417.5 223.2 417.8 223.5 418.1C223.8 418.4 224.2 418.7 224.5 419.0C224.9 419.3 225.3 419.7 225.4 420.0C225.5 420.4 225.4 420.8 225.2 421.2Z" fill="url(#gD)" stroke="#e8e8e8" stroke-width="0.9"/>
<ellipse cx="216.30" cy="422.20" rx="1.5" ry="1.3" fill="#f0f0f0"/>
<ellipse cx="182.00" cy="483.60" rx="3.3" ry="5" fill="url(#gK)" stroke="#303030" stroke-width="0.6"/>
<ellipse cx="214.80" cy="481.00" rx="3.8" ry="6" fill="url(#gK)" stroke="#303030" stroke-width="0.6" transform="rotate(-10 214.80 481.00)"/>
<ellipse cx="199.30" cy="481.90" rx="2" ry="7" fill="url(#gK)" stroke="#333" stroke-width="0.5" transform="rotate(15 199.30 481.90)"/>
<rect x="233.10" y="410.30" width="55.80" height="84.50" fill="#5e5e5e"/>
<ellipse cx="242.10" cy="423.30" rx="5.5" ry="3.5" fill="url(#gH)" stroke="#404040" stroke-width="0.5"/>
<defs><path id="a476" d="M270.9 450.6C270.9 451.5 270.9 452.3 270.8 453.2C270.6 454.0 270.4 454.9 270.1 455.7C269.7 456.5 269.3 457.3 268.8 458.1C268.3 458.8 267.7 459.6 266.9 460.2C266.2 460.8 265.3 461.2 264.3 461.6C263.4 462.0 262.4 462.1 261.5 462.3C260.5 462.5 259.5 462.6 258.5 462.6C257.5 462.7 256.5 462.7 255.5 462.6C254.5 462.4 253.5 462.2 252.6 461.7C251.8 461.3 251.1 460.5 250.5 459.8C249.9 459.1 249.5 458.2 249.1 457.5C248.6 456.7 248.2 456.1 247.7 455.4C247.2 454.7 246.5 454.0 246.0 453.2C245.6 452.4 245.0 451.5 244.8 450.6C244.6 449.7 244.7 448.7 244.9 447.8C245.1 446.9 245.6 446.0 246.1 445.2C246.6 444.4 247.2 443.7 247.9 443.0C248.6 442.3 249.3 441.6 250.2 441.2C251.0 440.7 252.0 440.4 253.0 440.2C253.9 440.0 254.9 440.1 255.9 440.1C256.8 440.1 257.6 440.2 258.5 440.1C259.4 440.0 260.3 439.7 261.3 439.5C262.3 439.4 263.5 439.1 264.6 439.2C265.6 439.4 266.8 439.7 267.6 440.3C268.5 440.9 269.1 441.8 269.6 442.7C270.0 443.5 270.1 444.6 270.3 445.5C270.5 446.4 270.6 447.3 270.7 448.1C270.8 449.0 270.9 449.8 270.9 450.6Z"/><path id="b476" d="M256.5 447.4C256.4 448.0 256.0 448.6 255.7 449.0C255.4 449.5 254.9 449.9 254.6 450.4C254.4 450.9 254.2 451.3 254.0 451.9C253.8 452.4 253.7 453.1 253.4 453.7C253.0 454.2 252.6 454.9 252.0 455.2C251.5 455.5 250.7 455.7 250.0 455.7C249.3 455.7 248.6 455.4 247.9 455.2C247.3 455.0 246.8 454.7 246.2 454.5C245.6 454.3 245.0 454.2 244.5 454.0C243.9 453.9 243.3 453.7 242.8 453.4C242.3 453.1 241.8 452.7 241.4 452.2C241.0 451.8 240.7 451.3 240.3 450.8C240.0 450.3 239.7 449.7 239.6 449.2C239.4 448.6 239.3 448.0 239.3 447.4C239.3 446.8 239.5 446.2 239.8 445.7C240.0 445.2 240.4 444.7 240.7 444.2C241.0 443.7 241.3 443.2 241.6 442.7C241.9 442.2 242.2 441.7 242.6 441.2C243.0 440.8 243.5 440.3 244.1 440.0C244.7 439.8 245.4 439.7 246.0 439.7C246.7 439.7 247.3 439.8 247.9 439.9C248.6 440.0 249.1 440.2 249.7 440.3C250.3 440.4 250.9 440.5 251.5 440.6C252.1 440.8 252.7 441.0 253.2 441.3C253.8 441.6 254.3 442.0 254.7 442.5C255.1 442.9 255.5 443.4 255.8 443.9C256.1 444.4 256.4 445.0 256.6 445.6C256.7 446.2 256.7 446.8 256.5 447.4Z"/><clipPath id="lv476"><use href="#a476"/><use href="#b476"/></clipPath></defs>
<g fill="none" stroke="#2a2a2a" stroke-width="1.3"><use href="#a476"/><use href="#b476"/></g>
<g fill="#5e5e5e"><use href="#a476"/><use href="#b476"/></g>
<rect x="237.02" y="435.81" width="38.64" height="28.38" fill="url(#gL)" clip-path="url(#lv476)"/>
<use href="#b476" fill="none" stroke="#000" stroke-opacity="0.18" stroke-width="0.8" clip-path="url(#lv476)"/>
<circle cx="256.30" cy="451.72" r="0.45" fill="#dadada"/>
<circle cx="264.92" cy="451.75" r="0.45" fill="#dadada"/>
<circle cx="262.78" cy="455.01" r="0.45" fill="#dadada"/>
<circle cx="260.16" cy="454.58" r="0.45" fill="#dadada"/>
<circle cx="251.44" cy="453.29" r="0.45" fill="#dadada"/>
<circle cx="262.49" cy="453.46" r="0.45" fill="#dadada"/>
<circle cx="249.50" cy="449.76" r="0.45" fill="#dadada"/>
<circle cx="250.84" cy="445.59" r="0.45" fill="#dadada"/>
<circle cx="252.34" cy="449.06" r="0.45" fill="#dadada"/>
<path d="M280.1 421.6C280.3 422.0 280.3 422.4 280.3 422.8C280.2 423.2 279.9 423.6 279.7 424.0C279.5 424.4 279.3 424.7 279.1 425.1C278.9 425.5 278.9 425.9 278.6 426.3C278.4 426.6 278.2 427.0 277.8 427.2C277.4 427.5 276.9 427.6 276.4 427.6C275.9 427.7 275.3 427.7 274.9 427.7C274.4 427.6 274.0 427.6 273.6 427.6C273.2 427.6 272.8 427.5 272.4 427.4C272.1 427.3 271.7 427.1 271.4 427.0C271.1 426.9 270.8 426.8 270.5 426.8C270.1 426.8 269.8 427.0 269.4 427.1C269.0 427.2 268.5 427.3 268.1 427.2C267.8 427.2 267.4 427.0 267.1 426.8C266.8 426.6 266.6 426.3 266.3 426.1C266.0 425.9 265.8 425.7 265.4 425.5C265.0 425.3 264.6 425.1 264.1 424.9C263.7 424.7 263.2 424.4 262.7 424.1C262.3 423.8 261.9 423.4 261.6 423.0C261.4 422.6 261.2 422.1 261.2 421.6C261.2 421.1 261.5 420.6 261.8 420.3C262.2 419.9 262.9 419.6 263.4 419.3C263.9 419.0 264.5 418.9 264.9 418.7C265.3 418.5 265.7 418.3 265.9 418.1C266.2 417.9 266.4 417.6 266.6 417.4C266.9 417.1 267.1 416.9 267.3 416.6C267.5 416.3 267.7 415.9 268.0 415.6C268.2 415.3 268.5 414.9 268.9 414.7C269.2 414.5 269.7 414.3 270.1 414.4C270.5 414.5 271.0 414.9 271.4 415.2C271.8 415.4 272.1 415.9 272.4 416.1C272.7 416.3 273.0 416.3 273.4 416.2C273.8 416.2 274.3 415.8 274.8 415.7C275.3 415.6 275.9 415.5 276.3 415.6C276.8 415.7 277.2 416.0 277.4 416.3C277.6 416.6 277.7 417.1 277.7 417.5C277.8 417.9 277.7 418.4 277.8 418.7C277.8 419.1 277.9 419.4 278.1 419.7C278.3 420.0 278.7 420.2 279.1 420.5C279.4 420.8 279.9 421.2 280.1 421.6Z" fill="url(#gW)" stroke="#9a9a9a" stroke-width="0.5"/>
<ellipse cx="241.30" cy="482.70" rx="4" ry="5.5" fill="url(#gK)" stroke="#303030" stroke-width="0.6" transform="rotate(-15 241.30 482.70)"/>
<ellipse cx="280.00" cy="479.30" rx="4" ry="5.5" fill="url(#gK)" stroke="#303030" stroke-width="0.6" transform="rotate(-20 280.00 479.30)"/>
<ellipse cx="260.20" cy="479.30" rx="2.2" ry="7.5" fill="url(#gK)" stroke="#333" stroke-width="0.5" transform="rotate(-15 260.20 479.30)"/>
<rect x="292.70" y="411.50" width="2.20" height="82.30" fill="url(#cbar)"/>
<text x="300.80" y="421.60" font-size="10.6" fill="#111" textLength="5.6" lengthAdjust="spacingAndGlyphs">4</text>
<text x="298.80" y="456.60" font-size="10.2" fill="#111" textLength="20.6" lengthAdjust="spacingAndGlyphs">x10<tspan dy="-4" font-size="6.6">6</tspan></text>
<text x="298.20" y="492.40" font-size="10.6" fill="#111" textLength="14.4" lengthAdjust="spacingAndGlyphs">0.4</text>
<text x="16.50" y="544.30" font-size="10.4" textLength="34.1" lengthAdjust="spacingAndGlyphs">MVL-5</text>
<rect x="55.00" y="500.00" width="55.80" height="84.50" fill="#828282"/>
<ellipse cx="65.20" cy="515.00" rx="4" ry="4.5" fill="url(#gH)" stroke="#404040" stroke-width="0.5"/>
<path d="M96.0 541.4C95.9 542.2 95.5 543.1 95.2 543.8C94.9 544.6 94.4 545.3 94.0 546.0C93.6 546.7 93.3 547.5 92.9 548.2C92.4 548.9 92.0 549.6 91.4 550.2C90.7 550.8 89.9 551.3 89.1 551.7C88.3 552.0 87.4 552.2 86.6 552.4C85.7 552.6 84.8 552.8 83.9 552.9C83.0 553.0 82.0 553.2 81.1 553.0C80.2 552.9 79.2 552.6 78.5 552.1C77.7 551.5 77.2 550.7 76.7 549.9C76.3 549.2 76.1 548.3 75.7 547.5C75.4 546.8 75.1 546.3 74.6 545.6C74.2 545.0 73.5 544.4 73.0 543.7C72.6 543.0 72.1 542.2 71.9 541.4C71.8 540.6 71.9 539.7 72.2 538.9C72.4 538.1 73.0 537.3 73.4 536.6C73.9 535.9 74.4 535.3 75.0 534.7C75.5 534.0 76.0 533.4 76.6 532.8C77.2 532.2 77.9 531.6 78.6 531.1C79.4 530.6 80.3 530.2 81.1 530.0C82.0 529.7 83.0 529.5 83.9 529.5C84.8 529.5 85.8 529.6 86.7 529.9C87.5 530.2 88.3 530.8 89.0 531.4C89.7 532.0 90.2 532.8 90.7 533.4C91.2 534.0 91.6 534.7 92.1 535.2C92.6 535.8 93.3 536.3 93.8 536.9C94.4 537.5 95.1 538.2 95.5 538.9C95.8 539.7 96.0 540.6 96.0 541.4Z" fill="url(#gO)" stroke="#700000" stroke-width="0.8"/>
<path d="M81.8 538.4C81.7 538.9 81.6 539.4 81.4 539.9C81.3 540.4 81.0 540.9 80.8 541.3C80.6 541.8 80.3 542.2 80.0 542.7C79.8 543.1 79.5 543.6 79.2 544.1C78.8 544.5 78.5 545.1 78.0 545.4C77.5 545.8 76.9 546.0 76.3 546.1C75.7 546.2 75.0 546.0 74.5 545.8C73.9 545.6 73.4 545.2 72.9 544.9C72.4 544.7 72.0 544.5 71.5 544.3C71.0 544.1 70.4 544.1 69.8 543.9C69.3 543.8 68.6 543.6 68.2 543.2C67.7 542.8 67.3 542.3 67.1 541.8C66.9 541.3 66.9 540.6 66.9 540.0C66.9 539.5 67.1 538.9 67.2 538.4C67.3 537.9 67.4 537.4 67.5 536.9C67.7 536.4 67.9 535.9 68.1 535.5C68.3 535.0 68.6 534.6 68.9 534.2C69.2 533.7 69.5 533.3 69.9 532.9C70.2 532.5 70.6 532.0 71.1 531.7C71.5 531.3 72.1 531.0 72.7 530.8C73.2 530.7 73.9 530.7 74.5 530.8C75.0 530.9 75.6 531.1 76.1 531.4C76.6 531.6 77.1 531.9 77.6 532.1C78.1 532.4 78.6 532.6 79.1 532.9C79.5 533.1 80.0 533.4 80.4 533.8C80.8 534.2 81.2 534.7 81.4 535.2C81.6 535.7 81.8 536.3 81.8 536.8C81.9 537.3 81.8 537.9 81.8 538.4Z" fill="url(#gO)" stroke="#700000" stroke-width="0.8"/>
<path d="M79.1 545.0C79.0 545.3 78.7 545.6 78.5 545.9C78.3 546.2 78.0 546.4 77.8 546.6C77.6 546.9 77.5 547.2 77.3 547.4C77.1 547.7 77.0 548.1 76.7 548.3C76.4 548.5 76.0 548.7 75.6 548.8C75.1 548.9 74.6 548.8 74.2 548.9C73.8 548.9 73.4 548.8 73.0 548.8C72.5 548.8 72.1 548.9 71.7 548.9C71.2 548.9 70.7 549.0 70.2 549.0C69.7 549.0 69.1 548.9 68.7 548.7C68.3 548.6 67.9 548.3 67.6 548.0C67.3 547.7 67.1 547.3 67.0 547.0C66.9 546.7 67.0 546.3 67.0 545.9C67.1 545.6 67.2 545.3 67.3 545.0C67.4 544.7 67.5 544.4 67.6 544.1C67.6 543.8 67.6 543.5 67.7 543.2C67.8 542.9 67.9 542.6 68.2 542.3C68.4 542.1 68.8 541.9 69.2 541.7C69.6 541.6 70.1 541.6 70.6 541.5C71.0 541.5 71.4 541.5 71.8 541.4C72.2 541.3 72.5 541.2 73.0 541.1C73.4 541.0 73.9 540.7 74.4 540.7C74.8 540.6 75.4 540.7 75.8 540.8C76.3 540.9 76.7 541.2 77.0 541.4C77.3 541.7 77.6 542.0 77.8 542.3C78.1 542.5 78.4 542.8 78.6 543.1C78.8 543.4 79.1 543.7 79.2 544.0C79.3 544.3 79.3 544.7 79.1 545.0Z" fill="#ffe030"/>
<ellipse cx="79.70" cy="539.80" rx="1.6" ry="1.4" fill="#700000"/>
<path d="M99.3 509.0C99.5 509.4 99.6 509.9 99.6 510.4C99.6 510.8 99.5 511.3 99.3 511.7C99.2 512.1 99.0 512.5 98.8 512.8C98.5 513.2 98.3 513.5 98.0 513.8C97.7 514.1 97.3 514.3 97.1 514.5C96.8 514.8 96.6 515.1 96.4 515.5C96.1 515.8 95.9 516.3 95.6 516.5C95.3 516.7 94.9 516.9 94.6 516.9C94.2 516.8 93.7 516.5 93.4 516.3C93.0 516.1 92.7 515.9 92.4 515.8C92.1 515.8 91.8 516.0 91.4 516.1C91.1 516.2 90.7 516.5 90.4 516.4C90.0 516.4 89.7 516.1 89.5 515.8C89.2 515.5 89.1 515.1 88.9 514.8C88.7 514.5 88.4 514.2 88.2 514.0C87.9 513.7 87.6 513.6 87.4 513.3C87.1 513.1 86.9 512.8 86.7 512.4C86.5 512.1 86.3 511.8 86.2 511.4C86.0 511.0 85.8 510.7 85.7 510.3C85.6 509.9 85.5 509.4 85.6 509.0C85.6 508.6 85.8 508.2 86.0 507.8C86.1 507.4 86.3 507.1 86.3 506.7C86.4 506.3 86.3 505.8 86.4 505.4C86.5 505.0 86.5 504.4 86.8 504.1C87.0 503.8 87.4 503.7 87.8 503.5C88.2 503.4 88.6 503.5 88.9 503.4C89.3 503.2 89.5 503.0 89.7 502.7C89.9 502.3 90.0 501.7 90.3 501.3C90.5 500.9 90.9 500.4 91.2 500.2C91.6 500.0 92.0 500.0 92.4 500.1C92.8 500.2 93.2 500.6 93.5 500.9C93.8 501.2 94.1 501.6 94.4 501.9C94.6 502.2 94.9 502.4 95.1 502.6C95.4 502.8 95.7 502.9 96.0 503.1C96.3 503.3 96.7 503.4 96.9 503.7C97.1 504.0 97.2 504.4 97.2 504.8C97.3 505.2 97.1 505.8 97.1 506.1C97.2 506.5 97.2 506.8 97.4 507.1C97.6 507.4 98.0 507.6 98.3 507.9C98.6 508.2 99.1 508.6 99.3 509.0Z" fill="url(#gR)" stroke="#a00000" stroke-width="0.7"/>
<ellipse cx="92.40" cy="510.00" rx="2.2" ry="3" fill="#d00000"/>
<ellipse cx="64.30" cy="575.30" rx="3.5" ry="5.5" fill="url(#gK)" stroke="#303030" stroke-width="0.6"/>
<ellipse cx="102.20" cy="568.40" rx="4.2" ry="6" fill="url(#gK)" stroke="#303030" stroke-width="0.6" transform="rotate(-10 102.20 568.40)"/>
<ellipse cx="85.90" cy="571.90" rx="2.8" ry="10" fill="url(#gO)" stroke="#800000" stroke-width="0.5"/>
<defs><linearGradient id="tg41" x1="0" y1="0" x2="0" y2="1"><stop offset="0" stop-color="#646464"/><stop offset="1" stop-color="#7c7c7c"/></linearGradient></defs>
<rect x="114.60" y="500.00" width="55.80" height="84.50" fill="url(#tg41)"/>
<ellipse cx="126.40" cy="511.60" rx="3.5" ry="4" fill="url(#gH)" stroke="#404040" stroke-width="0.5"/>
<defs><path id="a498" d="M157.4 539.6C157.5 540.3 157.4 541.2 157.1 541.8C156.8 542.5 156.1 543.1 155.6 543.7C155.1 544.3 154.5 544.7 154.0 545.3C153.5 545.9 153.2 546.5 152.6 547.1C152.1 547.7 151.5 548.4 150.7 548.7C150.0 549.1 149.0 549.3 148.1 549.3C147.2 549.3 146.3 548.9 145.4 548.7C144.6 548.5 143.9 548.2 143.1 548.1C142.3 547.9 141.5 547.9 140.7 547.8C139.9 547.6 138.9 547.5 138.2 547.2C137.4 546.9 136.7 546.3 136.2 545.8C135.6 545.2 135.4 544.4 135.1 543.8C134.8 543.1 134.6 542.4 134.4 541.7C134.2 541.0 134.0 540.3 133.9 539.6C133.8 538.9 133.8 538.1 134.0 537.4C134.2 536.8 134.6 536.1 135.0 535.4C135.5 534.8 136.1 534.3 136.7 533.8C137.3 533.3 137.9 532.9 138.6 532.5C139.3 532.1 139.9 531.7 140.7 531.4C141.4 531.1 142.2 530.8 143.0 530.6C143.7 530.4 144.6 530.2 145.4 530.0C146.3 529.9 147.2 529.8 148.1 529.8C149.0 529.9 150.0 530.1 150.7 530.4C151.5 530.8 152.2 531.4 152.7 532.0C153.2 532.6 153.4 533.4 153.8 534.1C154.1 534.7 154.4 535.3 154.8 535.9C155.2 536.5 155.8 536.9 156.2 537.6C156.7 538.2 157.2 538.9 157.4 539.6Z"/><path id="b498" d="M144.1 537.0C144.1 537.5 144.2 538.1 144.1 538.6C143.9 539.0 143.6 539.5 143.2 539.9C142.8 540.2 142.1 540.5 141.6 540.7C141.1 540.9 140.5 540.9 140.1 541.2C139.7 541.4 139.4 541.7 139.0 542.0C138.6 542.3 138.3 542.7 137.8 542.9C137.4 543.2 136.8 543.3 136.2 543.3C135.7 543.3 135.1 543.1 134.6 542.9C134.1 542.8 133.7 542.5 133.2 542.3C132.7 542.2 132.2 542.1 131.6 541.9C131.1 541.7 130.4 541.6 130.0 541.3C129.5 540.9 129.2 540.5 129.0 540.0C128.8 539.5 128.8 539.0 128.8 538.5C128.8 538.0 128.9 537.5 128.9 537.0C129.0 536.6 128.9 536.1 129.0 535.6C129.1 535.2 129.3 534.7 129.6 534.3C129.8 533.9 130.3 533.6 130.7 533.3C131.1 533.0 131.6 532.8 132.0 532.5C132.4 532.3 132.8 532.0 133.2 531.7C133.6 531.5 134.1 531.1 134.6 531.0C135.1 530.8 135.7 530.8 136.2 530.8C136.8 530.9 137.3 531.1 137.8 531.3C138.3 531.5 138.7 531.7 139.2 531.9C139.6 532.1 140.2 532.2 140.7 532.3C141.2 532.5 141.8 532.7 142.2 533.0C142.6 533.3 143.0 533.8 143.2 534.2C143.5 534.6 143.6 535.1 143.7 535.6C143.9 536.1 144.0 536.5 144.1 537.0Z"/><clipPath id="lv498"><use href="#a498"/><use href="#b498"/></clipPath></defs>
<g fill="none" stroke="#2a2a2a" stroke-width="1.3"><use href="#a498"/><use href="#b498"/></g>
<g fill="#707070"><use href="#a498"/><use href="#b498"/></g>
<rect x="126.74" y="527.77" width="33.58" height="22.66" fill="url(#gL)" clip-path="url(#lv498)"/>
<use href="#b498" fill="none" stroke="#000" stroke-opacity="0.18" stroke-width="0.8" clip-path="url(#lv498)"/>
<circle cx="143.24" cy="540.64" r="0.45" fill="#dadada"/>
<circle cx="139.48" cy="538.40" r="0.45" fill="#dadada"/>
<circle cx="141.62" cy="540.53" r="0.45" fill="#dadada"/>
<circle cx="150.61" cy="537.42" r="0.45" fill="#dadada"/>
<circle cx="148.85" cy="536.17" r="0.45" fill="#dadada"/>
<circle cx="145.33" cy="540.02" r="0.45" fill="#dadada"/>
<circle cx="142.73" cy="539.38" r="0.45" fill="#dadada"/>
<circle cx="141.29" cy="542.18" r="0.45" fill="#dadada"/>
<circle cx="138.02" cy="543.53" r="0.45" fill="#dadada"/>
<path d="M144.6 540.1C144.6 540.7 144.4 541.3 144.2 541.9C144.0 542.4 143.7 542.9 143.4 543.4C143.2 543.9 143.0 544.4 142.7 544.9C142.5 545.4 142.3 546.0 142.0 546.5C141.7 546.9 141.3 547.5 140.8 547.8C140.4 548.2 139.8 548.4 139.3 548.5C138.8 548.5 138.2 548.3 137.7 548.1C137.2 547.9 136.7 547.6 136.3 547.3C135.9 547.0 135.5 546.8 135.1 546.5C134.7 546.3 134.2 546.1 133.8 545.8C133.4 545.5 133.0 545.2 132.7 544.8C132.4 544.4 132.1 543.9 132.0 543.4C131.8 542.9 131.7 542.3 131.7 541.7C131.6 541.2 131.5 540.7 131.5 540.1C131.4 539.6 131.3 539.0 131.3 538.4C131.3 537.8 131.3 537.2 131.5 536.6C131.6 536.1 131.9 535.5 132.2 535.0C132.6 534.6 133.0 534.2 133.4 533.8C133.8 533.5 134.2 533.1 134.7 532.8C135.1 532.5 135.6 532.2 136.1 532.0C136.6 531.8 137.2 531.7 137.7 531.8C138.2 531.8 138.7 532.1 139.2 532.5C139.6 532.8 140.0 533.3 140.3 533.7C140.6 534.2 140.9 534.6 141.2 535.0C141.5 535.3 141.8 535.6 142.2 535.9C142.6 536.2 143.0 536.5 143.4 536.9C143.8 537.3 144.2 537.8 144.3 538.3C144.5 538.9 144.6 539.5 144.6 540.1Z" fill="#8a0000" opacity="0.9"/>
<path d="M157.3 510.3C157.4 510.6 157.6 510.9 157.8 511.3C158.1 511.6 158.6 512.1 158.8 512.6C159.0 513.0 159.2 513.6 159.1 514.0C159.0 514.4 158.5 514.6 158.2 514.9C158.0 515.3 157.6 515.5 157.3 515.8C157.0 516.1 156.9 516.6 156.6 516.9C156.2 517.2 155.8 517.4 155.3 517.5C154.9 517.5 154.3 517.1 153.8 517.1C153.4 517.0 153.0 516.8 152.6 517.0C152.2 517.1 151.9 517.7 151.5 518.0C151.1 518.3 150.5 518.8 150.1 518.8C149.6 518.8 149.2 518.4 148.8 518.2C148.4 517.9 148.2 517.4 147.8 517.1C147.5 516.8 147.0 516.8 146.6 516.6C146.2 516.5 145.7 516.4 145.5 516.0C145.2 515.7 145.2 515.1 145.3 514.6C145.4 514.1 145.8 513.4 146.0 513.0C146.1 512.5 146.3 512.2 146.3 511.9C146.2 511.6 146.0 511.4 145.8 511.1C145.7 510.9 145.4 510.6 145.1 510.3C144.8 510.0 144.4 509.6 144.1 509.2C143.7 508.8 143.2 508.2 143.1 507.7C143.1 507.3 143.2 506.8 143.6 506.5C144.0 506.2 144.9 506.2 145.4 506.1C146.0 506.0 146.5 506.1 146.8 505.9C147.1 505.6 147.0 505.1 147.1 504.6C147.3 504.1 147.3 503.3 147.5 502.9C147.8 502.5 148.3 502.3 148.7 502.2C149.2 502.1 149.7 502.3 150.2 502.3C150.6 502.3 151.1 502.2 151.5 502.2C151.9 502.2 152.4 502.2 152.8 502.4C153.2 502.5 153.6 502.9 153.9 503.2C154.3 503.5 154.5 503.9 154.9 504.1C155.2 504.2 155.7 504.2 156.1 504.3C156.5 504.4 157.1 504.4 157.5 504.7C157.8 504.9 158.0 505.4 158.0 505.8C158.1 506.2 157.9 506.8 157.8 507.2C157.8 507.7 157.7 508.1 157.6 508.4C157.5 508.8 157.5 509.1 157.4 509.4C157.4 509.7 157.2 510.0 157.3 510.3Z" fill="url(#gO)" stroke="#a00000" stroke-width="0.8"/>
<path d="M155.6 510.3C155.6 510.6 155.5 511.0 155.4 511.4C155.2 511.7 154.9 512.0 154.7 512.2C154.4 512.4 154.1 512.6 153.8 512.8C153.6 513.0 153.3 513.2 153.1 513.3C152.8 513.5 152.5 513.6 152.2 513.7C151.9 513.7 151.6 513.7 151.3 513.7C151.0 513.7 150.8 513.7 150.5 513.7C150.2 513.7 150.0 513.7 149.7 513.8C149.4 513.8 149.0 513.9 148.7 513.9C148.4 513.8 148.0 513.8 147.7 513.6C147.4 513.5 147.2 513.2 147.0 512.9C146.8 512.7 146.7 512.4 146.6 512.1C146.5 511.8 146.4 511.5 146.3 511.2C146.2 510.9 146.1 510.6 146.1 510.3C146.1 510.0 146.1 509.7 146.1 509.4C146.2 509.0 146.3 508.7 146.5 508.5C146.6 508.2 146.8 507.9 147.0 507.7C147.2 507.4 147.4 507.2 147.7 507.0C148.0 506.8 148.3 506.6 148.6 506.5C148.9 506.5 149.3 506.4 149.6 506.5C149.9 506.5 150.2 506.6 150.5 506.7C150.8 506.7 151.1 506.8 151.3 506.9C151.6 507.0 151.8 507.1 152.1 507.2C152.4 507.3 152.6 507.4 152.8 507.5C153.1 507.6 153.3 507.8 153.6 508.0C153.8 508.2 154.1 508.3 154.3 508.5C154.6 508.8 154.9 509.0 155.1 509.3C155.3 509.6 155.6 510.0 155.6 510.3Z" fill="#ffe030"/>
<ellipse cx="124.70" cy="569.30" rx="5" ry="7" fill="url(#gK)" stroke="#303030" stroke-width="0.6"/>
<ellipse cx="158.30" cy="566.70" rx="3.5" ry="5.5" fill="url(#gK)" stroke="#303030" stroke-width="0.6"/>
<ellipse cx="142.80" cy="566.70" rx="3" ry="7" fill="url(#gR)" stroke="#800000" stroke-width="0.5" transform="rotate(5 142.80 566.70)"/>
<rect x="174.20" y="500.00" width="55.80" height="84.50" fill="#7e7e7e"/>
<ellipse cx="186.30" cy="515.00" rx="3.5" ry="4" fill="url(#gH)" stroke="#404040" stroke-width="0.5"/>
<defs><path id="a509" d="M216.5 543.5C216.6 544.2 216.5 544.9 216.4 545.5C216.2 546.2 215.9 546.9 215.6 547.5C215.2 548.1 214.8 548.8 214.2 549.3C213.7 549.9 213.0 550.5 212.3 550.9C211.6 551.4 210.7 551.8 209.9 552.1C209.0 552.4 208.1 552.6 207.1 552.8C206.2 552.9 205.2 553.0 204.3 553.1C203.3 553.1 202.3 553.0 201.4 552.9C200.5 552.7 199.5 552.3 198.8 551.9C198.1 551.5 197.5 550.8 196.9 550.3C196.4 549.7 196.1 549.1 195.6 548.6C195.1 548.1 194.6 547.6 194.1 547.1C193.6 546.6 192.8 546.1 192.3 545.5C191.9 544.9 191.3 544.2 191.1 543.5C190.9 542.8 191.0 542.0 191.2 541.3C191.4 540.6 191.9 539.9 192.5 539.3C193.0 538.7 193.7 538.2 194.4 537.7C195.1 537.2 195.8 536.8 196.6 536.4C197.4 536.0 198.2 535.7 199.0 535.5C199.9 535.2 200.7 535.0 201.6 534.8C202.4 534.6 203.3 534.4 204.3 534.2C205.2 534.1 206.2 534.0 207.2 534.1C208.1 534.2 209.1 534.4 210.0 534.8C210.8 535.1 211.6 535.7 212.2 536.2C212.8 536.7 213.2 537.4 213.7 538.0C214.1 538.6 214.5 539.2 214.8 539.8C215.2 540.3 215.6 540.9 215.9 541.5C216.2 542.2 216.4 542.8 216.5 543.5Z"/><path id="b509" d="M201.3 541.0C201.3 541.4 201.3 541.8 201.4 542.2C201.4 542.7 201.5 543.1 201.4 543.6C201.4 544.1 201.2 544.6 201.0 545.0C200.7 545.5 200.2 545.9 199.7 546.1C199.2 546.4 198.5 546.6 197.9 546.7C197.3 546.8 196.6 546.9 196.0 547.0C195.4 547.0 194.8 547.1 194.2 547.1C193.6 547.1 192.9 547.2 192.4 547.0C191.8 546.9 191.2 546.7 190.7 546.4C190.2 546.2 189.9 545.8 189.5 545.5C189.1 545.1 188.7 544.8 188.3 544.5C187.9 544.2 187.5 543.9 187.1 543.6C186.8 543.2 186.4 542.8 186.2 542.4C186.1 541.9 186.2 541.4 186.4 541.0C186.5 540.6 186.9 540.2 187.2 539.8C187.4 539.4 187.6 539.1 187.7 538.7C187.9 538.2 187.8 537.7 187.9 537.2C188.0 536.7 188.2 536.1 188.5 535.7C188.9 535.3 189.6 534.9 190.2 534.8C190.8 534.6 191.6 534.7 192.3 534.8C193.0 534.9 193.6 535.2 194.2 535.3C194.8 535.4 195.3 535.5 195.9 535.5C196.4 535.6 197.1 535.5 197.6 535.6C198.2 535.7 198.9 535.8 199.4 536.1C199.9 536.3 200.4 536.7 200.7 537.1C201.0 537.5 201.1 538.0 201.3 538.5C201.4 538.9 201.3 539.4 201.3 539.8C201.3 540.2 201.3 540.6 201.3 541.0Z"/><clipPath id="lv509"><use href="#a509"/><use href="#b509"/></clipPath></defs>
<g fill="none" stroke="#2a2a2a" stroke-width="1.3"><use href="#a509"/><use href="#b509"/></g>
<g fill="#7e7e7e"><use href="#a509"/><use href="#b509"/></g>
<rect x="183.80" y="532.00" width="36.80" height="22.00" fill="url(#gL)" clip-path="url(#lv509)"/>
<use href="#b509" fill="none" stroke="#000" stroke-opacity="0.18" stroke-width="0.8" clip-path="url(#lv509)"/>
<circle cx="205.80" cy="547.25" r="0.45" fill="#dadada"/>
<circle cx="197.10" cy="540.48" r="0.45" fill="#dadada"/>
<circle cx="195.76" cy="544.24" r="0.45" fill="#dadada"/>
<circle cx="203.26" cy="545.23" r="0.45" fill="#dadada"/>
<circle cx="205.02" cy="541.78" r="0.45" fill="#dadada"/>
<circle cx="198.83" cy="547.06" r="0.45" fill="#dadada"/>
<circle cx="203.84" cy="539.19" r="0.45" fill="#dadada"/>
<circle cx="198.94" cy="541.00" r="0.45" fill="#dadada"/>
<circle cx="200.87" cy="541.46" r="0.45" fill="#dadada"/>
<path d="M195.0 548.5C195.0 548.7 194.9 548.8 194.9 549.0C194.8 549.1 194.7 549.3 194.6 549.4C194.6 549.6 194.6 549.8 194.5 550.0C194.4 550.2 194.4 550.4 194.2 550.6C194.0 550.7 193.7 550.8 193.5 550.9C193.2 550.9 192.9 550.9 192.6 550.8C192.3 550.8 192.0 550.7 191.8 550.7C191.6 550.6 191.3 550.6 191.1 550.6C190.9 550.5 190.7 550.5 190.5 550.4C190.3 550.3 190.2 550.1 190.1 550.0C190.0 549.9 189.9 549.7 189.8 549.6C189.7 549.5 189.5 549.4 189.3 549.3C189.1 549.2 188.7 549.2 188.5 549.0C188.3 548.9 188.1 548.7 188.1 548.5C188.2 548.3 188.4 548.1 188.6 548.0C188.8 547.9 189.1 547.8 189.3 547.7C189.5 547.5 189.5 547.4 189.5 547.3C189.6 547.1 189.5 546.8 189.6 546.6C189.7 546.4 189.8 546.1 190.1 546.0C190.3 545.9 190.6 545.9 190.9 545.9C191.2 545.9 191.5 546.1 191.8 546.2C192.1 546.3 192.3 546.4 192.5 546.5C192.7 546.6 192.9 546.6 193.1 546.7C193.3 546.8 193.4 546.9 193.6 547.0C193.7 547.1 193.8 547.2 193.9 547.3C194.1 547.4 194.2 547.5 194.3 547.7C194.5 547.8 194.7 547.9 194.8 548.0C194.9 548.2 195.0 548.3 195.0 548.5Z" fill="#c00000"/>
<path d="M224.9 512.9C224.9 513.3 224.8 513.6 224.6 514.0C224.5 514.3 224.0 514.6 223.8 514.9C223.6 515.2 223.4 515.5 223.3 515.8C223.2 516.1 223.2 516.5 223.0 516.8C222.8 517.1 222.5 517.5 222.1 517.6C221.7 517.7 221.1 517.6 220.6 517.6C220.2 517.6 219.7 517.5 219.4 517.6C219.1 517.7 218.9 518.0 218.6 518.2C218.3 518.4 218.0 518.7 217.6 518.8C217.3 518.9 216.9 518.8 216.5 518.7C216.1 518.7 215.8 518.5 215.5 518.4C215.1 518.3 214.8 518.3 214.4 518.4C214.0 518.4 213.5 518.5 213.0 518.6C212.6 518.6 212.0 518.7 211.5 518.7C210.9 518.7 210.3 518.6 209.8 518.5C209.3 518.3 208.7 518.1 208.4 517.8C208.1 517.5 208.0 516.9 208.0 516.5C208.0 516.0 208.4 515.5 208.5 515.1C208.5 514.7 208.6 514.3 208.6 513.9C208.5 513.6 208.2 513.3 208.1 512.9C208.1 512.5 208.0 512.1 208.2 511.8C208.3 511.5 208.8 511.2 209.2 510.9C209.6 510.7 210.2 510.6 210.5 510.4C210.9 510.2 211.1 510.0 211.3 509.8C211.6 509.5 211.7 509.3 211.9 509.0C212.1 508.8 212.2 508.5 212.5 508.3C212.7 508.0 212.9 507.7 213.2 507.5C213.5 507.3 213.8 507.0 214.1 506.8C214.5 506.7 214.9 506.7 215.3 506.7C215.7 506.7 216.1 506.8 216.5 506.8C216.9 506.9 217.2 506.8 217.7 506.8C218.1 506.7 218.5 506.5 219.0 506.5C219.4 506.5 219.9 506.5 220.3 506.7C220.7 506.8 221.0 507.1 221.4 507.3C221.7 507.5 222.0 507.8 222.4 508.0C222.7 508.3 223.1 508.5 223.4 508.7C223.7 509.0 223.9 509.3 224.1 509.7C224.2 510.0 224.2 510.4 224.3 510.8C224.4 511.2 224.5 511.5 224.6 511.8C224.7 512.2 224.9 512.5 224.9 512.9Z" fill="url(#gR)" stroke="#a00000" stroke-width="0.7"/>
<ellipse cx="217.50" cy="513.90" rx="2.8" ry="2.4" fill="#ff9000"/>
<ellipse cx="217.50" cy="513.90" rx="1.3" ry="1.1" fill="#ffd020"/>
<ellipse cx="182.00" cy="574.50" rx="3.5" ry="5" fill="url(#gK)" stroke="#303030" stroke-width="0.6" transform="rotate(-10 182.00 574.50)"/>
<ellipse cx="218.20" cy="571.90" rx="4" ry="6" fill="url(#gK)" stroke="#303030" stroke-width="0.6" transform="rotate(-10 218.20 571.90)"/>
<ellipse cx="201.00" cy="571.90" rx="3" ry="6" fill="#8a0000"/>
<ellipse cx="202.00" cy="573.40" rx="1.4" ry="1.4" fill="#202020"/>
<rect x="233.10" y="500.00" width="55.80" height="84.50" fill="#727272"/>
<ellipse cx="244.70" cy="515.00" rx="3.5" ry="4" fill="url(#gH)" stroke="#404040" stroke-width="0.5"/>
<defs><path id="a520" d="M275.1 543.7C275.4 544.6 275.8 545.7 275.8 546.6C275.8 547.6 275.6 548.8 275.1 549.6C274.6 550.5 273.8 551.2 273.0 551.8C272.2 552.3 271.3 552.6 270.5 553.1C269.7 553.5 268.9 553.8 268.2 554.3C267.4 554.7 266.7 555.2 265.9 555.5C265.1 555.8 264.2 556.2 263.3 556.2C262.4 556.3 261.5 556.1 260.6 555.8C259.8 555.5 259.0 555.1 258.3 554.5C257.6 554.0 256.9 553.4 256.4 552.8C255.8 552.1 255.3 551.4 254.9 550.7C254.5 549.9 254.2 549.2 253.9 548.4C253.5 547.7 253.2 547.0 252.9 546.2C252.5 545.4 252.0 544.6 251.7 543.7C251.4 542.8 251.0 541.7 251.0 540.7C250.9 539.7 251.0 538.6 251.4 537.7C251.7 536.7 252.3 535.8 253.0 535.1C253.7 534.3 254.5 533.7 255.3 533.2C256.2 532.7 257.1 532.4 258.0 532.2C258.9 531.9 259.9 531.9 260.7 532.0C261.6 532.0 262.5 532.3 263.3 532.5C264.1 532.7 264.8 533.0 265.6 533.2C266.4 533.3 267.1 533.4 268.0 533.6C268.8 533.7 269.7 533.9 270.5 534.3C271.2 534.7 272.0 535.3 272.5 536.0C273.0 536.7 273.3 537.7 273.5 538.5C273.8 539.3 273.9 540.2 274.2 541.1C274.5 541.9 274.9 542.7 275.1 543.7Z"/><path id="b520" d="M261.2 540.3C261.3 540.9 261.3 541.6 261.2 542.1C261.1 542.7 260.9 543.3 260.6 543.8C260.4 544.3 260.0 544.8 259.8 545.4C259.5 545.9 259.2 546.5 258.9 547.0C258.5 547.6 258.1 548.2 257.6 548.6C257.1 549.0 256.4 549.3 255.8 549.3C255.1 549.3 254.4 549.0 253.9 548.8C253.3 548.5 252.8 548.1 252.3 547.8C251.8 547.5 251.3 547.2 250.9 546.9C250.4 546.6 249.9 546.4 249.6 546.1C249.2 545.7 248.8 545.3 248.5 544.9C248.2 544.4 248.1 543.9 247.8 543.4C247.6 542.9 247.5 542.5 247.2 542.0C247.0 541.4 246.6 540.9 246.4 540.3C246.2 539.7 245.9 539.0 245.9 538.4C245.9 537.8 246.1 537.1 246.4 536.5C246.7 536.0 247.2 535.5 247.6 535.1C248.1 534.7 248.6 534.4 249.1 534.0C249.6 533.7 250.1 533.4 250.6 533.1C251.1 532.8 251.6 532.5 252.1 532.3C252.7 532.1 253.3 532.0 253.9 532.0C254.4 532.0 255.0 532.1 255.6 532.3C256.1 532.5 256.7 532.8 257.1 533.1C257.6 533.4 258.0 533.9 258.4 534.3C258.7 534.7 259.0 535.3 259.2 535.8C259.5 536.3 259.7 536.8 259.9 537.3C260.1 537.7 260.3 538.2 260.6 538.7C260.8 539.2 261.1 539.8 261.2 540.3Z"/><clipPath id="lv520"><use href="#a520"/><use href="#b520"/></clipPath></defs>
<g fill="none" stroke="#2a2a2a" stroke-width="1.3"><use href="#a520"/><use href="#b520"/></g>
<g fill="#727272"><use href="#a520"/><use href="#b520"/></g>
<rect x="244.10" y="528.37" width="34.50" height="29.26" fill="url(#gL)" clip-path="url(#lv520)"/>
<use href="#b520" fill="none" stroke="#000" stroke-opacity="0.18" stroke-width="0.8" clip-path="url(#lv520)"/>
<circle cx="269.31" cy="538.40" r="0.45" fill="#dadada"/>
<circle cx="267.34" cy="542.50" r="0.45" fill="#dadada"/>
<circle cx="255.36" cy="542.89" r="0.45" fill="#dadada"/>
<circle cx="265.61" cy="548.28" r="0.45" fill="#dadada"/>
<circle cx="257.17" cy="542.67" r="0.45" fill="#dadada"/>
<circle cx="263.04" cy="549.43" r="0.45" fill="#dadada"/>
<circle cx="269.33" cy="539.07" r="0.45" fill="#dadada"/>
<circle cx="258.48" cy="540.24" r="0.45" fill="#dadada"/>
<circle cx="259.38" cy="539.91" r="0.45" fill="#dadada"/>
<path d="M275.1 512.5C275.0 512.9 274.9 513.2 274.9 513.6C275.0 513.9 275.2 514.4 275.2 514.8C275.2 515.2 275.0 515.6 274.8 515.8C274.5 516.1 274.0 516.1 273.7 516.2C273.4 516.3 273.1 516.4 272.9 516.6C272.7 516.8 272.7 517.2 272.6 517.6C272.5 518.0 272.4 518.5 272.2 518.8C272.0 519.1 271.7 519.3 271.5 519.6C271.2 519.8 270.9 520.0 270.6 520.2C270.3 520.4 270.0 520.6 269.7 520.8C269.4 521.0 269.0 521.2 268.6 521.3C268.2 521.4 267.8 521.5 267.4 521.5C267.0 521.4 266.6 521.4 266.3 521.1C266.0 520.8 265.8 520.2 265.7 519.6C265.6 519.0 265.7 518.1 265.8 517.6C265.8 517.0 265.9 516.5 265.8 516.2C265.6 515.8 265.2 515.8 264.9 515.6C264.5 515.4 264.0 515.3 263.7 515.0C263.4 514.7 263.3 514.2 263.2 513.8C263.2 513.4 263.4 512.9 263.5 512.5C263.5 512.1 263.6 511.7 263.7 511.3C263.8 510.9 263.9 510.5 264.0 510.1C264.2 509.8 264.6 509.6 264.8 509.3C265.0 509.0 265.2 508.8 265.3 508.4C265.4 508.0 265.3 507.4 265.4 506.9C265.5 506.5 265.6 505.9 265.9 505.8C266.2 505.6 266.8 505.9 267.2 506.1C267.6 506.3 268.0 506.9 268.3 507.0C268.6 507.1 268.7 506.9 269.0 506.6C269.2 506.3 269.4 505.6 269.7 505.3C270.0 504.9 270.3 504.7 270.7 504.6C271.0 504.5 271.3 504.8 271.6 504.8C272.0 504.9 272.3 504.9 272.7 505.0C273.1 505.0 273.5 505.0 273.8 505.2C274.2 505.4 274.4 505.8 274.6 506.2C274.8 506.6 274.9 507.1 275.1 507.5C275.3 507.9 275.6 508.2 275.8 508.5C276.0 508.9 276.3 509.3 276.4 509.7C276.4 510.2 276.2 510.8 276.0 511.2C275.8 511.7 275.3 512.1 275.1 512.5Z" fill="url(#gD)" stroke="#400000" stroke-width="0.7"/>
<ellipse cx="240.40" cy="574.50" rx="3.5" ry="5.5" fill="url(#gK)" stroke="#303030" stroke-width="0.6" transform="rotate(-5 240.40 574.50)"/>
<ellipse cx="274.00" cy="572.70" rx="4" ry="6" fill="url(#gK)" stroke="#303030" stroke-width="0.6" transform="rotate(-10 274.00 572.70)"/>
<ellipse cx="257.60" cy="573.60" rx="1.8" ry="7.5" fill="url(#gK)" stroke="#333" stroke-width="0.5" transform="rotate(10 257.60 573.60)"/>
<rect x="292.70" y="501.20" width="2.20" height="82.30" fill="url(#cbar)"/>
<text x="300.80" y="511.30" font-size="10.6" fill="#111" textLength="5.6" lengthAdjust="spacingAndGlyphs">4</text>
<text x="298.80" y="546.30" font-size="10.2" fill="#111" textLength="20.6" lengthAdjust="spacingAndGlyphs">x10<tspan dy="-4" font-size="6.6">5</tspan></text>
<text x="298.20" y="582.10" font-size="10.6" fill="#111" textLength="14.4" lengthAdjust="spacingAndGlyphs">0.4</text>
<text x="268.00" y="592.30" font-size="8.8" fill="#111" textLength="54.5" lengthAdjust="spacingAndGlyphs">(p/sec/cm<tspan dy="-3.2" font-size="5.4">2</tspan><tspan dy="3.2">/sr)</tspan></text>
<path d="M272.9 252.5C272.9 252.7 272.9 253.0 272.9 253.2C272.8 253.4 272.7 253.6 272.6 253.8C272.4 254.0 272.3 254.1 272.2 254.2C272.1 254.4 272.0 254.5 271.9 254.7C271.8 254.8 271.7 255.0 271.6 255.2C271.4 255.4 271.3 255.5 271.1 255.6C271.0 255.7 270.8 255.8 270.6 255.8C270.4 255.8 270.2 255.7 270.1 255.6C269.9 255.5 269.8 255.3 269.6 255.2C269.5 255.1 269.4 254.9 269.3 254.7C269.2 254.6 269.1 254.4 269.0 254.2C268.9 254.1 268.8 253.9 268.7 253.8C268.6 253.6 268.5 253.4 268.4 253.2C268.3 253.0 268.3 252.7 268.3 252.5C268.3 252.3 268.4 252.0 268.4 251.8C268.5 251.6 268.6 251.5 268.7 251.3C268.8 251.1 268.9 250.9 269.0 250.7C269.0 250.5 269.1 250.3 269.2 250.1C269.3 249.9 269.4 249.7 269.6 249.6C269.7 249.5 269.9 249.4 270.1 249.4C270.3 249.4 270.4 249.5 270.6 249.5C270.8 249.5 270.9 249.6 271.1 249.6C271.2 249.7 271.4 249.7 271.6 249.8C271.7 249.9 271.9 250.0 272.0 250.1C272.1 250.3 272.2 250.5 272.3 250.7C272.4 250.9 272.4 251.1 272.5 251.3C272.6 251.5 272.6 251.6 272.7 251.8C272.8 252.0 272.9 252.3 272.9 252.5Z" fill="#1a1a1a"/>
<ellipse cx="218.20" cy="176.80" rx="2.0" ry="2.6" fill="#2a2a2a"/>
<ellipse cx="188.90" cy="424.20" rx="3.0" ry="3.6" fill="#2e2e2e"/>
<text x="334.00" y="141.70" font-size="14" font-weight="bold">e</text>
<rect x="385.70" y="197.44" width="8.40" height="47.76" fill="#fff" stroke="#d4d4d4" stroke-width="0.7"/>
<line x1="389.90" y1="204.60" x2="389.90" y2="190.28" stroke="#5a5a5a" stroke-width="0.8"/>
<line x1="387.70" y1="204.60" x2="392.10" y2="204.60" stroke="#5a5a5a" stroke-width="0.8"/>
<line x1="387.70" y1="190.28" x2="392.10" y2="190.28" stroke="#5a5a5a" stroke-width="0.8"/>
<circle cx="388.00" cy="189.08" r="1.65" fill="#ff0000"/>
<circle cx="389.90" cy="191.47" r="1.65" fill="#ff0000"/>
<circle cx="391.80" cy="211.77" r="1.65" fill="#ff0000"/>
<rect x="397.51" y="218.33" width="8.40" height="26.87" fill="#fff" stroke="#d4d4d4" stroke-width="0.7"/>
<line x1="401.71" y1="221.32" x2="401.71" y2="215.35" stroke="#5a5a5a" stroke-width="0.8"/>
<line x1="399.51" y1="221.32" x2="403.91" y2="221.32" stroke="#5a5a5a" stroke-width="0.8"/>
<line x1="399.51" y1="215.35" x2="403.91" y2="215.35" stroke="#5a5a5a" stroke-width="0.8"/>
<circle cx="399.81" cy="214.16" r="1.65" fill="#ff0000"/>
<circle cx="401.71" cy="218.93" r="1.65" fill="#ff0000"/>
<circle cx="403.61" cy="221.92" r="1.65" fill="#ff0000"/>
<rect x="409.32" y="181.92" width="8.40" height="63.28" fill="#fff" stroke="#d4d4d4" stroke-width="0.7"/>
<line x1="413.52" y1="186.10" x2="413.52" y2="176.54" stroke="#5a5a5a" stroke-width="0.8"/>
<line x1="411.32" y1="186.10" x2="415.72" y2="186.10" stroke="#5a5a5a" stroke-width="0.8"/>
<line x1="411.32" y1="176.54" x2="415.72" y2="176.54" stroke="#5a5a5a" stroke-width="0.8"/>
<circle cx="411.62" cy="187.89" r="1.65" fill="#ff0000"/>
<circle cx="413.52" cy="171.17" r="1.65" fill="#ff0000"/>
<circle cx="415.42" cy="185.50" r="1.65" fill="#ff0000"/>
<rect x="421.13" y="198.63" width="8.40" height="46.57" fill="#fff" stroke="#d4d4d4" stroke-width="0.7"/>
<line x1="425.33" y1="209.98" x2="425.33" y2="186.69" stroke="#5a5a5a" stroke-width="0.8"/>
<line x1="423.13" y1="209.98" x2="427.53" y2="209.98" stroke="#5a5a5a" stroke-width="0.8"/>
<line x1="423.13" y1="186.69" x2="427.53" y2="186.69" stroke="#5a5a5a" stroke-width="0.8"/>
<circle cx="423.43" cy="214.16" r="1.65" fill="#ff0000"/>
<circle cx="425.33" cy="174.75" r="1.65" fill="#ff0000"/>
<circle cx="427.23" cy="205.80" r="1.65" fill="#ff0000"/>
<rect x="444.75" y="173.56" width="8.40" height="71.64" fill="#fff" stroke="#d4d4d4" stroke-width="0.7"/>
<line x1="448.95" y1="182.51" x2="448.95" y2="164.01" stroke="#5a5a5a" stroke-width="0.8"/>
<line x1="446.75" y1="182.51" x2="451.15" y2="182.51" stroke="#5a5a5a" stroke-width="0.8"/>
<line x1="446.75" y1="164.01" x2="451.15" y2="164.01" stroke="#5a5a5a" stroke-width="0.8"/>
<circle cx="447.05" cy="158.04" r="1.65" fill="#ff0000"/>
<circle cx="448.95" cy="171.17" r="1.65" fill="#ff0000"/>
<circle cx="450.85" cy="189.08" r="1.65" fill="#ff0000"/>
<rect x="456.56" y="174.75" width="8.40" height="70.45" fill="#fff" stroke="#d4d4d4" stroke-width="0.7"/>
<line x1="460.76" y1="178.93" x2="460.76" y2="170.57" stroke="#5a5a5a" stroke-width="0.8"/>
<line x1="458.56" y1="178.93" x2="462.96" y2="178.93" stroke="#5a5a5a" stroke-width="0.8"/>
<line x1="458.56" y1="170.57" x2="462.96" y2="170.57" stroke="#5a5a5a" stroke-width="0.8"/>
<circle cx="458.86" cy="180.72" r="1.65" fill="#ff0000"/>
<circle cx="460.76" cy="167.59" r="1.65" fill="#ff0000"/>
<circle cx="462.66" cy="174.75" r="1.65" fill="#ff0000"/>
<rect x="468.37" y="224.90" width="8.40" height="20.30" fill="#fff" stroke="#d4d4d4" stroke-width="0.7"/>
<line x1="472.57" y1="226.10" x2="472.57" y2="223.11" stroke="#5a5a5a" stroke-width="0.8"/>
<line x1="470.37" y1="226.10" x2="474.77" y2="226.10" stroke="#5a5a5a" stroke-width="0.8"/>
<line x1="470.37" y1="223.11" x2="474.77" y2="223.11" stroke="#5a5a5a" stroke-width="0.8"/>
<circle cx="470.67" cy="223.11" r="1.65" fill="#ff0000"/>
<circle cx="472.57" cy="226.10" r="1.65" fill="#ff0000"/>
<circle cx="474.47" cy="223.71" r="1.65" fill="#ff0000"/>
<rect x="480.18" y="234.45" width="8.40" height="10.75" fill="#fff" stroke="#d4d4d4" stroke-width="0.7"/>
<line x1="484.38" y1="236.24" x2="484.38" y2="232.66" stroke="#5a5a5a" stroke-width="0.8"/>
<line x1="482.18" y1="236.24" x2="486.58" y2="236.24" stroke="#5a5a5a" stroke-width="0.8"/>
<line x1="482.18" y1="232.66" x2="486.58" y2="232.66" stroke="#5a5a5a" stroke-width="0.8"/>
<circle cx="482.48" cy="235.65" r="1.65" fill="#ff0000"/>
<circle cx="484.38" cy="230.87" r="1.65" fill="#ff0000"/>
<circle cx="486.28" cy="235.05" r="1.65" fill="#ff0000"/>
<rect x="503.80" y="242.81" width="8.40" height="2.39" fill="#fff" stroke="#d4d4d4" stroke-width="0.7"/>
<line x1="508.00" y1="245.20" x2="508.00" y2="240.42" stroke="#5a5a5a" stroke-width="0.8"/>
<line x1="505.80" y1="245.20" x2="510.20" y2="245.20" stroke="#5a5a5a" stroke-width="0.8"/>
<line x1="505.80" y1="240.42" x2="510.20" y2="240.42" stroke="#5a5a5a" stroke-width="0.8"/>
<circle cx="506.10" cy="244.60" r="1.65" fill="#ff0000"/>
<circle cx="508.00" cy="239.23" r="1.65" fill="#ff0000"/>
<circle cx="509.90" cy="244.60" r="1.65" fill="#ff0000"/>
<rect x="515.61" y="229.68" width="8.40" height="15.52" fill="#fff" stroke="#d4d4d4" stroke-width="0.7"/>
<line x1="519.81" y1="232.07" x2="519.81" y2="226.69" stroke="#5a5a5a" stroke-width="0.8"/>
<line x1="517.61" y1="232.07" x2="522.01" y2="232.07" stroke="#5a5a5a" stroke-width="0.8"/>
<line x1="517.61" y1="226.69" x2="522.01" y2="226.69" stroke="#5a5a5a" stroke-width="0.8"/>
<circle cx="517.91" cy="231.47" r="1.65" fill="#ff0000"/>
<circle cx="519.81" cy="224.30" r="1.65" fill="#ff0000"/>
<circle cx="521.71" cy="229.68" r="1.65" fill="#ff0000"/>
<rect x="527.42" y="238.04" width="8.40" height="7.16" fill="#fff" stroke="#d4d4d4" stroke-width="0.7"/>
<line x1="531.62" y1="239.23" x2="531.62" y2="236.84" stroke="#5a5a5a" stroke-width="0.8"/>
<line x1="529.42" y1="239.23" x2="533.82" y2="239.23" stroke="#5a5a5a" stroke-width="0.8"/>
<line x1="529.42" y1="236.84" x2="533.82" y2="236.84" stroke="#5a5a5a" stroke-width="0.8"/>
<circle cx="529.72" cy="236.24" r="1.65" fill="#ff0000"/>
<circle cx="531.62" cy="238.63" r="1.65" fill="#ff0000"/>
<circle cx="533.52" cy="238.04" r="1.65" fill="#ff0000"/>
<rect x="539.23" y="221.32" width="8.40" height="23.88" fill="#fff" stroke="#d4d4d4" stroke-width="0.7"/>
<line x1="543.43" y1="223.71" x2="543.43" y2="218.93" stroke="#5a5a5a" stroke-width="0.8"/>
<line x1="541.23" y1="223.71" x2="545.63" y2="223.71" stroke="#5a5a5a" stroke-width="0.8"/>
<line x1="541.23" y1="218.93" x2="545.63" y2="218.93" stroke="#5a5a5a" stroke-width="0.8"/>
<circle cx="541.53" cy="221.92" r="1.65" fill="#ff0000"/>
<circle cx="543.43" cy="217.74" r="1.65" fill="#ff0000"/>
<circle cx="545.33" cy="218.93" r="1.65" fill="#ff0000"/>
<rect x="562.85" y="235.05" width="8.40" height="10.15" fill="#fff" stroke="#d4d4d4" stroke-width="0.7"/>
<line x1="567.05" y1="240.42" x2="567.05" y2="229.68" stroke="#5a5a5a" stroke-width="0.8"/>
<line x1="564.85" y1="240.42" x2="569.25" y2="240.42" stroke="#5a5a5a" stroke-width="0.8"/>
<line x1="564.85" y1="229.68" x2="569.25" y2="229.68" stroke="#5a5a5a" stroke-width="0.8"/>
<circle cx="565.15" cy="244.60" r="1.65" fill="#ff0000"/>
<circle cx="567.05" cy="228.48" r="1.65" fill="#ff0000"/>
<circle cx="568.95" cy="235.05" r="1.65" fill="#ff0000"/>
<rect x="574.66" y="205.80" width="8.40" height="39.40" fill="#fff" stroke="#d4d4d4" stroke-width="0.7"/>
<line x1="578.86" y1="209.98" x2="578.86" y2="199.83" stroke="#5a5a5a" stroke-width="0.8"/>
<line x1="576.66" y1="209.98" x2="581.06" y2="209.98" stroke="#5a5a5a" stroke-width="0.8"/>
<line x1="576.66" y1="199.83" x2="581.06" y2="199.83" stroke="#5a5a5a" stroke-width="0.8"/>
<circle cx="576.96" cy="208.19" r="1.65" fill="#ff0000"/>
<circle cx="578.86" cy="195.05" r="1.65" fill="#ff0000"/>
<circle cx="580.76" cy="205.80" r="1.65" fill="#ff0000"/>
<rect x="586.47" y="222.51" width="8.40" height="22.69" fill="#fff" stroke="#d4d4d4" stroke-width="0.7"/>
<line x1="590.67" y1="224.30" x2="590.67" y2="220.72" stroke="#5a5a5a" stroke-width="0.8"/>
<line x1="588.47" y1="224.30" x2="592.87" y2="224.30" stroke="#5a5a5a" stroke-width="0.8"/>
<line x1="588.47" y1="220.72" x2="592.87" y2="220.72" stroke="#5a5a5a" stroke-width="0.8"/>
<circle cx="588.77" cy="223.71" r="1.65" fill="#ff0000"/>
<circle cx="590.67" cy="220.13" r="1.65" fill="#ff0000"/>
<circle cx="592.57" cy="221.92" r="1.65" fill="#ff0000"/>
<rect x="598.28" y="240.42" width="8.40" height="4.78" fill="#fff" stroke="#d4d4d4" stroke-width="0.7"/>
<line x1="602.48" y1="241.62" x2="602.48" y2="239.23" stroke="#5a5a5a" stroke-width="0.8"/>
<line x1="600.28" y1="241.62" x2="604.68" y2="241.62" stroke="#5a5a5a" stroke-width="0.8"/>
<line x1="600.28" y1="239.23" x2="604.68" y2="239.23" stroke="#5a5a5a" stroke-width="0.8"/>
<circle cx="600.58" cy="241.62" r="1.65" fill="#ff0000"/>
<circle cx="602.48" cy="238.04" r="1.65" fill="#ff0000"/>
<circle cx="604.38" cy="240.42" r="1.65" fill="#ff0000"/>
<rect x="621.90" y="241.62" width="8.40" height="3.58" fill="#fff" stroke="#d4d4d4" stroke-width="0.7"/>
<circle cx="624.20" cy="241.62" r="1.65" fill="#ff0000"/>
<circle cx="626.10" cy="241.02" r="1.65" fill="#ff0000"/>
<circle cx="628.00" cy="241.62" r="1.65" fill="#ff0000"/>
<rect x="633.71" y="243.41" width="8.40" height="1.79" fill="#fff" stroke="#d4d4d4" stroke-width="0.7"/>
<circle cx="636.01" cy="243.41" r="1.65" fill="#ff0000"/>
<circle cx="637.91" cy="242.81" r="1.65" fill="#ff0000"/>
<circle cx="639.81" cy="243.41" r="1.65" fill="#ff0000"/>
<circle cx="647.82" cy="244.60" r="1.65" fill="#ff0000"/>
<circle cx="649.72" cy="244.24" r="1.65" fill="#ff0000"/>
<circle cx="651.62" cy="244.60" r="1.65" fill="#ff0000"/>
<circle cx="659.63" cy="244.96" r="1.65" fill="#ff0000"/>
<circle cx="661.53" cy="244.84" r="1.65" fill="#ff0000"/>
<circle cx="663.43" cy="244.96" r="1.65" fill="#ff0000"/>
<line x1="382.40" y1="149.40" x2="382.40" y2="245.80" stroke="#1a1a1a" stroke-width="1.1"/>
<line x1="381.90" y1="245.20" x2="670.30" y2="245.20" stroke="#1a1a1a" stroke-width="1.4"/>
<line x1="380.20" y1="245.20" x2="382.40" y2="245.20" stroke="#1a1a1a" stroke-width="0.9"/>
<text x="380.00" y="247.50" font-size="6.6" text-anchor="end" fill="#222">0</text>
<line x1="380.20" y1="221.32" x2="382.40" y2="221.32" stroke="#1a1a1a" stroke-width="0.9"/>
<text x="380.00" y="223.62" font-size="6.6" text-anchor="end" fill="#222">2×10<tspan dx="0.6" dy="-2.6" font-size="3.63">6</tspan></text>
<line x1="380.20" y1="197.44" x2="382.40" y2="197.44" stroke="#1a1a1a" stroke-width="0.9"/>
<text x="380.00" y="199.74" font-size="6.6" text-anchor="end" fill="#222">4×10<tspan dx="0.6" dy="-2.6" font-size="3.63">6</tspan></text>
<line x1="380.20" y1="173.56" x2="382.40" y2="173.56" stroke="#1a1a1a" stroke-width="0.9"/>
<text x="380.00" y="175.86" font-size="6.6" text-anchor="end" fill="#222">6×10<tspan dx="0.6" dy="-2.6" font-size="3.63">6</tspan></text>
<line x1="380.20" y1="149.68" x2="382.40" y2="149.68" stroke="#1a1a1a" stroke-width="0.9"/>
<text x="380.00" y="151.98" font-size="6.6" text-anchor="end" fill="#222">8×10<tspan dx="0.6" dy="-2.6" font-size="3.63">6</tspan></text>
<line x1="389.90" y1="245.20" x2="389.90" y2="247.20" stroke="#1a1a1a" stroke-width="0.9"/>
<text x="391.60" y="253.60" font-size="7.4" text-anchor="end" fill="#222" transform="rotate(-45 391.60 253.60)">DOTAP20</text>
<line x1="401.71" y1="245.20" x2="401.71" y2="247.20" stroke="#1a1a1a" stroke-width="0.9"/>
<text x="403.41" y="253.60" font-size="7.4" text-anchor="end" fill="#222" transform="rotate(-45 403.41 253.60)">DOTAP30</text>
<line x1="413.52" y1="245.20" x2="413.52" y2="247.20" stroke="#1a1a1a" stroke-width="0.9"/>
<text x="415.22" y="253.60" font-size="7.4" text-anchor="end" fill="#222" transform="rotate(-45 415.22 253.60)">DOTAP40</text>
<line x1="425.33" y1="245.20" x2="425.33" y2="247.20" stroke="#1a1a1a" stroke-width="0.9"/>
<text x="427.03" y="253.60" font-size="7.4" text-anchor="end" fill="#222" transform="rotate(-45 427.03 253.60)">DOTAP50</text>
<line x1="448.95" y1="245.20" x2="448.95" y2="247.20" stroke="#1a1a1a" stroke-width="0.9"/>
<text x="450.65" y="253.60" font-size="7.4" text-anchor="end" fill="#222" transform="rotate(-45 450.65 253.60)">DDAB20</text>
<line x1="460.76" y1="245.20" x2="460.76" y2="247.20" stroke="#1a1a1a" stroke-width="0.9"/>
<text x="462.46" y="253.60" font-size="7.4" text-anchor="end" fill="#222" transform="rotate(-45 462.46 253.60)">DDAB30</text>
<line x1="472.57" y1="245.20" x2="472.57" y2="247.20" stroke="#1a1a1a" stroke-width="0.9"/>
<text x="474.27" y="253.60" font-size="7.4" text-anchor="end" fill="#222" transform="rotate(-45 474.27 253.60)">DDAB40</text>
<line x1="484.38" y1="245.20" x2="484.38" y2="247.20" stroke="#1a1a1a" stroke-width="0.9"/>
<text x="486.08" y="253.60" font-size="7.4" text-anchor="end" fill="#222" transform="rotate(-45 486.08 253.60)">DDAB50</text>
<line x1="508.00" y1="245.20" x2="508.00" y2="247.20" stroke="#1a1a1a" stroke-width="0.9"/>
<text x="509.70" y="253.60" font-size="7.4" text-anchor="end" fill="#222" transform="rotate(-45 509.70 253.60)">DOTMA20</text>
<line x1="519.81" y1="245.20" x2="519.81" y2="247.20" stroke="#1a1a1a" stroke-width="0.9"/>
<text x="521.51" y="253.60" font-size="7.4" text-anchor="end" fill="#222" transform="rotate(-45 521.51 253.60)">DOTMA30</text>
<line x1="531.62" y1="245.20" x2="531.62" y2="247.20" stroke="#1a1a1a" stroke-width="0.9"/>
<text x="533.32" y="253.60" font-size="7.4" text-anchor="end" fill="#222" transform="rotate(-45 533.32 253.60)">DOTMA40</text>
<line x1="543.43" y1="245.20" x2="543.43" y2="247.20" stroke="#1a1a1a" stroke-width="0.9"/>
<text x="545.13" y="253.60" font-size="7.4" text-anchor="end" fill="#222" transform="rotate(-45 545.13 253.60)">DOTMA50</text>
<line x1="567.05" y1="245.20" x2="567.05" y2="247.20" stroke="#1a1a1a" stroke-width="0.9"/>
<text x="568.75" y="253.60" font-size="7.4" text-anchor="end" fill="#222" transform="rotate(-45 568.75 253.60)">EPC20</text>
<line x1="578.86" y1="245.20" x2="578.86" y2="247.20" stroke="#1a1a1a" stroke-width="0.9"/>
<text x="580.56" y="253.60" font-size="7.4" text-anchor="end" fill="#222" transform="rotate(-45 580.56 253.60)">EPC30</text>
<line x1="590.67" y1="245.20" x2="590.67" y2="247.20" stroke="#1a1a1a" stroke-width="0.9"/>
<text x="592.37" y="253.60" font-size="7.4" text-anchor="end" fill="#222" transform="rotate(-45 592.37 253.60)">EPC40</text>
<line x1="602.48" y1="245.20" x2="602.48" y2="247.20" stroke="#1a1a1a" stroke-width="0.9"/>
<text x="604.18" y="253.60" font-size="7.4" text-anchor="end" fill="#222" transform="rotate(-45 604.18 253.60)">EPC50</text>
<line x1="626.10" y1="245.20" x2="626.10" y2="247.20" stroke="#1a1a1a" stroke-width="0.9"/>
<text x="627.80" y="253.60" font-size="7.4" text-anchor="end" fill="#222" transform="rotate(-45 627.80 253.60)">MVL5-20</text>
<line x1="637.91" y1="245.20" x2="637.91" y2="247.20" stroke="#1a1a1a" stroke-width="0.9"/>
<text x="639.61" y="253.60" font-size="7.4" text-anchor="end" fill="#222" transform="rotate(-45 639.61 253.60)">MVL5-30</text>
<line x1="649.72" y1="245.20" x2="649.72" y2="247.20" stroke="#1a1a1a" stroke-width="0.9"/>
<text x="651.42" y="253.60" font-size="7.4" text-anchor="end" fill="#222" transform="rotate(-45 651.42 253.60)">MVL5-40</text>
<line x1="661.53" y1="245.20" x2="661.53" y2="247.20" stroke="#1a1a1a" stroke-width="0.9"/>
<text x="663.23" y="253.60" font-size="7.4" text-anchor="end" fill="#222" transform="rotate(-45 663.23 253.60)">MVL5-50</text>
<line x1="437.14" y1="245.20" x2="437.14" y2="247.20" stroke="#1a1a1a" stroke-width="0.9"/>
<line x1="496.19" y1="245.20" x2="496.19" y2="247.20" stroke="#1a1a1a" stroke-width="0.9"/>
<line x1="555.24" y1="245.20" x2="555.24" y2="247.20" stroke="#1a1a1a" stroke-width="0.9"/>
<line x1="614.29" y1="245.20" x2="614.29" y2="247.20" stroke="#1a1a1a" stroke-width="0.9"/>
<circle cx="580.50" cy="155.50" r="1.6" fill="#ff0000"/>
<text x="592.00" y="158.60" font-size="8.6" fill="#222" textLength="17.5" lengthAdjust="spacingAndGlyphs">Lung</text>
<text x="353.20" y="197.90" font-size="8.1" text-anchor="middle" fill="#222" textLength="101" lengthAdjust="spacingAndGlyphs" transform="rotate(-90 353.20 197.90)">Avg Radiance [p/sec/cm<tspan dy="-3" font-size="5.2">2</tspan><tspan dy="3">/sr]</tspan></text>
<text x="336.50" y="288.00" font-size="14" font-weight="bold">f</text>
<rect x="379.40" y="385.88" width="8.40" height="3.92" fill="#fff" stroke="#d4d4d4" stroke-width="0.7"/>
<line x1="383.60" y1="387.35" x2="383.60" y2="384.41" stroke="#5a5a5a" stroke-width="0.8"/>
<line x1="381.40" y1="387.35" x2="385.80" y2="387.35" stroke="#5a5a5a" stroke-width="0.8"/>
<line x1="381.40" y1="384.41" x2="385.80" y2="384.41" stroke="#5a5a5a" stroke-width="0.8"/>
<circle cx="381.70" cy="387.35" r="1.65" fill="#0000ff"/>
<circle cx="383.60" cy="383.43" r="1.65" fill="#0000ff"/>
<circle cx="385.50" cy="386.37" r="1.65" fill="#0000ff"/>
<rect x="391.51" y="373.14" width="8.40" height="16.66" fill="#fff" stroke="#d4d4d4" stroke-width="0.7"/>
<line x1="395.71" y1="380.00" x2="395.71" y2="365.79" stroke="#5a5a5a" stroke-width="0.8"/>
<line x1="393.51" y1="380.00" x2="397.91" y2="380.00" stroke="#5a5a5a" stroke-width="0.8"/>
<line x1="393.51" y1="365.79" x2="397.91" y2="365.79" stroke="#5a5a5a" stroke-width="0.8"/>
<circle cx="393.81" cy="386.37" r="1.65" fill="#0000ff"/>
<circle cx="395.71" cy="361.38" r="1.65" fill="#0000ff"/>
<circle cx="397.61" cy="371.67" r="1.65" fill="#0000ff"/>
<rect x="403.62" y="366.28" width="8.40" height="23.52" fill="#fff" stroke="#d4d4d4" stroke-width="0.7"/>
<line x1="407.82" y1="371.18" x2="407.82" y2="361.38" stroke="#5a5a5a" stroke-width="0.8"/>
<line x1="405.62" y1="371.18" x2="410.02" y2="371.18" stroke="#5a5a5a" stroke-width="0.8"/>
<line x1="405.62" y1="361.38" x2="410.02" y2="361.38" stroke="#5a5a5a" stroke-width="0.8"/>
<circle cx="405.92" cy="376.57" r="1.65" fill="#0000ff"/>
<circle cx="407.82" cy="360.40" r="1.65" fill="#0000ff"/>
<circle cx="409.72" cy="362.85" r="1.65" fill="#0000ff"/>
<rect x="415.73" y="353.05" width="8.40" height="36.75" fill="#fff" stroke="#d4d4d4" stroke-width="0.7"/>
<line x1="419.93" y1="363.34" x2="419.93" y2="343.25" stroke="#5a5a5a" stroke-width="0.8"/>
<line x1="417.73" y1="363.34" x2="422.13" y2="363.34" stroke="#5a5a5a" stroke-width="0.8"/>
<line x1="417.73" y1="343.25" x2="422.13" y2="343.25" stroke="#5a5a5a" stroke-width="0.8"/>
<circle cx="418.03" cy="365.79" r="1.65" fill="#0000ff"/>
<circle cx="419.93" cy="332.96" r="1.65" fill="#0000ff"/>
<circle cx="421.83" cy="360.89" r="1.65" fill="#0000ff"/>
<rect x="439.95" y="377.40" width="8.40" height="12.40" fill="#fff" stroke="#d4d4d4" stroke-width="0.7"/>
<line x1="444.15" y1="380.49" x2="444.15" y2="374.12" stroke="#5a5a5a" stroke-width="0.8"/>
<line x1="441.95" y1="380.49" x2="446.35" y2="380.49" stroke="#5a5a5a" stroke-width="0.8"/>
<line x1="441.95" y1="374.12" x2="446.35" y2="374.12" stroke="#5a5a5a" stroke-width="0.8"/>
<circle cx="442.25" cy="381.96" r="1.65" fill="#0000ff"/>
<circle cx="444.15" cy="370.20" r="1.65" fill="#0000ff"/>
<circle cx="446.05" cy="381.96" r="1.65" fill="#0000ff"/>
<rect x="452.06" y="374.32" width="8.40" height="15.48" fill="#fff" stroke="#d4d4d4" stroke-width="0.7"/>
<line x1="456.26" y1="377.06" x2="456.26" y2="371.67" stroke="#5a5a5a" stroke-width="0.8"/>
<line x1="454.06" y1="377.06" x2="458.46" y2="377.06" stroke="#5a5a5a" stroke-width="0.8"/>
<line x1="454.06" y1="371.67" x2="458.46" y2="371.67" stroke="#5a5a5a" stroke-width="0.8"/>
<circle cx="454.36" cy="378.53" r="1.65" fill="#0000ff"/>
<circle cx="456.26" cy="368.24" r="1.65" fill="#0000ff"/>
<circle cx="458.16" cy="377.55" r="1.65" fill="#0000ff"/>
<rect x="464.17" y="362.02" width="8.40" height="27.78" fill="#fff" stroke="#d4d4d4" stroke-width="0.7"/>
<line x1="468.37" y1="363.34" x2="468.37" y2="360.40" stroke="#5a5a5a" stroke-width="0.8"/>
<line x1="466.17" y1="363.34" x2="470.57" y2="363.34" stroke="#5a5a5a" stroke-width="0.8"/>
<line x1="466.17" y1="360.40" x2="470.57" y2="360.40" stroke="#5a5a5a" stroke-width="0.8"/>
<circle cx="466.47" cy="363.83" r="1.65" fill="#0000ff"/>
<circle cx="468.37" cy="358.44" r="1.65" fill="#0000ff"/>
<circle cx="470.27" cy="361.87" r="1.65" fill="#0000ff"/>
<rect x="476.28" y="339.33" width="8.40" height="50.47" fill="#fff" stroke="#d4d4d4" stroke-width="0.7"/>
<line x1="480.48" y1="357.22" x2="480.48" y2="321.20" stroke="#5a5a5a" stroke-width="0.8"/>
<line x1="478.28" y1="357.22" x2="482.68" y2="357.22" stroke="#5a5a5a" stroke-width="0.8"/>
<line x1="478.28" y1="321.20" x2="482.68" y2="321.20" stroke="#5a5a5a" stroke-width="0.8"/>
<circle cx="478.58" cy="371.67" r="1.65" fill="#0000ff"/>
<circle cx="480.48" cy="309.44" r="1.65" fill="#0000ff"/>
<circle cx="482.38" cy="337.37" r="1.65" fill="#0000ff"/>
<circle cx="502.80" cy="389.56" r="1.65" fill="#0000ff"/>
<circle cx="504.70" cy="389.56" r="1.65" fill="#0000ff"/>
<circle cx="506.60" cy="389.56" r="1.65" fill="#0000ff"/>
<rect x="512.61" y="372.41" width="8.40" height="17.39" fill="#fff" stroke="#d4d4d4" stroke-width="0.7"/>
<line x1="516.81" y1="379.02" x2="516.81" y2="365.30" stroke="#5a5a5a" stroke-width="0.8"/>
<line x1="514.61" y1="379.02" x2="519.01" y2="379.02" stroke="#5a5a5a" stroke-width="0.8"/>
<line x1="514.61" y1="365.30" x2="519.01" y2="365.30" stroke="#5a5a5a" stroke-width="0.8"/>
<circle cx="514.91" cy="382.45" r="1.65" fill="#0000ff"/>
<circle cx="516.81" cy="358.93" r="1.65" fill="#0000ff"/>
<circle cx="518.71" cy="376.08" r="1.65" fill="#0000ff"/>
<rect x="524.72" y="373.14" width="8.40" height="16.66" fill="#fff" stroke="#d4d4d4" stroke-width="0.7"/>
<line x1="528.92" y1="380.00" x2="528.92" y2="366.28" stroke="#5a5a5a" stroke-width="0.8"/>
<line x1="526.72" y1="380.00" x2="531.12" y2="380.00" stroke="#5a5a5a" stroke-width="0.8"/>
<line x1="526.72" y1="366.28" x2="531.12" y2="366.28" stroke="#5a5a5a" stroke-width="0.8"/>
<circle cx="527.02" cy="380.49" r="1.65" fill="#0000ff"/>
<circle cx="528.92" cy="359.91" r="1.65" fill="#0000ff"/>
<circle cx="530.82" cy="379.26" r="1.65" fill="#0000ff"/>
<rect x="536.83" y="359.13" width="8.40" height="30.67" fill="#fff" stroke="#d4d4d4" stroke-width="0.7"/>
<line x1="541.03" y1="366.28" x2="541.03" y2="351.58" stroke="#5a5a5a" stroke-width="0.8"/>
<line x1="538.83" y1="366.28" x2="543.23" y2="366.28" stroke="#5a5a5a" stroke-width="0.8"/>
<line x1="538.83" y1="351.58" x2="543.23" y2="351.58" stroke="#5a5a5a" stroke-width="0.8"/>
<circle cx="539.13" cy="370.20" r="1.65" fill="#0000ff"/>
<circle cx="541.03" cy="344.23" r="1.65" fill="#0000ff"/>
<circle cx="542.93" cy="362.85" r="1.65" fill="#0000ff"/>
<circle cx="563.35" cy="389.56" r="1.65" fill="#0000ff"/>
<circle cx="565.25" cy="389.56" r="1.65" fill="#0000ff"/>
<circle cx="567.15" cy="389.56" r="1.65" fill="#0000ff"/>
<rect x="573.16" y="386.12" width="8.40" height="3.68" fill="#fff" stroke="#d4d4d4" stroke-width="0.7"/>
<line x1="577.36" y1="386.62" x2="577.36" y2="385.63" stroke="#5a5a5a" stroke-width="0.8"/>
<line x1="575.16" y1="386.62" x2="579.56" y2="386.62" stroke="#5a5a5a" stroke-width="0.8"/>
<line x1="575.16" y1="385.63" x2="579.56" y2="385.63" stroke="#5a5a5a" stroke-width="0.8"/>
<circle cx="575.46" cy="386.37" r="1.65" fill="#0000ff"/>
<circle cx="577.36" cy="385.88" r="1.65" fill="#0000ff"/>
<circle cx="579.26" cy="385.39" r="1.65" fill="#0000ff"/>
<rect x="585.27" y="383.19" width="8.40" height="6.62" fill="#fff" stroke="#d4d4d4" stroke-width="0.7"/>
<line x1="589.47" y1="384.90" x2="589.47" y2="381.47" stroke="#5a5a5a" stroke-width="0.8"/>
<line x1="587.27" y1="384.90" x2="591.67" y2="384.90" stroke="#5a5a5a" stroke-width="0.8"/>
<line x1="587.27" y1="381.47" x2="591.67" y2="381.47" stroke="#5a5a5a" stroke-width="0.8"/>
<circle cx="587.57" cy="385.39" r="1.65" fill="#0000ff"/>
<circle cx="589.47" cy="380.00" r="1.65" fill="#0000ff"/>
<circle cx="591.37" cy="382.20" r="1.65" fill="#0000ff"/>
<rect x="597.38" y="375.39" width="8.40" height="14.41" fill="#fff" stroke="#d4d4d4" stroke-width="0.7"/>
<line x1="601.58" y1="382.20" x2="601.58" y2="368.24" stroke="#5a5a5a" stroke-width="0.8"/>
<line x1="599.38" y1="382.20" x2="603.78" y2="382.20" stroke="#5a5a5a" stroke-width="0.8"/>
<line x1="599.38" y1="368.24" x2="603.78" y2="368.24" stroke="#5a5a5a" stroke-width="0.8"/>
<circle cx="599.68" cy="387.11" r="1.65" fill="#0000ff"/>
<circle cx="601.58" cy="363.34" r="1.65" fill="#0000ff"/>
<circle cx="603.48" cy="375.59" r="1.65" fill="#0000ff"/>
<rect x="621.60" y="389.06" width="8.40" height="0.74" fill="#fff" stroke="#d4d4d4" stroke-width="0.7"/>
<line x1="625.80" y1="389.56" x2="625.80" y2="388.57" stroke="#5a5a5a" stroke-width="0.8"/>
<line x1="623.60" y1="389.56" x2="628.00" y2="389.56" stroke="#5a5a5a" stroke-width="0.8"/>
<line x1="623.60" y1="388.57" x2="628.00" y2="388.57" stroke="#5a5a5a" stroke-width="0.8"/>
<circle cx="623.90" cy="389.56" r="1.65" fill="#0000ff"/>
<circle cx="625.80" cy="388.82" r="1.65" fill="#0000ff"/>
<circle cx="627.70" cy="389.06" r="1.65" fill="#0000ff"/>
<rect x="633.71" y="388.33" width="8.40" height="1.47" fill="#fff" stroke="#d4d4d4" stroke-width="0.7"/>
<line x1="637.91" y1="388.82" x2="637.91" y2="387.84" stroke="#5a5a5a" stroke-width="0.8"/>
<line x1="635.71" y1="388.82" x2="640.11" y2="388.82" stroke="#5a5a5a" stroke-width="0.8"/>
<line x1="635.71" y1="387.84" x2="640.11" y2="387.84" stroke="#5a5a5a" stroke-width="0.8"/>
<circle cx="636.01" cy="388.82" r="1.65" fill="#0000ff"/>
<circle cx="637.91" cy="387.84" r="1.65" fill="#0000ff"/>
<circle cx="639.81" cy="388.33" r="1.65" fill="#0000ff"/>
<rect x="645.82" y="383.63" width="8.40" height="6.17" fill="#fff" stroke="#d4d4d4" stroke-width="0.7"/>
<line x1="650.02" y1="388.33" x2="650.02" y2="379.02" stroke="#5a5a5a" stroke-width="0.8"/>
<line x1="647.82" y1="388.33" x2="652.22" y2="388.33" stroke="#5a5a5a" stroke-width="0.8"/>
<line x1="647.82" y1="379.02" x2="652.22" y2="379.02" stroke="#5a5a5a" stroke-width="0.8"/>
<circle cx="648.12" cy="389.31" r="1.65" fill="#0000ff"/>
<circle cx="650.02" cy="376.57" r="1.65" fill="#0000ff"/>
<circle cx="651.92" cy="384.41" r="1.65" fill="#0000ff"/>
<rect x="657.93" y="370.00" width="8.40" height="19.80" fill="#fff" stroke="#d4d4d4" stroke-width="0.7"/>
<line x1="662.13" y1="381.96" x2="662.13" y2="358.93" stroke="#5a5a5a" stroke-width="0.8"/>
<line x1="659.93" y1="381.96" x2="664.33" y2="381.96" stroke="#5a5a5a" stroke-width="0.8"/>
<line x1="659.93" y1="358.93" x2="664.33" y2="358.93" stroke="#5a5a5a" stroke-width="0.8"/>
<circle cx="660.23" cy="381.96" r="1.65" fill="#0000ff"/>
<circle cx="662.13" cy="358.93" r="1.65" fill="#0000ff"/>
<circle cx="664.03" cy="381.96" r="1.65" fill="#0000ff"/>
<line x1="375.40" y1="291.60" x2="375.40" y2="390.40" stroke="#1a1a1a" stroke-width="1.1"/>
<line x1="374.90" y1="389.80" x2="670.10" y2="389.80" stroke="#1a1a1a" stroke-width="1.4"/>
<line x1="373.20" y1="389.80" x2="375.40" y2="389.80" stroke="#1a1a1a" stroke-width="0.9"/>
<text x="373.00" y="392.10" font-size="6.6" text-anchor="end" fill="#222">0</text>
<line x1="373.20" y1="365.30" x2="375.40" y2="365.30" stroke="#1a1a1a" stroke-width="0.9"/>
<text x="373.00" y="367.60" font-size="6.6" text-anchor="end" fill="#222">50</text>
<line x1="373.20" y1="340.80" x2="375.40" y2="340.80" stroke="#1a1a1a" stroke-width="0.9"/>
<text x="373.00" y="343.10" font-size="6.6" text-anchor="end" fill="#222">100</text>
<line x1="373.20" y1="316.30" x2="375.40" y2="316.30" stroke="#1a1a1a" stroke-width="0.9"/>
<text x="373.00" y="318.60" font-size="6.6" text-anchor="end" fill="#222">150</text>
<line x1="373.20" y1="291.80" x2="375.40" y2="291.80" stroke="#1a1a1a" stroke-width="0.9"/>
<text x="373.00" y="294.10" font-size="6.6" text-anchor="end" fill="#222">200</text>
<line x1="383.60" y1="389.80" x2="383.60" y2="391.80" stroke="#1a1a1a" stroke-width="0.9"/>
<text x="385.30" y="398.20" font-size="7.4" text-anchor="end" fill="#222" transform="rotate(-45 385.30 398.20)">DOTAP20</text>
<line x1="395.71" y1="389.80" x2="395.71" y2="391.80" stroke="#1a1a1a" stroke-width="0.9"/>
<text x="397.41" y="398.20" font-size="7.4" text-anchor="end" fill="#222" transform="rotate(-45 397.41 398.20)">DOTAP30</text>
<line x1="407.82" y1="389.80" x2="407.82" y2="391.80" stroke="#1a1a1a" stroke-width="0.9"/>
<text x="409.52" y="398.20" font-size="7.4" text-anchor="end" fill="#222" transform="rotate(-45 409.52 398.20)">DOTAP40</text>
<line x1="419.93" y1="389.80" x2="419.93" y2="391.80" stroke="#1a1a1a" stroke-width="0.9"/>
<text x="421.63" y="398.20" font-size="7.4" text-anchor="end" fill="#222" transform="rotate(-45 421.63 398.20)">DOTAP50</text>
<line x1="444.15" y1="389.80" x2="444.15" y2="391.80" stroke="#1a1a1a" stroke-width="0.9"/>
<text x="445.85" y="398.20" font-size="7.4" text-anchor="end" fill="#222" transform="rotate(-45 445.85 398.20)">DDAB20</text>
<line x1="456.26" y1="389.80" x2="456.26" y2="391.80" stroke="#1a1a1a" stroke-width="0.9"/>
<text x="457.96" y="398.20" font-size="7.4" text-anchor="end" fill="#222" transform="rotate(-45 457.96 398.20)">DDAB30</text>
<line x1="468.37" y1="389.80" x2="468.37" y2="391.80" stroke="#1a1a1a" stroke-width="0.9"/>
<text x="470.07" y="398.20" font-size="7.4" text-anchor="end" fill="#222" transform="rotate(-45 470.07 398.20)">DDAB40</text>
<line x1="480.48" y1="389.80" x2="480.48" y2="391.80" stroke="#1a1a1a" stroke-width="0.9"/>
<text x="482.18" y="398.20" font-size="7.4" text-anchor="end" fill="#222" transform="rotate(-45 482.18 398.20)">DDAB50</text>
<line x1="504.70" y1="389.80" x2="504.70" y2="391.80" stroke="#1a1a1a" stroke-width="0.9"/>
<text x="506.40" y="398.20" font-size="7.4" text-anchor="end" fill="#222" transform="rotate(-45 506.40 398.20)">DOTMA20</text>
<line x1="516.81" y1="389.80" x2="516.81" y2="391.80" stroke="#1a1a1a" stroke-width="0.9"/>
<text x="518.51" y="398.20" font-size="7.4" text-anchor="end" fill="#222" transform="rotate(-45 518.51 398.20)">DOTMA30</text>
<line x1="528.92" y1="389.80" x2="528.92" y2="391.80" stroke="#1a1a1a" stroke-width="0.9"/>
<text x="530.62" y="398.20" font-size="7.4" text-anchor="end" fill="#222" transform="rotate(-45 530.62 398.20)">DOTMA40</text>
<line x1="541.03" y1="389.80" x2="541.03" y2="391.80" stroke="#1a1a1a" stroke-width="0.9"/>
<text x="542.73" y="398.20" font-size="7.4" text-anchor="end" fill="#222" transform="rotate(-45 542.73 398.20)">DOTMA50</text>
<line x1="565.25" y1="389.80" x2="565.25" y2="391.80" stroke="#1a1a1a" stroke-width="0.9"/>
<text x="566.95" y="398.20" font-size="7.4" text-anchor="end" fill="#222" transform="rotate(-45 566.95 398.20)">EPC20</text>
<line x1="577.36" y1="389.80" x2="577.36" y2="391.80" stroke="#1a1a1a" stroke-width="0.9"/>
<text x="579.06" y="398.20" font-size="7.4" text-anchor="end" fill="#222" transform="rotate(-45 579.06 398.20)">EPC30</text>
<line x1="589.47" y1="389.80" x2="589.47" y2="391.80" stroke="#1a1a1a" stroke-width="0.9"/>
<text x="591.17" y="398.20" font-size="7.4" text-anchor="end" fill="#222" transform="rotate(-45 591.17 398.20)">EPC40</text>
<line x1="601.58" y1="389.80" x2="601.58" y2="391.80" stroke="#1a1a1a" stroke-width="0.9"/>
<text x="603.28" y="398.20" font-size="7.4" text-anchor="end" fill="#222" transform="rotate(-45 603.28 398.20)">EPC50</text>
<line x1="625.80" y1="389.80" x2="625.80" y2="391.80" stroke="#1a1a1a" stroke-width="0.9"/>
<text x="627.50" y="398.20" font-size="7.4" text-anchor="end" fill="#222" transform="rotate(-45 627.50 398.20)">MVL5-20</text>
<line x1="637.91" y1="389.80" x2="637.91" y2="391.80" stroke="#1a1a1a" stroke-width="0.9"/>
<text x="639.61" y="398.20" font-size="7.4" text-anchor="end" fill="#222" transform="rotate(-45 639.61 398.20)">MVL5-30</text>
<line x1="650.02" y1="389.80" x2="650.02" y2="391.80" stroke="#1a1a1a" stroke-width="0.9"/>
<text x="651.72" y="398.20" font-size="7.4" text-anchor="end" fill="#222" transform="rotate(-45 651.72 398.20)">MVL5-40</text>
<line x1="662.13" y1="389.80" x2="662.13" y2="391.80" stroke="#1a1a1a" stroke-width="0.9"/>
<text x="663.83" y="398.20" font-size="7.4" text-anchor="end" fill="#222" transform="rotate(-45 663.83 398.20)">MVL5-50</text>
<line x1="432.04" y1="389.80" x2="432.04" y2="391.80" stroke="#1a1a1a" stroke-width="0.9"/>
<line x1="492.59" y1="389.80" x2="492.59" y2="391.80" stroke="#1a1a1a" stroke-width="0.9"/>
<line x1="553.14" y1="389.80" x2="553.14" y2="391.80" stroke="#1a1a1a" stroke-width="0.9"/>
<line x1="613.69" y1="389.80" x2="613.69" y2="391.80" stroke="#1a1a1a" stroke-width="0.9"/>
<circle cx="561.30" cy="298.00" r="1.6" fill="#0000ff"/>
<text x="573.00" y="301.10" font-size="8.6" fill="#222" textLength="38" lengthAdjust="spacingAndGlyphs">Lung/Liver</text>
<text x="353.60" y="341.80" font-size="8.1" text-anchor="middle" fill="#222" textLength="104" lengthAdjust="spacingAndGlyphs" transform="rotate(-90 353.60 341.80)">Avg Radiance [p/sec/cm<tspan dy="-3" font-size="5.2">2</tspan><tspan dy="3">/sr]</tspan></text>
<rect x="376.20" y="544.24" width="8.40" height="6.97" fill="#fff" stroke="#d4d4d4" stroke-width="0.7"/>
<line x1="380.40" y1="547.22" x2="380.40" y2="541.25" stroke="#5a5a5a" stroke-width="0.8"/>
<line x1="378.20" y1="547.22" x2="382.60" y2="547.22" stroke="#5a5a5a" stroke-width="0.8"/>
<line x1="378.20" y1="541.25" x2="382.60" y2="541.25" stroke="#5a5a5a" stroke-width="0.8"/>
<circle cx="378.50" cy="548.02" r="1.65" fill="#00cc00"/>
<circle cx="380.40" cy="539.26" r="1.65" fill="#00cc00"/>
<circle cx="382.30" cy="546.03" r="1.65" fill="#00cc00"/>
<rect x="388.55" y="538.07" width="8.40" height="13.13" fill="#fff" stroke="#d4d4d4" stroke-width="0.7"/>
<line x1="392.75" y1="539.66" x2="392.75" y2="536.47" stroke="#5a5a5a" stroke-width="0.8"/>
<line x1="390.55" y1="539.66" x2="394.95" y2="539.66" stroke="#5a5a5a" stroke-width="0.8"/>
<line x1="390.55" y1="536.47" x2="394.95" y2="536.47" stroke="#5a5a5a" stroke-width="0.8"/>
<circle cx="390.85" cy="536.28" r="1.65" fill="#00cc00"/>
<circle cx="392.75" cy="540.25" r="1.65" fill="#00cc00"/>
<circle cx="394.65" cy="536.67" r="1.65" fill="#00cc00"/>
<rect x="400.90" y="528.51" width="8.40" height="22.69" fill="#fff" stroke="#d4d4d4" stroke-width="0.7"/>
<line x1="405.10" y1="529.31" x2="405.10" y2="527.72" stroke="#5a5a5a" stroke-width="0.8"/>
<line x1="402.90" y1="529.31" x2="407.30" y2="529.31" stroke="#5a5a5a" stroke-width="0.8"/>
<line x1="402.90" y1="527.72" x2="407.30" y2="527.72" stroke="#5a5a5a" stroke-width="0.8"/>
<circle cx="403.20" cy="530.11" r="1.65" fill="#00cc00"/>
<circle cx="405.10" cy="526.72" r="1.65" fill="#00cc00"/>
<circle cx="407.00" cy="528.12" r="1.65" fill="#00cc00"/>
<rect x="413.25" y="497.87" width="8.40" height="53.33" fill="#fff" stroke="#d4d4d4" stroke-width="0.7"/>
<line x1="417.45" y1="517.37" x2="417.45" y2="478.37" stroke="#5a5a5a" stroke-width="0.8"/>
<line x1="415.25" y1="517.37" x2="419.65" y2="517.37" stroke="#5a5a5a" stroke-width="0.8"/>
<line x1="415.25" y1="478.37" x2="419.65" y2="478.37" stroke="#5a5a5a" stroke-width="0.8"/>
<circle cx="415.55" cy="521.35" r="1.65" fill="#00cc00"/>
<circle cx="417.45" cy="458.47" r="1.65" fill="#00cc00"/>
<circle cx="419.35" cy="514.19" r="1.65" fill="#00cc00"/>
<rect x="437.95" y="545.23" width="8.40" height="5.97" fill="#fff" stroke="#d4d4d4" stroke-width="0.7"/>
<line x1="442.15" y1="546.03" x2="442.15" y2="544.43" stroke="#5a5a5a" stroke-width="0.8"/>
<line x1="439.95" y1="546.03" x2="444.35" y2="546.03" stroke="#5a5a5a" stroke-width="0.8"/>
<line x1="439.95" y1="544.43" x2="444.35" y2="544.43" stroke="#5a5a5a" stroke-width="0.8"/>
<circle cx="440.25" cy="545.23" r="1.65" fill="#00cc00"/>
<circle cx="442.15" cy="542.44" r="1.65" fill="#00cc00"/>
<circle cx="444.05" cy="545.23" r="1.65" fill="#00cc00"/>
<rect x="450.30" y="516.57" width="8.40" height="34.63" fill="#fff" stroke="#d4d4d4" stroke-width="0.7"/>
<line x1="454.50" y1="519.76" x2="454.50" y2="512.99" stroke="#5a5a5a" stroke-width="0.8"/>
<line x1="452.30" y1="519.76" x2="456.70" y2="519.76" stroke="#5a5a5a" stroke-width="0.8"/>
<line x1="452.30" y1="512.99" x2="456.70" y2="512.99" stroke="#5a5a5a" stroke-width="0.8"/>
<circle cx="452.60" cy="522.94" r="1.65" fill="#00cc00"/>
<circle cx="454.50" cy="511.60" r="1.65" fill="#00cc00"/>
<circle cx="456.40" cy="515.58" r="1.65" fill="#00cc00"/>
<rect x="462.65" y="510.21" width="8.40" height="40.99" fill="#fff" stroke="#d4d4d4" stroke-width="0.7"/>
<line x1="466.85" y1="512.99" x2="466.85" y2="506.43" stroke="#5a5a5a" stroke-width="0.8"/>
<line x1="464.65" y1="512.99" x2="469.05" y2="512.99" stroke="#5a5a5a" stroke-width="0.8"/>
<line x1="464.65" y1="506.43" x2="469.05" y2="506.43" stroke="#5a5a5a" stroke-width="0.8"/>
<circle cx="464.95" cy="514.19" r="1.65" fill="#00cc00"/>
<circle cx="466.85" cy="503.24" r="1.65" fill="#00cc00"/>
<circle cx="468.75" cy="512.40" r="1.65" fill="#00cc00"/>
<rect x="475.00" y="513.99" width="8.40" height="37.21" fill="#fff" stroke="#d4d4d4" stroke-width="0.7"/>
<line x1="479.20" y1="519.36" x2="479.20" y2="508.22" stroke="#5a5a5a" stroke-width="0.8"/>
<line x1="477.00" y1="519.36" x2="481.40" y2="519.36" stroke="#5a5a5a" stroke-width="0.8"/>
<line x1="477.00" y1="508.22" x2="481.40" y2="508.22" stroke="#5a5a5a" stroke-width="0.8"/>
<circle cx="477.30" cy="523.54" r="1.65" fill="#00cc00"/>
<circle cx="479.20" cy="505.63" r="1.65" fill="#00cc00"/>
<circle cx="481.10" cy="512.20" r="1.65" fill="#00cc00"/>
<rect x="499.70" y="548.81" width="8.40" height="2.39" fill="#fff" stroke="#d4d4d4" stroke-width="0.7"/>
<circle cx="502.00" cy="549.61" r="1.65" fill="#00cc00"/>
<circle cx="503.90" cy="547.82" r="1.65" fill="#00cc00"/>
<circle cx="505.80" cy="549.21" r="1.65" fill="#00cc00"/>
<rect x="512.05" y="540.06" width="8.40" height="11.14" fill="#fff" stroke="#d4d4d4" stroke-width="0.7"/>
<line x1="516.25" y1="542.25" x2="516.25" y2="537.87" stroke="#5a5a5a" stroke-width="0.8"/>
<line x1="514.05" y1="542.25" x2="518.45" y2="542.25" stroke="#5a5a5a" stroke-width="0.8"/>
<line x1="514.05" y1="537.87" x2="518.45" y2="537.87" stroke="#5a5a5a" stroke-width="0.8"/>
<circle cx="514.35" cy="541.85" r="1.65" fill="#00cc00"/>
<circle cx="516.25" cy="535.88" r="1.65" fill="#00cc00"/>
<circle cx="518.15" cy="541.85" r="1.65" fill="#00cc00"/>
<rect x="524.40" y="528.71" width="8.40" height="22.49" fill="#fff" stroke="#d4d4d4" stroke-width="0.7"/>
<line x1="528.60" y1="532.89" x2="528.60" y2="525.33" stroke="#5a5a5a" stroke-width="0.8"/>
<line x1="526.40" y1="532.89" x2="530.80" y2="532.89" stroke="#5a5a5a" stroke-width="0.8"/>
<line x1="526.40" y1="525.33" x2="530.80" y2="525.33" stroke="#5a5a5a" stroke-width="0.8"/>
<circle cx="526.70" cy="532.10" r="1.65" fill="#00cc00"/>
<circle cx="528.60" cy="521.95" r="1.65" fill="#00cc00"/>
<circle cx="530.50" cy="532.89" r="1.65" fill="#00cc00"/>
<rect x="536.75" y="505.43" width="8.40" height="45.77" fill="#fff" stroke="#d4d4d4" stroke-width="0.7"/>
<line x1="540.95" y1="515.38" x2="540.95" y2="495.48" stroke="#5a5a5a" stroke-width="0.8"/>
<line x1="538.75" y1="515.38" x2="543.15" y2="515.38" stroke="#5a5a5a" stroke-width="0.8"/>
<line x1="538.75" y1="495.48" x2="543.15" y2="495.48" stroke="#5a5a5a" stroke-width="0.8"/>
<circle cx="539.05" cy="522.54" r="1.65" fill="#00cc00"/>
<circle cx="540.95" cy="488.52" r="1.65" fill="#00cc00"/>
<circle cx="542.85" cy="505.63" r="1.65" fill="#00cc00"/>
<rect x="561.45" y="549.61" width="8.40" height="1.59" fill="#fff" stroke="#d4d4d4" stroke-width="0.7"/>
<circle cx="563.75" cy="550.01" r="1.65" fill="#00cc00"/>
<circle cx="565.65" cy="549.21" r="1.65" fill="#00cc00"/>
<circle cx="567.55" cy="549.61" r="1.65" fill="#00cc00"/>
<rect x="573.80" y="544.63" width="8.40" height="6.57" fill="#fff" stroke="#d4d4d4" stroke-width="0.7"/>
<line x1="578.00" y1="545.63" x2="578.00" y2="543.44" stroke="#5a5a5a" stroke-width="0.8"/>
<line x1="575.80" y1="545.63" x2="580.20" y2="545.63" stroke="#5a5a5a" stroke-width="0.8"/>
<line x1="575.80" y1="543.44" x2="580.20" y2="543.44" stroke="#5a5a5a" stroke-width="0.8"/>
<circle cx="576.10" cy="544.24" r="1.65" fill="#00cc00"/>
<circle cx="578.00" cy="540.06" r="1.65" fill="#00cc00"/>
<circle cx="579.90" cy="543.44" r="1.65" fill="#00cc00"/>
<rect x="586.15" y="538.07" width="8.40" height="13.13" fill="#fff" stroke="#d4d4d4" stroke-width="0.7"/>
<line x1="590.35" y1="541.25" x2="590.35" y2="535.68" stroke="#5a5a5a" stroke-width="0.8"/>
<line x1="588.15" y1="541.25" x2="592.55" y2="541.25" stroke="#5a5a5a" stroke-width="0.8"/>
<line x1="588.15" y1="535.68" x2="592.55" y2="535.68" stroke="#5a5a5a" stroke-width="0.8"/>
<circle cx="588.45" cy="535.68" r="1.65" fill="#00cc00"/>
<circle cx="590.35" cy="543.64" r="1.65" fill="#00cc00"/>
<circle cx="592.25" cy="535.68" r="1.65" fill="#00cc00"/>
<rect x="598.50" y="537.07" width="8.40" height="14.13" fill="#fff" stroke="#d4d4d4" stroke-width="0.7"/>
<line x1="602.70" y1="541.25" x2="602.70" y2="533.09" stroke="#5a5a5a" stroke-width="0.8"/>
<line x1="600.50" y1="541.25" x2="604.90" y2="541.25" stroke="#5a5a5a" stroke-width="0.8"/>
<line x1="600.50" y1="533.09" x2="604.90" y2="533.09" stroke="#5a5a5a" stroke-width="0.8"/>
<circle cx="600.80" cy="544.63" r="1.65" fill="#00cc00"/>
<circle cx="602.70" cy="531.50" r="1.65" fill="#00cc00"/>
<circle cx="604.60" cy="535.68" r="1.65" fill="#00cc00"/>
<rect x="623.20" y="536.08" width="8.40" height="15.12" fill="#fff" stroke="#d4d4d4" stroke-width="0.7"/>
<line x1="627.40" y1="548.22" x2="627.40" y2="523.34" stroke="#5a5a5a" stroke-width="0.8"/>
<line x1="625.20" y1="548.22" x2="629.60" y2="548.22" stroke="#5a5a5a" stroke-width="0.8"/>
<line x1="625.20" y1="523.34" x2="629.60" y2="523.34" stroke="#5a5a5a" stroke-width="0.8"/>
<circle cx="625.50" cy="548.22" r="1.65" fill="#00cc00"/>
<circle cx="627.40" cy="511.00" r="1.65" fill="#00cc00"/>
<circle cx="629.30" cy="548.22" r="1.65" fill="#00cc00"/>
<rect x="635.55" y="525.33" width="8.40" height="25.87" fill="#fff" stroke="#d4d4d4" stroke-width="0.7"/>
<line x1="639.75" y1="529.31" x2="639.75" y2="520.75" stroke="#5a5a5a" stroke-width="0.8"/>
<line x1="637.55" y1="529.31" x2="641.95" y2="529.31" stroke="#5a5a5a" stroke-width="0.8"/>
<line x1="637.55" y1="520.75" x2="641.95" y2="520.75" stroke="#5a5a5a" stroke-width="0.8"/>
<circle cx="637.85" cy="529.31" r="1.65" fill="#00cc00"/>
<circle cx="639.75" cy="516.38" r="1.65" fill="#00cc00"/>
<circle cx="641.65" cy="529.31" r="1.65" fill="#00cc00"/>
<rect x="647.90" y="505.43" width="8.40" height="45.77" fill="#fff" stroke="#d4d4d4" stroke-width="0.7"/>
<line x1="652.10" y1="521.35" x2="652.10" y2="489.31" stroke="#5a5a5a" stroke-width="0.8"/>
<line x1="649.90" y1="521.35" x2="654.30" y2="521.35" stroke="#5a5a5a" stroke-width="0.8"/>
<line x1="649.90" y1="489.31" x2="654.30" y2="489.31" stroke="#5a5a5a" stroke-width="0.8"/>
<circle cx="650.20" cy="531.50" r="1.65" fill="#00cc00"/>
<circle cx="652.10" cy="475.98" r="1.65" fill="#00cc00"/>
<circle cx="654.00" cy="508.42" r="1.65" fill="#00cc00"/>
<rect x="660.25" y="548.22" width="8.40" height="2.99" fill="#fff" stroke="#d4d4d4" stroke-width="0.7"/>
<circle cx="662.55" cy="549.21" r="1.65" fill="#00cc00"/>
<circle cx="664.45" cy="546.62" r="1.65" fill="#00cc00"/>
<circle cx="666.35" cy="547.22" r="1.65" fill="#00cc00"/>
<line x1="371.30" y1="451.40" x2="371.30" y2="551.80" stroke="#1a1a1a" stroke-width="1.1"/>
<line x1="370.80" y1="551.20" x2="672.70" y2="551.20" stroke="#1a1a1a" stroke-width="1.4"/>
<line x1="369.10" y1="551.20" x2="371.30" y2="551.20" stroke="#1a1a1a" stroke-width="0.9"/>
<text x="368.90" y="553.50" font-size="6.6" text-anchor="end" fill="#222">0</text>
<line x1="369.10" y1="531.30" x2="371.30" y2="531.30" stroke="#1a1a1a" stroke-width="0.9"/>
<text x="368.90" y="533.60" font-size="6.6" text-anchor="end" fill="#222">10</text>
<line x1="369.10" y1="511.40" x2="371.30" y2="511.40" stroke="#1a1a1a" stroke-width="0.9"/>
<text x="368.90" y="513.70" font-size="6.6" text-anchor="end" fill="#222">20</text>
<line x1="369.10" y1="491.50" x2="371.30" y2="491.50" stroke="#1a1a1a" stroke-width="0.9"/>
<text x="368.90" y="493.80" font-size="6.6" text-anchor="end" fill="#222">30</text>
<line x1="369.10" y1="471.60" x2="371.30" y2="471.60" stroke="#1a1a1a" stroke-width="0.9"/>
<text x="368.90" y="473.90" font-size="6.6" text-anchor="end" fill="#222">40</text>
<line x1="369.10" y1="451.70" x2="371.30" y2="451.70" stroke="#1a1a1a" stroke-width="0.9"/>
<text x="368.90" y="454.00" font-size="6.6" text-anchor="end" fill="#222">50</text>
<line x1="380.40" y1="551.20" x2="380.40" y2="553.20" stroke="#1a1a1a" stroke-width="0.9"/>
<text x="382.10" y="559.60" font-size="7.4" text-anchor="end" fill="#222" transform="rotate(-45 382.10 559.60)">DOTAP20</text>
<line x1="392.75" y1="551.20" x2="392.75" y2="553.20" stroke="#1a1a1a" stroke-width="0.9"/>
<text x="394.45" y="559.60" font-size="7.4" text-anchor="end" fill="#222" transform="rotate(-45 394.45 559.60)">DOTAP30</text>
<line x1="405.10" y1="551.20" x2="405.10" y2="553.20" stroke="#1a1a1a" stroke-width="0.9"/>
<text x="406.80" y="559.60" font-size="7.4" text-anchor="end" fill="#222" transform="rotate(-45 406.80 559.60)">DOTAP40</text>
<line x1="417.45" y1="551.20" x2="417.45" y2="553.20" stroke="#1a1a1a" stroke-width="0.9"/>
<text x="419.15" y="559.60" font-size="7.4" text-anchor="end" fill="#222" transform="rotate(-45 419.15 559.60)">DOTAP50</text>
<line x1="442.15" y1="551.20" x2="442.15" y2="553.20" stroke="#1a1a1a" stroke-width="0.9"/>
<text x="443.85" y="559.60" font-size="7.4" text-anchor="end" fill="#222" transform="rotate(-45 443.85 559.60)">DDAB20</text>
<line x1="454.50" y1="551.20" x2="454.50" y2="553.20" stroke="#1a1a1a" stroke-width="0.9"/>
<text x="456.20" y="559.60" font-size="7.4" text-anchor="end" fill="#222" transform="rotate(-45 456.20 559.60)">DDAB30</text>
<line x1="466.85" y1="551.20" x2="466.85" y2="553.20" stroke="#1a1a1a" stroke-width="0.9"/>
<text x="468.55" y="559.60" font-size="7.4" text-anchor="end" fill="#222" transform="rotate(-45 468.55 559.60)">DDAB40</text>
<line x1="479.20" y1="551.20" x2="479.20" y2="553.20" stroke="#1a1a1a" stroke-width="0.9"/>
<text x="480.90" y="559.60" font-size="7.4" text-anchor="end" fill="#222" transform="rotate(-45 480.90 559.60)">DDAB50</text>
<line x1="503.90" y1="551.20" x2="503.90" y2="553.20" stroke="#1a1a1a" stroke-width="0.9"/>
<text x="505.60" y="559.60" font-size="7.4" text-anchor="end" fill="#222" transform="rotate(-45 505.60 559.60)">DOTMA20</text>
<line x1="516.25" y1="551.20" x2="516.25" y2="553.20" stroke="#1a1a1a" stroke-width="0.9"/>
<text x="517.95" y="559.60" font-size="7.4" text-anchor="end" fill="#222" transform="rotate(-45 517.95 559.60)">DOTMA30</text>
<line x1="528.60" y1="551.20" x2="528.60" y2="553.20" stroke="#1a1a1a" stroke-width="0.9"/>
<text x="530.30" y="559.60" font-size="7.4" text-anchor="end" fill="#222" transform="rotate(-45 530.30 559.60)">DOTMA40</text>
<line x1="540.95" y1="551.20" x2="540.95" y2="553.20" stroke="#1a1a1a" stroke-width="0.9"/>
<text x="542.65" y="559.60" font-size="7.4" text-anchor="end" fill="#222" transform="rotate(-45 542.65 559.60)">DOTMA50</text>
<line x1="565.65" y1="551.20" x2="565.65" y2="553.20" stroke="#1a1a1a" stroke-width="0.9"/>
<text x="567.35" y="559.60" font-size="7.4" text-anchor="end" fill="#222" transform="rotate(-45 567.35 559.60)">EPC20</text>
<line x1="578.00" y1="551.20" x2="578.00" y2="553.20" stroke="#1a1a1a" stroke-width="0.9"/>
<text x="579.70" y="559.60" font-size="7.4" text-anchor="end" fill="#222" transform="rotate(-45 579.70 559.60)">EPC30</text>
<line x1="590.35" y1="551.20" x2="590.35" y2="553.20" stroke="#1a1a1a" stroke-width="0.9"/>
<text x="592.05" y="559.60" font-size="7.4" text-anchor="end" fill="#222" transform="rotate(-45 592.05 559.60)">EPC40</text>
<line x1="602.70" y1="551.20" x2="602.70" y2="553.20" stroke="#1a1a1a" stroke-width="0.9"/>
<text x="604.40" y="559.60" font-size="7.4" text-anchor="end" fill="#222" transform="rotate(-45 604.40 559.60)">EPC50</text>
<line x1="627.40" y1="551.20" x2="627.40" y2="553.20" stroke="#1a1a1a" stroke-width="0.9"/>
<text x="629.10" y="559.60" font-size="7.4" text-anchor="end" fill="#222" transform="rotate(-45 629.10 559.60)">MVL5-20</text>
<line x1="639.75" y1="551.20" x2="639.75" y2="553.20" stroke="#1a1a1a" stroke-width="0.9"/>
<text x="641.45" y="559.60" font-size="7.4" text-anchor="end" fill="#222" transform="rotate(-45 641.45 559.60)">MVL5-30</text>
<line x1="652.10" y1="551.20" x2="652.10" y2="553.20" stroke="#1a1a1a" stroke-width="0.9"/>
<text x="653.80" y="559.60" font-size="7.4" text-anchor="end" fill="#222" transform="rotate(-45 653.80 559.60)">MVL5-40</text>
<line x1="664.45" y1="551.20" x2="664.45" y2="553.20" stroke="#1a1a1a" stroke-width="0.9"/>
<text x="666.15" y="559.60" font-size="7.4" text-anchor="end" fill="#222" transform="rotate(-45 666.15 559.60)">MVL5-50</text>
<line x1="429.80" y1="551.20" x2="429.80" y2="553.20" stroke="#1a1a1a" stroke-width="0.9"/>
<line x1="491.55" y1="551.20" x2="491.55" y2="553.20" stroke="#1a1a1a" stroke-width="0.9"/>
<line x1="553.30" y1="551.20" x2="553.30" y2="553.20" stroke="#1a1a1a" stroke-width="0.9"/>
<line x1="615.05" y1="551.20" x2="615.05" y2="553.20" stroke="#1a1a1a" stroke-width="0.9"/>
<circle cx="545.40" cy="457.50" r="1.6" fill="#00cc00"/>
<text x="557.70" y="460.60" font-size="8.6" fill="#222" textLength="48" lengthAdjust="spacingAndGlyphs">Lung/Spleen</text>
<text x="354.00" y="501.80" font-size="8.1" text-anchor="middle" fill="#222" textLength="106" lengthAdjust="spacingAndGlyphs" transform="rotate(-90 354.00 501.80)">Avg Radiance [p/sec/cm<tspan dy="-3" font-size="5.2">2</tspan><tspan dy="3">/sr]</tspan></text>
<text x="5.50" y="616.50" font-size="14" font-weight="bold">g</text>
<line x1="37.20" y1="624.10" x2="37.20" y2="719.80" stroke="#333" stroke-width="0.9"/>
<line x1="37.20" y1="719.30" x2="131.50" y2="719.30" stroke="#333" stroke-width="0.9"/>
<line x1="35.20" y1="719.30" x2="37.20" y2="719.30" stroke="#333" stroke-width="0.8"/>
<text x="34.80" y="721.80" font-size="7.2" text-anchor="end" fill="#222">0</text>
<line x1="35.20" y1="700.32" x2="37.20" y2="700.32" stroke="#333" stroke-width="0.8"/>
<text x="34.80" y="702.82" font-size="7.2" text-anchor="end" fill="#222">20</text>
<line x1="35.20" y1="681.34" x2="37.20" y2="681.34" stroke="#333" stroke-width="0.8"/>
<text x="34.80" y="683.84" font-size="7.2" text-anchor="end" fill="#222">40</text>
<line x1="35.20" y1="662.36" x2="37.20" y2="662.36" stroke="#333" stroke-width="0.8"/>
<text x="34.80" y="664.86" font-size="7.2" text-anchor="end" fill="#222">60</text>
<line x1="35.20" y1="643.38" x2="37.20" y2="643.38" stroke="#333" stroke-width="0.8"/>
<text x="34.80" y="645.88" font-size="7.2" text-anchor="end" fill="#222">80</text>
<line x1="35.20" y1="624.40" x2="37.20" y2="624.40" stroke="#333" stroke-width="0.8"/>
<text x="34.80" y="626.90" font-size="7.2" text-anchor="end" fill="#222">100</text>
<line x1="49.30" y1="719.30" x2="49.30" y2="721.30" stroke="#333" stroke-width="0.8"/>
<line x1="72.80" y1="719.30" x2="72.80" y2="721.30" stroke="#333" stroke-width="0.8"/>
<line x1="96.50" y1="719.30" x2="96.50" y2="721.30" stroke="#333" stroke-width="0.8"/>
<line x1="120.30" y1="719.30" x2="120.30" y2="721.30" stroke="#333" stroke-width="0.8"/>
<text x="40.70" y="632.10" font-size="10.6" fill="#111" textLength="18.3" lengthAdjust="spacingAndGlyphs">ALT</text>
<circle cx="43.30" cy="697.66" r="2.0" fill="#111"/>
<circle cx="43.30" cy="705.16" r="2.0" fill="#111"/>
<circle cx="49.40" cy="702.22" r="2.0" fill="#111"/>
<circle cx="55.30" cy="699.18" r="2.0" fill="#111"/>
<circle cx="55.30" cy="703.74" r="2.0" fill="#111"/>
<line x1="41.82" y1="701.65" x2="56.82" y2="701.65" stroke="#999" stroke-width="0.9"/>
<line x1="49.32" y1="703.36" x2="49.32" y2="699.94" stroke="#999" stroke-width="0.8"/>
<line x1="45.82" y1="703.36" x2="52.82" y2="703.36" stroke="#999" stroke-width="0.8"/>
<line x1="45.82" y1="699.94" x2="52.82" y2="699.94" stroke="#999" stroke-width="0.8"/>
<circle cx="67.10" cy="695.48" r="2.0" fill="#ff1a1a"/>
<circle cx="70.70" cy="699.56" r="2.0" fill="#ff1a1a"/>
<circle cx="74.80" cy="692.92" r="2.0" fill="#ff1a1a"/>
<circle cx="74.80" cy="696.52" r="2.0" fill="#ff1a1a"/>
<circle cx="78.90" cy="693.96" r="2.0" fill="#ff1a1a"/>
<line x1="65.76" y1="695.57" x2="80.76" y2="695.57" stroke="#999" stroke-width="0.9"/>
<line x1="73.26" y1="696.90" x2="73.26" y2="694.25" stroke="#999" stroke-width="0.8"/>
<line x1="69.76" y1="696.90" x2="76.76" y2="696.90" stroke="#999" stroke-width="0.8"/>
<line x1="69.76" y1="694.25" x2="76.76" y2="694.25" stroke="#999" stroke-width="0.8"/>
<circle cx="90.40" cy="701.08" r="2.0" fill="#18c818"/>
<circle cx="93.90" cy="699.09" r="2.0" fill="#18c818"/>
<circle cx="96.50" cy="693.96" r="2.0" fill="#18c818"/>
<circle cx="98.60" cy="701.08" r="2.0" fill="#18c818"/>
<circle cx="102.60" cy="700.32" r="2.0" fill="#18c818"/>
<line x1="88.90" y1="699.09" x2="103.90" y2="699.09" stroke="#999" stroke-width="0.9"/>
<line x1="96.40" y1="700.32" x2="96.40" y2="697.85" stroke="#999" stroke-width="0.8"/>
<line x1="92.90" y1="700.32" x2="99.90" y2="700.32" stroke="#999" stroke-width="0.8"/>
<line x1="92.90" y1="697.85" x2="99.90" y2="697.85" stroke="#999" stroke-width="0.8"/>
<circle cx="120.30" cy="636.93" r="2.0" fill="#1010ee"/>
<circle cx="120.30" cy="645.47" r="2.0" fill="#1010ee"/>
<circle cx="120.30" cy="672.04" r="2.0" fill="#1010ee"/>
<circle cx="120.30" cy="677.45" r="2.0" fill="#1010ee"/>
<circle cx="120.30" cy="693.77" r="2.0" fill="#1010ee"/>
<line x1="112.80" y1="665.21" x2="127.80" y2="665.21" stroke="#999" stroke-width="0.9"/>
<line x1="120.30" y1="676.03" x2="120.30" y2="654.39" stroke="#999" stroke-width="0.8"/>
<line x1="116.80" y1="676.03" x2="123.80" y2="676.03" stroke="#999" stroke-width="0.8"/>
<line x1="116.80" y1="654.39" x2="123.80" y2="654.39" stroke="#999" stroke-width="0.8"/>
<text x="20.60" y="667.00" font-size="7.8" text-anchor="middle" fill="#222" transform="rotate(-90 20.60 667.00)">U/L</text>
<text x="43.30" y="676.20" font-size="7.2" fill="#222" textLength="30.9" lengthAdjust="spacingAndGlyphs">P=0.0109</text>
<line x1="41.70" y1="685.20" x2="78.70" y2="685.20" stroke="#999" stroke-width="0.7"/>
<polygon points="59.60,680.30 60.05,681.38 61.22,681.47 60.33,682.24 60.60,683.38 59.60,682.76 58.60,683.38 58.87,682.24 57.98,681.47 59.15,681.38" fill="#222"/>
<text x="49.90" y="727.30" font-size="7.0" text-anchor="end" fill="#222" transform="rotate(-30 49.90 727.30)">PBS</text>
<text x="73.40" y="727.30" font-size="7.0" text-anchor="end" fill="#222" transform="rotate(-30 73.40 727.30)">DDAB30</text>
<text x="97.10" y="727.30" font-size="7.0" text-anchor="end" fill="#222" transform="rotate(-30 97.10 727.30)">DOTAP40</text>
<text x="120.90" y="727.30" font-size="7.0" text-anchor="end" fill="#222" transform="rotate(-30 120.90 727.30)">LPS</text>
<line x1="165.60" y1="626.10" x2="165.60" y2="721.80" stroke="#333" stroke-width="0.9"/>
<line x1="165.60" y1="721.30" x2="259.70" y2="721.30" stroke="#333" stroke-width="0.9"/>
<line x1="163.60" y1="721.30" x2="165.60" y2="721.30" stroke="#333" stroke-width="0.8"/>
<text x="163.20" y="723.80" font-size="7.2" text-anchor="end" fill="#222">0</text>
<line x1="163.60" y1="697.63" x2="165.60" y2="697.63" stroke="#333" stroke-width="0.8"/>
<text x="163.20" y="700.13" font-size="7.2" text-anchor="end" fill="#222">100</text>
<line x1="163.60" y1="673.96" x2="165.60" y2="673.96" stroke="#333" stroke-width="0.8"/>
<text x="163.20" y="676.46" font-size="7.2" text-anchor="end" fill="#222">200</text>
<line x1="163.60" y1="650.29" x2="165.60" y2="650.29" stroke="#333" stroke-width="0.8"/>
<text x="163.20" y="652.79" font-size="7.2" text-anchor="end" fill="#222">300</text>
<line x1="163.60" y1="626.62" x2="165.60" y2="626.62" stroke="#333" stroke-width="0.8"/>
<text x="163.20" y="629.12" font-size="7.2" text-anchor="end" fill="#222">400</text>
<line x1="177.40" y1="721.30" x2="177.40" y2="723.30" stroke="#333" stroke-width="0.8"/>
<line x1="200.70" y1="721.30" x2="200.70" y2="723.30" stroke="#333" stroke-width="0.8"/>
<line x1="224.10" y1="721.30" x2="224.10" y2="723.30" stroke="#333" stroke-width="0.8"/>
<line x1="247.90" y1="721.30" x2="247.90" y2="723.30" stroke="#333" stroke-width="0.8"/>
<text x="168.20" y="634.10" font-size="10.6" fill="#111" textLength="20.8" lengthAdjust="spacingAndGlyphs">AST</text>
<circle cx="171.30" cy="710.65" r="2.0" fill="#111"/>
<circle cx="174.30" cy="709.46" r="2.0" fill="#111"/>
<circle cx="177.40" cy="710.65" r="2.0" fill="#111"/>
<circle cx="180.40" cy="708.99" r="2.0" fill="#111"/>
<circle cx="183.50" cy="711.36" r="2.0" fill="#111"/>
<line x1="169.88" y1="710.41" x2="184.88" y2="710.41" stroke="#111" stroke-width="0.9"/>
<line x1="177.38" y1="710.89" x2="177.38" y2="709.94" stroke="#111" stroke-width="0.8"/>
<line x1="173.88" y1="710.89" x2="180.88" y2="710.89" stroke="#111" stroke-width="0.8"/>
<line x1="173.88" y1="709.94" x2="180.88" y2="709.94" stroke="#111" stroke-width="0.8"/>
<circle cx="194.50" cy="698.34" r="2.0" fill="#ff1a1a"/>
<circle cx="200.70" cy="696.45" r="2.0" fill="#ff1a1a"/>
<circle cx="200.70" cy="689.35" r="2.0" fill="#ff1a1a"/>
<circle cx="200.70" cy="685.79" r="2.0" fill="#ff1a1a"/>
<circle cx="206.90" cy="698.81" r="2.0" fill="#ff1a1a"/>
<line x1="193.20" y1="693.89" x2="208.20" y2="693.89" stroke="#111" stroke-width="0.9"/>
<line x1="200.70" y1="695.97" x2="200.70" y2="691.48" stroke="#111" stroke-width="0.8"/>
<line x1="197.20" y1="695.97" x2="204.20" y2="695.97" stroke="#111" stroke-width="0.8"/>
<line x1="197.20" y1="691.48" x2="204.20" y2="691.48" stroke="#111" stroke-width="0.8"/>
<circle cx="218.00" cy="707.10" r="2.0" fill="#18c818"/>
<circle cx="221.00" cy="702.84" r="2.0" fill="#18c818"/>
<circle cx="224.10" cy="705.20" r="2.0" fill="#18c818"/>
<circle cx="227.20" cy="706.62" r="2.0" fill="#18c818"/>
<circle cx="230.30" cy="707.10" r="2.0" fill="#18c818"/>
<line x1="216.62" y1="705.68" x2="231.62" y2="705.68" stroke="#111" stroke-width="0.9"/>
<line x1="224.12" y1="706.62" x2="224.12" y2="704.73" stroke="#111" stroke-width="0.8"/>
<line x1="220.62" y1="706.62" x2="227.62" y2="706.62" stroke="#111" stroke-width="0.8"/>
<line x1="220.62" y1="704.73" x2="227.62" y2="704.73" stroke="#111" stroke-width="0.8"/>
<circle cx="247.90" cy="637.27" r="2.0" fill="#1010ee"/>
<circle cx="247.90" cy="675.62" r="2.0" fill="#1010ee"/>
<circle cx="247.90" cy="680.35" r="2.0" fill="#1010ee"/>
<circle cx="247.90" cy="686.27" r="2.0" fill="#1010ee"/>
<circle cx="247.90" cy="696.68" r="2.0" fill="#1010ee"/>
<line x1="240.40" y1="675.38" x2="255.40" y2="675.38" stroke="#999" stroke-width="0.9"/>
<line x1="247.90" y1="685.32" x2="247.90" y2="665.44" stroke="#999" stroke-width="0.8"/>
<line x1="244.40" y1="685.32" x2="251.40" y2="685.32" stroke="#999" stroke-width="0.8"/>
<line x1="244.40" y1="665.44" x2="251.40" y2="665.44" stroke="#999" stroke-width="0.8"/>
<text x="146.20" y="670.00" font-size="7.8" text-anchor="middle" fill="#222" transform="rotate(-90 146.20 670.00)">U/L</text>
<text x="186.50" y="642.20" font-size="7.2" fill="#222" textLength="30.9" lengthAdjust="spacingAndGlyphs">P=0.0035</text>
<polygon points="199.20,646.10 199.65,647.18 200.82,647.27 199.93,648.04 200.20,649.18 199.20,648.56 198.20,649.18 198.47,648.04 197.58,647.27 198.75,647.18" fill="#222"/>
<polygon points="204.30,646.10 204.75,647.18 205.92,647.27 205.03,648.04 205.30,649.18 204.30,648.56 203.30,649.18 203.57,648.04 202.68,647.27 203.85,647.18" fill="#222"/>
<line x1="170.70" y1="651.20" x2="230.20" y2="651.20" stroke="#999" stroke-width="0.7"/>
<text x="171.30" y="672.70" font-size="7.2" fill="#222" textLength="30.9" lengthAdjust="spacingAndGlyphs">P=0.0002</text>
<polygon points="182.40,676.70 182.85,677.78 184.02,677.87 183.13,678.64 183.40,679.78 182.40,679.16 181.40,679.78 181.67,678.64 180.78,677.87 181.95,677.78" fill="#222"/>
<polygon points="187.50,676.70 187.95,677.78 189.12,677.87 188.23,678.64 188.50,679.78 187.50,679.16 186.50,679.78 186.77,678.64 185.88,677.87 187.05,677.78" fill="#222"/>
<polygon points="192.40,676.70 192.85,677.78 194.02,677.87 193.13,678.64 193.40,679.78 192.40,679.16 191.40,679.78 191.67,678.64 190.78,677.87 191.95,677.78" fill="#222"/>
<line x1="169.20" y1="681.30" x2="206.20" y2="681.30" stroke="#999" stroke-width="0.7"/>
<text x="178.00" y="729.30" font-size="7.0" text-anchor="end" fill="#222" transform="rotate(-30 178.00 729.30)">PBS</text>
<text x="201.30" y="729.30" font-size="7.0" text-anchor="end" fill="#222" transform="rotate(-30 201.30 729.30)">DDAB30</text>
<text x="224.70" y="729.30" font-size="7.0" text-anchor="end" fill="#222" transform="rotate(-30 224.70 729.30)">DOTAP40</text>
<text x="248.50" y="729.30" font-size="7.0" text-anchor="end" fill="#222" transform="rotate(-30 248.50 729.30)">LPS</text>
<text x="256.20" y="616.30" font-size="14" font-weight="bold">h</text>
<line x1="294.20" y1="624.90" x2="294.20" y2="720.70" stroke="#333" stroke-width="0.9"/>
<line x1="294.20" y1="720.20" x2="389.90" y2="720.20" stroke="#333" stroke-width="0.9"/>
<line x1="292.20" y1="625.10" x2="294.20" y2="625.10" stroke="#333" stroke-width="0.8"/>
<text x="291.60" y="627.50" font-size="7.0" text-anchor="end" fill="#222">1.1</text>
<line x1="292.20" y1="656.80" x2="294.20" y2="656.80" stroke="#333" stroke-width="0.8"/>
<text x="291.60" y="659.20" font-size="7.0" text-anchor="end" fill="#222">1.0</text>
<line x1="292.20" y1="688.50" x2="294.20" y2="688.50" stroke="#333" stroke-width="0.8"/>
<text x="291.60" y="690.90" font-size="7.0" text-anchor="end" fill="#222">0.9</text>
<line x1="292.20" y1="720.20" x2="294.20" y2="720.20" stroke="#333" stroke-width="0.8"/>
<text x="291.60" y="722.60" font-size="7.0" text-anchor="end" fill="#222">0.8</text>
<line x1="302.60" y1="720.20" x2="302.60" y2="722.20" stroke="#333" stroke-width="0.8"/>
<text x="302.60" y="730.30" font-size="7.2" text-anchor="middle" fill="#222">0</text>
<line x1="318.50" y1="720.20" x2="318.50" y2="722.20" stroke="#333" stroke-width="0.8"/>
<text x="318.50" y="730.30" font-size="7.2" text-anchor="middle" fill="#222">1</text>
<line x1="334.40" y1="720.20" x2="334.40" y2="722.20" stroke="#333" stroke-width="0.8"/>
<text x="334.40" y="730.30" font-size="7.2" text-anchor="middle" fill="#222">2</text>
<line x1="350.30" y1="720.20" x2="350.30" y2="722.20" stroke="#333" stroke-width="0.8"/>
<text x="350.30" y="730.30" font-size="7.2" text-anchor="middle" fill="#222">3</text>
<line x1="366.20" y1="720.20" x2="366.20" y2="722.20" stroke="#333" stroke-width="0.8"/>
<text x="366.20" y="730.30" font-size="7.2" text-anchor="middle" fill="#222">4</text>
<line x1="382.10" y1="720.20" x2="382.10" y2="722.20" stroke="#333" stroke-width="0.8"/>
<text x="382.10" y="730.30" font-size="7.2" text-anchor="middle" fill="#222">5</text>
<text x="341.90" y="742.40" font-size="7.8" fill="#222" textLength="17.3" lengthAdjust="spacingAndGlyphs">Days</text>
<text x="276.30" y="672.50" font-size="8.0" text-anchor="middle" fill="#222" textLength="88" lengthAdjust="spacingAndGlyphs" transform="rotate(-90 276.30 672.50)">Normalized Body Weight</text>
<polyline points="302.60,656.80 318.50,658.38 334.40,658.07 350.30,656.17 366.20,654.58 382.10,655.53" fill="none" stroke="#111" stroke-width="0.9"/>
<circle cx="302.60" cy="656.80" r="1.1" fill="#111"/>
<circle cx="318.50" cy="658.38" r="1.1" fill="#111"/>
<line x1="318.50" y1="658.38" x2="318.50" y2="654.90" stroke="#111" stroke-width="0.8"/>
<line x1="316.90" y1="654.90" x2="320.10" y2="654.90" stroke="#111" stroke-width="0.8"/>
<circle cx="334.40" cy="658.07" r="1.1" fill="#111"/>
<line x1="334.40" y1="658.07" x2="334.40" y2="653.95" stroke="#111" stroke-width="0.8"/>
<line x1="332.80" y1="653.95" x2="336.00" y2="653.95" stroke="#111" stroke-width="0.8"/>
<circle cx="350.30" cy="656.17" r="1.1" fill="#111"/>
<line x1="350.30" y1="656.17" x2="350.30" y2="653.31" stroke="#111" stroke-width="0.8"/>
<line x1="348.70" y1="653.31" x2="351.90" y2="653.31" stroke="#111" stroke-width="0.8"/>
<circle cx="366.20" cy="654.58" r="1.1" fill="#111"/>
<line x1="366.20" y1="654.58" x2="366.20" y2="653.31" stroke="#111" stroke-width="0.8"/>
<line x1="364.60" y1="653.31" x2="367.80" y2="653.31" stroke="#111" stroke-width="0.8"/>
<circle cx="382.10" cy="655.53" r="1.1" fill="#111"/>
<line x1="382.10" y1="655.53" x2="382.10" y2="653.63" stroke="#111" stroke-width="0.8"/>
<line x1="380.50" y1="653.63" x2="383.70" y2="653.63" stroke="#111" stroke-width="0.8"/>
<polyline points="302.60,656.80 318.50,683.74 334.40,675.50 350.30,666.31 366.20,655.22 382.10,659.97" fill="none" stroke="#ff3030" stroke-width="0.9"/>
<circle cx="302.60" cy="656.80" r="1.1" fill="#ff3030"/>
<circle cx="318.50" cy="683.74" r="1.1" fill="#ff3030"/>
<line x1="318.50" y1="683.74" x2="318.50" y2="679.62" stroke="#ff3030" stroke-width="0.8"/>
<line x1="316.90" y1="679.62" x2="320.10" y2="679.62" stroke="#ff3030" stroke-width="0.8"/>
<circle cx="334.40" cy="675.50" r="1.1" fill="#ff3030"/>
<line x1="334.40" y1="675.50" x2="334.40" y2="670.43" stroke="#ff3030" stroke-width="0.8"/>
<line x1="332.80" y1="670.43" x2="336.00" y2="670.43" stroke="#ff3030" stroke-width="0.8"/>
<circle cx="350.30" cy="666.31" r="1.1" fill="#ff3030"/>
<line x1="350.30" y1="666.31" x2="350.30" y2="659.65" stroke="#ff3030" stroke-width="0.8"/>
<line x1="348.70" y1="659.65" x2="351.90" y2="659.65" stroke="#ff3030" stroke-width="0.8"/>
<circle cx="366.20" cy="655.22" r="1.1" fill="#ff3030"/>
<circle cx="382.10" cy="659.97" r="1.1" fill="#ff3030"/>
<polyline points="302.60,656.80 318.50,671.70 334.40,658.07 350.30,650.46 366.20,649.19 382.10,652.68" fill="none" stroke="#20c020" stroke-width="0.9"/>
<circle cx="302.60" cy="656.80" r="1.1" fill="#20c020"/>
<circle cx="318.50" cy="671.70" r="1.1" fill="#20c020"/>
<line x1="318.50" y1="671.70" x2="318.50" y2="667.58" stroke="#20c020" stroke-width="0.8"/>
<line x1="316.90" y1="667.58" x2="320.10" y2="667.58" stroke="#20c020" stroke-width="0.8"/>
<circle cx="334.40" cy="658.07" r="1.1" fill="#20c020"/>
<circle cx="350.30" cy="650.46" r="1.1" fill="#20c020"/>
<line x1="350.30" y1="650.46" x2="350.30" y2="648.56" stroke="#20c020" stroke-width="0.8"/>
<line x1="348.70" y1="648.56" x2="351.90" y2="648.56" stroke="#20c020" stroke-width="0.8"/>
<circle cx="366.20" cy="649.19" r="1.1" fill="#20c020"/>
<line x1="366.20" y1="649.19" x2="366.20" y2="646.97" stroke="#20c020" stroke-width="0.8"/>
<line x1="364.60" y1="646.97" x2="367.80" y2="646.97" stroke="#20c020" stroke-width="0.8"/>
<circle cx="382.10" cy="652.68" r="1.1" fill="#20c020"/>
<line x1="382.10" y1="652.68" x2="382.10" y2="649.83" stroke="#20c020" stroke-width="0.8"/>
<line x1="380.50" y1="649.83" x2="383.70" y2="649.83" stroke="#20c020" stroke-width="0.8"/>
<polyline points="302.60,656.80 318.50,693.25 334.40,704.67" fill="none" stroke="#1010ee" stroke-width="0.9"/>
<circle cx="302.60" cy="656.80" r="1.1" fill="#1010ee"/>
<circle cx="318.50" cy="693.25" r="1.1" fill="#1010ee"/>
<line x1="318.50" y1="693.25" x2="318.50" y2="690.08" stroke="#1010ee" stroke-width="0.8"/>
<line x1="316.90" y1="690.08" x2="320.10" y2="690.08" stroke="#1010ee" stroke-width="0.8"/>
<circle cx="334.40" cy="704.67" r="1.1" fill="#1010ee"/>
<line x1="334.40" y1="704.67" x2="334.40" y2="699.28" stroke="#1010ee" stroke-width="0.8"/>
<line x1="332.80" y1="699.28" x2="336.00" y2="699.28" stroke="#1010ee" stroke-width="0.8"/>
<line x1="299.60" y1="627.00" x2="309.80" y2="627.00" stroke="#111" stroke-width="0.9"/>
<circle cx="304.70" cy="627.00" r="1.1" fill="#111"/>
<text x="315.70" y="629.30" font-size="6.6" fill="#222" textLength="12.3" lengthAdjust="spacingAndGlyphs">PBS</text>
<line x1="299.60" y1="638.20" x2="309.80" y2="638.20" stroke="#ff3030" stroke-width="0.9"/>
<circle cx="304.70" cy="638.20" r="1.1" fill="#ff3030"/>
<text x="315.70" y="640.50" font-size="6.6" fill="#222" textLength="24.5" lengthAdjust="spacingAndGlyphs">DDAB30</text>
<line x1="353.50" y1="627.00" x2="363.70" y2="627.00" stroke="#20c020" stroke-width="0.9"/>
<circle cx="358.60" cy="627.00" r="1.1" fill="#20c020"/>
<text x="369.60" y="629.30" font-size="6.6" fill="#222" textLength="29" lengthAdjust="spacingAndGlyphs">DOTAP40</text>
<line x1="353.50" y1="638.20" x2="363.70" y2="638.20" stroke="#1010ee" stroke-width="0.9"/>
<circle cx="358.60" cy="638.20" r="1.1" fill="#1010ee"/>
<text x="369.60" y="640.50" font-size="6.6" fill="#222" textLength="12.3" lengthAdjust="spacingAndGlyphs">LPS</text>
<text x="408.60" y="616.00" font-size="14" font-weight="bold">i</text>
<line x1="430.00" y1="623.40" x2="430.00" y2="719.00" stroke="#b8b8b8" stroke-width="0.9"/>
<line x1="430.00" y1="718.50" x2="483.50" y2="718.50" stroke="#b8b8b8" stroke-width="0.9"/>
<line x1="428.00" y1="718.50" x2="430.00" y2="718.50" stroke="#b8b8b8" stroke-width="0.8"/>
<text x="428.00" y="720.60" font-size="5.9" text-anchor="end" fill="#222" textLength="12.2" lengthAdjust="spacingAndGlyphs">0.04</text>
<line x1="428.00" y1="680.50" x2="430.00" y2="680.50" stroke="#b8b8b8" stroke-width="0.8"/>
<text x="428.00" y="682.60" font-size="5.9" text-anchor="end" fill="#222" textLength="12.2" lengthAdjust="spacingAndGlyphs">0.05</text>
<line x1="428.00" y1="642.50" x2="430.00" y2="642.50" stroke="#b8b8b8" stroke-width="0.8"/>
<text x="428.00" y="644.60" font-size="5.9" text-anchor="end" fill="#222" textLength="12.2" lengthAdjust="spacingAndGlyphs">0.06</text>
<rect x="435.10" y="686.20" width="11.40" height="32.30" fill="#fff" stroke="#a0a0a0" stroke-width="0.8"/>
<line x1="440.80" y1="689.62" x2="440.80" y2="683.54" stroke="#333" stroke-width="0.8"/>
<line x1="437.80" y1="689.62" x2="443.80" y2="689.62" stroke="#333" stroke-width="0.8"/>
<line x1="437.80" y1="683.54" x2="443.80" y2="683.54" stroke="#333" stroke-width="0.8"/>
<circle cx="437.80" cy="678.90" r="1.2" fill="#333"/>
<circle cx="443.80" cy="679.90" r="1.2" fill="#333"/>
<circle cx="440.80" cy="686.40" r="1.2" fill="#333"/>
<circle cx="437.80" cy="693.50" r="1.2" fill="#333"/>
<circle cx="443.80" cy="693.50" r="1.2" fill="#333"/>
<line x1="440.80" y1="718.50" x2="440.80" y2="720.50" stroke="#b8b8b8" stroke-width="0.8"/>
<text x="443.20" y="724.50" font-size="6.3" text-anchor="end" fill="#222" transform="rotate(-45 443.20 724.50)">PBS</text>
<rect x="451.00" y="663.40" width="11.60" height="55.10" fill="#fff" stroke="#a0a0a0" stroke-width="0.8"/>
<line x1="456.80" y1="670.24" x2="456.80" y2="656.56" stroke="#ff4040" stroke-width="0.8"/>
<line x1="453.80" y1="670.24" x2="459.80" y2="670.24" stroke="#ff4040" stroke-width="0.8"/>
<line x1="453.80" y1="656.56" x2="459.80" y2="656.56" stroke="#ff4040" stroke-width="0.8"/>
<rect x="455.70" y="642.60" width="2.20" height="2.20" fill="#ff2020"/>
<rect x="455.70" y="658.90" width="2.20" height="2.20" fill="#ff2020"/>
<rect x="455.70" y="661.90" width="2.20" height="2.20" fill="#ff2020"/>
<rect x="455.70" y="669.10" width="2.20" height="2.20" fill="#ff2020"/>
<rect x="455.70" y="682.90" width="2.20" height="2.20" fill="#ff2020"/>
<line x1="456.80" y1="718.50" x2="456.80" y2="720.50" stroke="#b8b8b8" stroke-width="0.8"/>
<text x="459.20" y="724.50" font-size="6.3" text-anchor="end" fill="#222" transform="rotate(-45 459.20 724.50)">DDAB30</text>
<rect x="467.30" y="678.22" width="11.60" height="40.28" fill="#fff" stroke="#a0a0a0" stroke-width="0.8"/>
<line x1="473.10" y1="682.02" x2="473.10" y2="674.04" stroke="#18c818" stroke-width="0.8"/>
<line x1="470.10" y1="682.02" x2="476.10" y2="682.02" stroke="#18c818" stroke-width="0.8"/>
<line x1="470.10" y1="674.04" x2="476.10" y2="674.04" stroke="#18c818" stroke-width="0.8"/>
<path d="M473.10 668.70L474.50 671.20L471.70 671.20Z" fill="#18c818"/>
<path d="M470.10 673.70L471.50 676.20L468.70 676.20Z" fill="#18c818"/>
<path d="M476.10 673.70L477.50 676.20L474.70 676.20Z" fill="#18c818"/>
<path d="M473.10 681.90L474.50 684.40L471.70 684.40Z" fill="#18c818"/>
<path d="M473.10 688.60L474.50 691.10L471.70 691.10Z" fill="#18c818"/>
<line x1="473.10" y1="718.50" x2="473.10" y2="720.50" stroke="#b8b8b8" stroke-width="0.8"/>
<text x="475.50" y="724.50" font-size="6.3" text-anchor="end" fill="#222" transform="rotate(-45 475.50 724.50)">DOTAP40</text>
<text x="412.50" y="672.95" font-size="6.6" text-anchor="middle" fill="#222" transform="rotate(-90 412.50 672.95)">Liver/Body Weight (g/g)</text>
<text x="433.70" y="632.00" font-size="6.1" fill="#222" textLength="26.3" lengthAdjust="spacingAndGlyphs">P=0.0135</text>
<line x1="437.80" y1="637.20" x2="456.50" y2="637.20" stroke="#666" stroke-width="0.8"/>
<polygon points="447.30,634.00 447.67,634.89 448.63,634.97 447.90,635.59 448.12,636.53 447.30,636.03 446.48,636.53 446.70,635.59 445.97,634.97 446.93,634.89" fill="#222"/>
<line x1="521.50" y1="623.40" x2="521.50" y2="718.80" stroke="#b8b8b8" stroke-width="0.9"/>
<line x1="521.50" y1="718.30" x2="572.30" y2="718.30" stroke="#b8b8b8" stroke-width="0.9"/>
<line x1="519.50" y1="718.30" x2="521.50" y2="718.30" stroke="#b8b8b8" stroke-width="0.8"/>
<text x="519.50" y="720.40" font-size="5.9" text-anchor="end" fill="#222" textLength="14.0" lengthAdjust="spacingAndGlyphs">0.004</text>
<line x1="519.50" y1="697.00" x2="521.50" y2="697.00" stroke="#b8b8b8" stroke-width="0.8"/>
<text x="519.50" y="699.10" font-size="5.9" text-anchor="end" fill="#222" textLength="14.0" lengthAdjust="spacingAndGlyphs">0.005</text>
<line x1="519.50" y1="675.70" x2="521.50" y2="675.70" stroke="#b8b8b8" stroke-width="0.8"/>
<text x="519.50" y="677.80" font-size="5.9" text-anchor="end" fill="#222" textLength="14.0" lengthAdjust="spacingAndGlyphs">0.006</text>
<line x1="519.50" y1="654.40" x2="521.50" y2="654.40" stroke="#b8b8b8" stroke-width="0.8"/>
<text x="519.50" y="656.50" font-size="5.9" text-anchor="end" fill="#222" textLength="14.0" lengthAdjust="spacingAndGlyphs">0.007</text>
<line x1="519.50" y1="633.10" x2="521.50" y2="633.10" stroke="#b8b8b8" stroke-width="0.8"/>
<text x="519.50" y="635.20" font-size="5.9" text-anchor="end" fill="#222" textLength="14.0" lengthAdjust="spacingAndGlyphs">0.008</text>
<rect x="526.60" y="694.23" width="10.10" height="24.07" fill="#fff" stroke="#a0a0a0" stroke-width="0.8"/>
<line x1="531.65" y1="699.56" x2="531.65" y2="688.48" stroke="#333" stroke-width="0.8"/>
<line x1="528.65" y1="699.56" x2="534.65" y2="699.56" stroke="#333" stroke-width="0.8"/>
<line x1="528.65" y1="688.48" x2="534.65" y2="688.48" stroke="#333" stroke-width="0.8"/>
<circle cx="531.65" cy="680.90" r="1.2" fill="#333"/>
<circle cx="531.65" cy="688.80" r="1.2" fill="#333"/>
<circle cx="531.65" cy="693.90" r="1.2" fill="#333"/>
<circle cx="531.65" cy="699.00" r="1.2" fill="#333"/>
<circle cx="531.65" cy="710.20" r="1.2" fill="#333"/>
<line x1="531.65" y1="718.30" x2="531.65" y2="720.30" stroke="#b8b8b8" stroke-width="0.8"/>
<text x="534.05" y="724.30" font-size="6.3" text-anchor="end" fill="#222" transform="rotate(-45 534.05 724.30)">PBS</text>
<rect x="541.40" y="669.95" width="10.60" height="48.35" fill="#fff" stroke="#a0a0a0" stroke-width="0.8"/>
<line x1="546.70" y1="676.13" x2="546.70" y2="663.35" stroke="#ff4040" stroke-width="0.8"/>
<line x1="543.70" y1="676.13" x2="549.70" y2="676.13" stroke="#ff4040" stroke-width="0.8"/>
<line x1="543.70" y1="663.35" x2="549.70" y2="663.35" stroke="#ff4040" stroke-width="0.8"/>
<rect x="545.60" y="641.60" width="2.20" height="2.20" fill="#ff2020"/>
<rect x="545.60" y="671.10" width="2.20" height="2.20" fill="#ff2020"/>
<rect x="542.60" y="679.20" width="2.20" height="2.20" fill="#ff2020"/>
<rect x="545.60" y="677.20" width="2.20" height="2.20" fill="#ff2020"/>
<rect x="548.60" y="677.20" width="2.20" height="2.20" fill="#ff2020"/>
<line x1="546.70" y1="718.30" x2="546.70" y2="720.30" stroke="#b8b8b8" stroke-width="0.8"/>
<text x="549.10" y="724.30" font-size="6.3" text-anchor="end" fill="#222" transform="rotate(-45 549.10 724.30)">DDAB30</text>
<rect x="557.10" y="690.61" width="10.50" height="27.69" fill="#fff" stroke="#a0a0a0" stroke-width="0.8"/>
<line x1="562.35" y1="696.57" x2="562.35" y2="685.50" stroke="#18c818" stroke-width="0.8"/>
<line x1="559.35" y1="696.57" x2="565.35" y2="696.57" stroke="#18c818" stroke-width="0.8"/>
<line x1="559.35" y1="685.50" x2="565.35" y2="685.50" stroke="#18c818" stroke-width="0.8"/>
<path d="M559.85 679.40L561.25 681.90L558.45 681.90Z" fill="#18c818"/>
<path d="M564.85 681.40L566.25 683.90L563.45 683.90Z" fill="#18c818"/>
<path d="M562.35 684.90L563.75 687.40L560.95 687.40Z" fill="#18c818"/>
<path d="M562.35 695.00L563.75 697.50L560.95 697.50Z" fill="#18c818"/>
<path d="M562.35 706.80L563.75 709.30L560.95 709.30Z" fill="#18c818"/>
<line x1="562.35" y1="718.30" x2="562.35" y2="720.30" stroke="#b8b8b8" stroke-width="0.8"/>
<text x="564.75" y="724.30" font-size="6.3" text-anchor="end" fill="#222" transform="rotate(-45 564.75 724.30)">DOTAP40</text>
<text x="500.80" y="672.85" font-size="6.6" text-anchor="middle" fill="#222" transform="rotate(-90 500.80 672.85)">Spleen/Body Weight (g/g)</text>
<text x="527.80" y="631.90" font-size="5.9" fill="#222" textLength="25.2" lengthAdjust="spacingAndGlyphs">P=0.0213</text>
<line x1="530.60" y1="637.60" x2="548.00" y2="637.60" stroke="#aaa" stroke-width="0.9"/>
<polygon points="539.40,633.60 539.77,634.49 540.73,634.57 540.00,635.19 540.22,636.13 539.40,635.63 538.58,636.13 538.80,635.19 538.07,634.57 539.03,634.49" fill="#222"/>
<line x1="609.40" y1="620.90" x2="609.40" y2="717.00" stroke="#b8b8b8" stroke-width="0.9"/>
<line x1="609.40" y1="716.50" x2="659.80" y2="716.50" stroke="#b8b8b8" stroke-width="0.9"/>
<line x1="607.40" y1="716.50" x2="609.40" y2="716.50" stroke="#b8b8b8" stroke-width="0.8"/>
<text x="607.40" y="718.60" font-size="5.9" text-anchor="end" fill="#222" textLength="14.0" lengthAdjust="spacingAndGlyphs">0.006</text>
<line x1="607.40" y1="684.60" x2="609.40" y2="684.60" stroke="#b8b8b8" stroke-width="0.8"/>
<text x="607.40" y="686.70" font-size="5.9" text-anchor="end" fill="#222" textLength="14.0" lengthAdjust="spacingAndGlyphs">0.007</text>
<line x1="607.40" y1="652.70" x2="609.40" y2="652.70" stroke="#b8b8b8" stroke-width="0.8"/>
<text x="607.40" y="654.80" font-size="5.9" text-anchor="end" fill="#222" textLength="14.0" lengthAdjust="spacingAndGlyphs">0.008</text>
<line x1="607.40" y1="620.80" x2="609.40" y2="620.80" stroke="#b8b8b8" stroke-width="0.8"/>
<text x="607.40" y="622.90" font-size="5.9" text-anchor="end" fill="#222" textLength="14.0" lengthAdjust="spacingAndGlyphs">0.009</text>
<rect x="614.50" y="666.10" width="10.10" height="50.40" fill="#fff" stroke="#a0a0a0" stroke-width="0.8"/>
<line x1="619.55" y1="674.71" x2="619.55" y2="659.08" stroke="#333" stroke-width="0.8"/>
<line x1="616.55" y1="674.71" x2="622.55" y2="674.71" stroke="#333" stroke-width="0.8"/>
<line x1="616.55" y1="659.08" x2="622.55" y2="659.08" stroke="#333" stroke-width="0.8"/>
<circle cx="617.55" cy="649.40" r="1.2" fill="#333"/>
<circle cx="622.05" cy="650.80" r="1.2" fill="#333"/>
<circle cx="619.55" cy="670.70" r="1.2" fill="#333"/>
<circle cx="619.55" cy="674.80" r="1.2" fill="#333"/>
<circle cx="619.55" cy="683.90" r="1.2" fill="#333"/>
<line x1="619.55" y1="716.50" x2="619.55" y2="718.50" stroke="#b8b8b8" stroke-width="0.8"/>
<text x="621.95" y="722.50" font-size="6.3" text-anchor="end" fill="#222" transform="rotate(-45 621.95 722.50)">PBS</text>
<rect x="629.30" y="652.70" width="10.60" height="63.80" fill="#fff" stroke="#a0a0a0" stroke-width="0.8"/>
<line x1="634.60" y1="662.91" x2="634.60" y2="642.81" stroke="#ff4040" stroke-width="0.8"/>
<line x1="631.60" y1="662.91" x2="637.60" y2="662.91" stroke="#ff4040" stroke-width="0.8"/>
<line x1="631.60" y1="642.81" x2="637.60" y2="642.81" stroke="#ff4040" stroke-width="0.8"/>
<rect x="633.50" y="629.40" width="2.20" height="2.20" fill="#ff2020"/>
<rect x="633.50" y="638.10" width="2.20" height="2.20" fill="#ff2020"/>
<rect x="633.50" y="644.60" width="2.20" height="2.20" fill="#ff2020"/>
<rect x="633.50" y="655.40" width="2.20" height="2.20" fill="#ff2020"/>
<rect x="633.50" y="688.90" width="2.20" height="2.20" fill="#ff2020"/>
<line x1="634.60" y1="716.50" x2="634.60" y2="718.50" stroke="#b8b8b8" stroke-width="0.8"/>
<text x="637.00" y="722.50" font-size="6.3" text-anchor="end" fill="#222" transform="rotate(-45 637.00 722.50)">DDAB30</text>
<rect x="644.30" y="672.48" width="10.40" height="44.02" fill="#fff" stroke="#a0a0a0" stroke-width="0.8"/>
<line x1="649.50" y1="677.58" x2="649.50" y2="667.37" stroke="#18c818" stroke-width="0.8"/>
<line x1="646.50" y1="677.58" x2="652.50" y2="677.58" stroke="#18c818" stroke-width="0.8"/>
<line x1="646.50" y1="667.37" x2="652.50" y2="667.37" stroke="#18c818" stroke-width="0.8"/>
<path d="M649.50 653.80L650.90 656.30L648.10 656.30Z" fill="#18c818"/>
<path d="M649.50 665.60L650.90 668.10L648.10 668.10Z" fill="#18c818"/>
<path d="M649.50 673.70L650.90 676.20L648.10 676.20Z" fill="#18c818"/>
<path d="M647.00 681.40L648.40 683.90L645.60 683.90Z" fill="#18c818"/>
<path d="M652.00 681.40L653.40 683.90L650.60 683.90Z" fill="#18c818"/>
<line x1="649.50" y1="716.50" x2="649.50" y2="718.50" stroke="#b8b8b8" stroke-width="0.8"/>
<text x="651.90" y="722.50" font-size="6.3" text-anchor="end" fill="#222" transform="rotate(-45 651.90 722.50)">DOTAP40</text>
<text x="590.30" y="670.70" font-size="6.6" text-anchor="middle" fill="#222" transform="rotate(-90 590.30 670.70)">Lung/Body Weight (g/g)</text>
</svg>
</body></html>
